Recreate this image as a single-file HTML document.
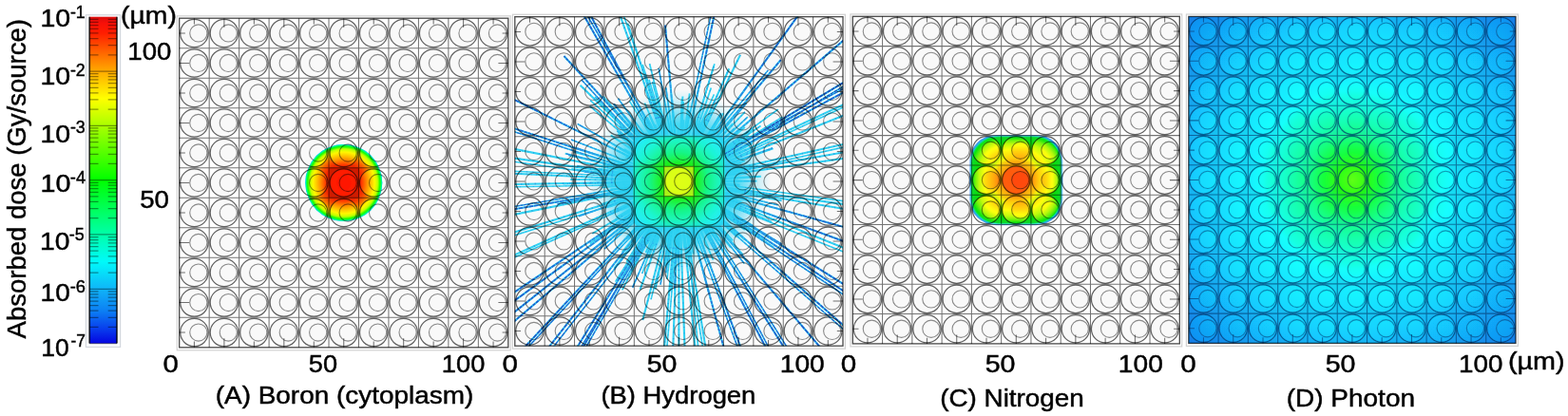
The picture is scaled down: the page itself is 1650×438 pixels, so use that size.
<!DOCTYPE html>
<html><head><meta charset="utf-8"><title>Absorbed dose maps</title>
<style>html,body{margin:0;padding:0;background:#fff}svg{display:block}text{font-family:"Liberation Sans",sans-serif;fill:#000;stroke:#000;stroke-width:0.45px}</style>
</head><body>
<svg width="1650" height="438" viewBox="0 0 1650 438">
<rect width="1650" height="438" fill="#fff"/>
<defs>
<filter id="soft" x="-2%" y="-2%" width="104%" height="104%"><feGaussianBlur stdDeviation="0.4"/></filter>
<linearGradient id="cb" x1="0" y1="0" x2="0" y2="1"><stop offset="0.0000" stop-color="#dc0c0c"/><stop offset="0.0200" stop-color="#f81008"/><stop offset="0.0500" stop-color="#ff1e00"/><stop offset="0.1667" stop-color="#ffaa00"/><stop offset="0.2500" stop-color="#ffff00"/><stop offset="0.5000" stop-color="#00ff00"/><stop offset="0.6667" stop-color="#00ffaa"/><stop offset="0.7500" stop-color="#00fafa"/><stop offset="0.8333" stop-color="#10b4f8"/><stop offset="0.9000" stop-color="#0c80f4"/><stop offset="0.9600" stop-color="#0838ec"/><stop offset="1.0000" stop-color="#0404e0"/></linearGradient>
<clipPath id="ccA">
<circle cx="204.43" cy="34.95" r="14.70"/>
<circle cx="235.90" cy="34.95" r="14.70"/>
<circle cx="267.36" cy="34.95" r="14.70"/>
<circle cx="298.82" cy="34.95" r="14.70"/>
<circle cx="330.29" cy="34.95" r="14.70"/>
<circle cx="361.75" cy="34.95" r="14.70"/>
<circle cx="393.21" cy="34.95" r="14.70"/>
<circle cx="424.68" cy="34.95" r="14.70"/>
<circle cx="456.14" cy="34.95" r="14.70"/>
<circle cx="487.60" cy="34.95" r="14.70"/>
<circle cx="519.07" cy="34.95" r="14.70"/>
<circle cx="204.43" cy="66.46" r="14.70"/>
<circle cx="235.90" cy="66.46" r="14.70"/>
<circle cx="267.36" cy="66.46" r="14.70"/>
<circle cx="298.82" cy="66.46" r="14.70"/>
<circle cx="330.29" cy="66.46" r="14.70"/>
<circle cx="361.75" cy="66.46" r="14.70"/>
<circle cx="393.21" cy="66.46" r="14.70"/>
<circle cx="424.68" cy="66.46" r="14.70"/>
<circle cx="456.14" cy="66.46" r="14.70"/>
<circle cx="487.60" cy="66.46" r="14.70"/>
<circle cx="519.07" cy="66.46" r="14.70"/>
<circle cx="204.43" cy="97.97" r="14.70"/>
<circle cx="235.90" cy="97.97" r="14.70"/>
<circle cx="267.36" cy="97.97" r="14.70"/>
<circle cx="298.82" cy="97.97" r="14.70"/>
<circle cx="330.29" cy="97.97" r="14.70"/>
<circle cx="361.75" cy="97.97" r="14.70"/>
<circle cx="393.21" cy="97.97" r="14.70"/>
<circle cx="424.68" cy="97.97" r="14.70"/>
<circle cx="456.14" cy="97.97" r="14.70"/>
<circle cx="487.60" cy="97.97" r="14.70"/>
<circle cx="519.07" cy="97.97" r="14.70"/>
<circle cx="204.43" cy="129.48" r="14.70"/>
<circle cx="235.90" cy="129.48" r="14.70"/>
<circle cx="267.36" cy="129.48" r="14.70"/>
<circle cx="298.82" cy="129.48" r="14.70"/>
<circle cx="330.29" cy="129.48" r="14.70"/>
<circle cx="361.75" cy="129.48" r="14.70"/>
<circle cx="393.21" cy="129.48" r="14.70"/>
<circle cx="424.68" cy="129.48" r="14.70"/>
<circle cx="456.14" cy="129.48" r="14.70"/>
<circle cx="487.60" cy="129.48" r="14.70"/>
<circle cx="519.07" cy="129.48" r="14.70"/>
<circle cx="204.43" cy="160.99" r="14.70"/>
<circle cx="235.90" cy="160.99" r="14.70"/>
<circle cx="267.36" cy="160.99" r="14.70"/>
<circle cx="298.82" cy="160.99" r="14.70"/>
<circle cx="330.29" cy="160.99" r="14.70"/>
<circle cx="361.75" cy="160.99" r="14.70"/>
<circle cx="393.21" cy="160.99" r="14.70"/>
<circle cx="424.68" cy="160.99" r="14.70"/>
<circle cx="456.14" cy="160.99" r="14.70"/>
<circle cx="487.60" cy="160.99" r="14.70"/>
<circle cx="519.07" cy="160.99" r="14.70"/>
<circle cx="204.43" cy="192.50" r="14.70"/>
<circle cx="235.90" cy="192.50" r="14.70"/>
<circle cx="267.36" cy="192.50" r="14.70"/>
<circle cx="298.82" cy="192.50" r="14.70"/>
<circle cx="330.29" cy="192.50" r="14.70"/>
<circle cx="361.75" cy="192.50" r="14.70"/>
<circle cx="393.21" cy="192.50" r="14.70"/>
<circle cx="424.68" cy="192.50" r="14.70"/>
<circle cx="456.14" cy="192.50" r="14.70"/>
<circle cx="487.60" cy="192.50" r="14.70"/>
<circle cx="519.07" cy="192.50" r="14.70"/>
<circle cx="204.43" cy="224.01" r="14.70"/>
<circle cx="235.90" cy="224.01" r="14.70"/>
<circle cx="267.36" cy="224.01" r="14.70"/>
<circle cx="298.82" cy="224.01" r="14.70"/>
<circle cx="330.29" cy="224.01" r="14.70"/>
<circle cx="361.75" cy="224.01" r="14.70"/>
<circle cx="393.21" cy="224.01" r="14.70"/>
<circle cx="424.68" cy="224.01" r="14.70"/>
<circle cx="456.14" cy="224.01" r="14.70"/>
<circle cx="487.60" cy="224.01" r="14.70"/>
<circle cx="519.07" cy="224.01" r="14.70"/>
<circle cx="204.43" cy="255.52" r="14.70"/>
<circle cx="235.90" cy="255.52" r="14.70"/>
<circle cx="267.36" cy="255.52" r="14.70"/>
<circle cx="298.82" cy="255.52" r="14.70"/>
<circle cx="330.29" cy="255.52" r="14.70"/>
<circle cx="361.75" cy="255.52" r="14.70"/>
<circle cx="393.21" cy="255.52" r="14.70"/>
<circle cx="424.68" cy="255.52" r="14.70"/>
<circle cx="456.14" cy="255.52" r="14.70"/>
<circle cx="487.60" cy="255.52" r="14.70"/>
<circle cx="519.07" cy="255.52" r="14.70"/>
<circle cx="204.43" cy="287.03" r="14.70"/>
<circle cx="235.90" cy="287.03" r="14.70"/>
<circle cx="267.36" cy="287.03" r="14.70"/>
<circle cx="298.82" cy="287.03" r="14.70"/>
<circle cx="330.29" cy="287.03" r="14.70"/>
<circle cx="361.75" cy="287.03" r="14.70"/>
<circle cx="393.21" cy="287.03" r="14.70"/>
<circle cx="424.68" cy="287.03" r="14.70"/>
<circle cx="456.14" cy="287.03" r="14.70"/>
<circle cx="487.60" cy="287.03" r="14.70"/>
<circle cx="519.07" cy="287.03" r="14.70"/>
<circle cx="204.43" cy="318.54" r="14.70"/>
<circle cx="235.90" cy="318.54" r="14.70"/>
<circle cx="267.36" cy="318.54" r="14.70"/>
<circle cx="298.82" cy="318.54" r="14.70"/>
<circle cx="330.29" cy="318.54" r="14.70"/>
<circle cx="361.75" cy="318.54" r="14.70"/>
<circle cx="393.21" cy="318.54" r="14.70"/>
<circle cx="424.68" cy="318.54" r="14.70"/>
<circle cx="456.14" cy="318.54" r="14.70"/>
<circle cx="487.60" cy="318.54" r="14.70"/>
<circle cx="519.07" cy="318.54" r="14.70"/>
<circle cx="204.43" cy="350.05" r="14.70"/>
<circle cx="235.90" cy="350.05" r="14.70"/>
<circle cx="267.36" cy="350.05" r="14.70"/>
<circle cx="298.82" cy="350.05" r="14.70"/>
<circle cx="330.29" cy="350.05" r="14.70"/>
<circle cx="361.75" cy="350.05" r="14.70"/>
<circle cx="393.21" cy="350.05" r="14.70"/>
<circle cx="424.68" cy="350.05" r="14.70"/>
<circle cx="456.14" cy="350.05" r="14.70"/>
<circle cx="487.60" cy="350.05" r="14.70"/>
<circle cx="519.07" cy="350.05" r="14.70"/>
</clipPath>
<clipPath id="ccC">
<circle cx="912.94" cy="32.96" r="14.70"/>
<circle cx="944.21" cy="32.96" r="14.70"/>
<circle cx="975.48" cy="32.96" r="14.70"/>
<circle cx="1006.75" cy="32.96" r="14.70"/>
<circle cx="1038.03" cy="32.96" r="14.70"/>
<circle cx="1069.30" cy="32.96" r="14.70"/>
<circle cx="1100.57" cy="32.96" r="14.70"/>
<circle cx="1131.85" cy="32.96" r="14.70"/>
<circle cx="1163.12" cy="32.96" r="14.70"/>
<circle cx="1194.39" cy="32.96" r="14.70"/>
<circle cx="1225.66" cy="32.96" r="14.70"/>
<circle cx="912.94" cy="64.29" r="14.70"/>
<circle cx="944.21" cy="64.29" r="14.70"/>
<circle cx="975.48" cy="64.29" r="14.70"/>
<circle cx="1006.75" cy="64.29" r="14.70"/>
<circle cx="1038.03" cy="64.29" r="14.70"/>
<circle cx="1069.30" cy="64.29" r="14.70"/>
<circle cx="1100.57" cy="64.29" r="14.70"/>
<circle cx="1131.85" cy="64.29" r="14.70"/>
<circle cx="1163.12" cy="64.29" r="14.70"/>
<circle cx="1194.39" cy="64.29" r="14.70"/>
<circle cx="1225.66" cy="64.29" r="14.70"/>
<circle cx="912.94" cy="95.62" r="14.70"/>
<circle cx="944.21" cy="95.62" r="14.70"/>
<circle cx="975.48" cy="95.62" r="14.70"/>
<circle cx="1006.75" cy="95.62" r="14.70"/>
<circle cx="1038.03" cy="95.62" r="14.70"/>
<circle cx="1069.30" cy="95.62" r="14.70"/>
<circle cx="1100.57" cy="95.62" r="14.70"/>
<circle cx="1131.85" cy="95.62" r="14.70"/>
<circle cx="1163.12" cy="95.62" r="14.70"/>
<circle cx="1194.39" cy="95.62" r="14.70"/>
<circle cx="1225.66" cy="95.62" r="14.70"/>
<circle cx="912.94" cy="126.95" r="14.70"/>
<circle cx="944.21" cy="126.95" r="14.70"/>
<circle cx="975.48" cy="126.95" r="14.70"/>
<circle cx="1006.75" cy="126.95" r="14.70"/>
<circle cx="1038.03" cy="126.95" r="14.70"/>
<circle cx="1069.30" cy="126.95" r="14.70"/>
<circle cx="1100.57" cy="126.95" r="14.70"/>
<circle cx="1131.85" cy="126.95" r="14.70"/>
<circle cx="1163.12" cy="126.95" r="14.70"/>
<circle cx="1194.39" cy="126.95" r="14.70"/>
<circle cx="1225.66" cy="126.95" r="14.70"/>
<circle cx="912.94" cy="158.27" r="14.70"/>
<circle cx="944.21" cy="158.27" r="14.70"/>
<circle cx="975.48" cy="158.27" r="14.70"/>
<circle cx="1006.75" cy="158.27" r="14.70"/>
<circle cx="1038.03" cy="158.27" r="14.70"/>
<circle cx="1069.30" cy="158.27" r="14.70"/>
<circle cx="1100.57" cy="158.27" r="14.70"/>
<circle cx="1131.85" cy="158.27" r="14.70"/>
<circle cx="1163.12" cy="158.27" r="14.70"/>
<circle cx="1194.39" cy="158.27" r="14.70"/>
<circle cx="1225.66" cy="158.27" r="14.70"/>
<circle cx="912.94" cy="189.60" r="14.70"/>
<circle cx="944.21" cy="189.60" r="14.70"/>
<circle cx="975.48" cy="189.60" r="14.70"/>
<circle cx="1006.75" cy="189.60" r="14.70"/>
<circle cx="1038.03" cy="189.60" r="14.70"/>
<circle cx="1069.30" cy="189.60" r="14.70"/>
<circle cx="1100.57" cy="189.60" r="14.70"/>
<circle cx="1131.85" cy="189.60" r="14.70"/>
<circle cx="1163.12" cy="189.60" r="14.70"/>
<circle cx="1194.39" cy="189.60" r="14.70"/>
<circle cx="1225.66" cy="189.60" r="14.70"/>
<circle cx="912.94" cy="220.93" r="14.70"/>
<circle cx="944.21" cy="220.93" r="14.70"/>
<circle cx="975.48" cy="220.93" r="14.70"/>
<circle cx="1006.75" cy="220.93" r="14.70"/>
<circle cx="1038.03" cy="220.93" r="14.70"/>
<circle cx="1069.30" cy="220.93" r="14.70"/>
<circle cx="1100.57" cy="220.93" r="14.70"/>
<circle cx="1131.85" cy="220.93" r="14.70"/>
<circle cx="1163.12" cy="220.93" r="14.70"/>
<circle cx="1194.39" cy="220.93" r="14.70"/>
<circle cx="1225.66" cy="220.93" r="14.70"/>
<circle cx="912.94" cy="252.25" r="14.70"/>
<circle cx="944.21" cy="252.25" r="14.70"/>
<circle cx="975.48" cy="252.25" r="14.70"/>
<circle cx="1006.75" cy="252.25" r="14.70"/>
<circle cx="1038.03" cy="252.25" r="14.70"/>
<circle cx="1069.30" cy="252.25" r="14.70"/>
<circle cx="1100.57" cy="252.25" r="14.70"/>
<circle cx="1131.85" cy="252.25" r="14.70"/>
<circle cx="1163.12" cy="252.25" r="14.70"/>
<circle cx="1194.39" cy="252.25" r="14.70"/>
<circle cx="1225.66" cy="252.25" r="14.70"/>
<circle cx="912.94" cy="283.58" r="14.70"/>
<circle cx="944.21" cy="283.58" r="14.70"/>
<circle cx="975.48" cy="283.58" r="14.70"/>
<circle cx="1006.75" cy="283.58" r="14.70"/>
<circle cx="1038.03" cy="283.58" r="14.70"/>
<circle cx="1069.30" cy="283.58" r="14.70"/>
<circle cx="1100.57" cy="283.58" r="14.70"/>
<circle cx="1131.85" cy="283.58" r="14.70"/>
<circle cx="1163.12" cy="283.58" r="14.70"/>
<circle cx="1194.39" cy="283.58" r="14.70"/>
<circle cx="1225.66" cy="283.58" r="14.70"/>
<circle cx="912.94" cy="314.91" r="14.70"/>
<circle cx="944.21" cy="314.91" r="14.70"/>
<circle cx="975.48" cy="314.91" r="14.70"/>
<circle cx="1006.75" cy="314.91" r="14.70"/>
<circle cx="1038.03" cy="314.91" r="14.70"/>
<circle cx="1069.30" cy="314.91" r="14.70"/>
<circle cx="1100.57" cy="314.91" r="14.70"/>
<circle cx="1131.85" cy="314.91" r="14.70"/>
<circle cx="1163.12" cy="314.91" r="14.70"/>
<circle cx="1194.39" cy="314.91" r="14.70"/>
<circle cx="1225.66" cy="314.91" r="14.70"/>
<circle cx="912.94" cy="346.24" r="14.70"/>
<circle cx="944.21" cy="346.24" r="14.70"/>
<circle cx="975.48" cy="346.24" r="14.70"/>
<circle cx="1006.75" cy="346.24" r="14.70"/>
<circle cx="1038.03" cy="346.24" r="14.70"/>
<circle cx="1069.30" cy="346.24" r="14.70"/>
<circle cx="1100.57" cy="346.24" r="14.70"/>
<circle cx="1131.85" cy="346.24" r="14.70"/>
<circle cx="1163.12" cy="346.24" r="14.70"/>
<circle cx="1194.39" cy="346.24" r="14.70"/>
<circle cx="1225.66" cy="346.24" r="14.70"/>
</clipPath>
<clipPath id="ccD">
<circle cx="1266.45" cy="33.04" r="14.70"/>
<circle cx="1297.74" cy="33.04" r="14.70"/>
<circle cx="1329.03" cy="33.04" r="14.70"/>
<circle cx="1360.32" cy="33.04" r="14.70"/>
<circle cx="1391.61" cy="33.04" r="14.70"/>
<circle cx="1422.90" cy="33.04" r="14.70"/>
<circle cx="1454.19" cy="33.04" r="14.70"/>
<circle cx="1485.48" cy="33.04" r="14.70"/>
<circle cx="1516.77" cy="33.04" r="14.70"/>
<circle cx="1548.06" cy="33.04" r="14.70"/>
<circle cx="1579.35" cy="33.04" r="14.70"/>
<circle cx="1266.45" cy="64.31" r="14.70"/>
<circle cx="1297.74" cy="64.31" r="14.70"/>
<circle cx="1329.03" cy="64.31" r="14.70"/>
<circle cx="1360.32" cy="64.31" r="14.70"/>
<circle cx="1391.61" cy="64.31" r="14.70"/>
<circle cx="1422.90" cy="64.31" r="14.70"/>
<circle cx="1454.19" cy="64.31" r="14.70"/>
<circle cx="1485.48" cy="64.31" r="14.70"/>
<circle cx="1516.77" cy="64.31" r="14.70"/>
<circle cx="1548.06" cy="64.31" r="14.70"/>
<circle cx="1579.35" cy="64.31" r="14.70"/>
<circle cx="1266.45" cy="95.58" r="14.70"/>
<circle cx="1297.74" cy="95.58" r="14.70"/>
<circle cx="1329.03" cy="95.58" r="14.70"/>
<circle cx="1360.32" cy="95.58" r="14.70"/>
<circle cx="1391.61" cy="95.58" r="14.70"/>
<circle cx="1422.90" cy="95.58" r="14.70"/>
<circle cx="1454.19" cy="95.58" r="14.70"/>
<circle cx="1485.48" cy="95.58" r="14.70"/>
<circle cx="1516.77" cy="95.58" r="14.70"/>
<circle cx="1548.06" cy="95.58" r="14.70"/>
<circle cx="1579.35" cy="95.58" r="14.70"/>
<circle cx="1266.45" cy="126.85" r="14.70"/>
<circle cx="1297.74" cy="126.85" r="14.70"/>
<circle cx="1329.03" cy="126.85" r="14.70"/>
<circle cx="1360.32" cy="126.85" r="14.70"/>
<circle cx="1391.61" cy="126.85" r="14.70"/>
<circle cx="1422.90" cy="126.85" r="14.70"/>
<circle cx="1454.19" cy="126.85" r="14.70"/>
<circle cx="1485.48" cy="126.85" r="14.70"/>
<circle cx="1516.77" cy="126.85" r="14.70"/>
<circle cx="1548.06" cy="126.85" r="14.70"/>
<circle cx="1579.35" cy="126.85" r="14.70"/>
<circle cx="1266.45" cy="158.13" r="14.70"/>
<circle cx="1297.74" cy="158.13" r="14.70"/>
<circle cx="1329.03" cy="158.13" r="14.70"/>
<circle cx="1360.32" cy="158.13" r="14.70"/>
<circle cx="1391.61" cy="158.13" r="14.70"/>
<circle cx="1422.90" cy="158.13" r="14.70"/>
<circle cx="1454.19" cy="158.13" r="14.70"/>
<circle cx="1485.48" cy="158.13" r="14.70"/>
<circle cx="1516.77" cy="158.13" r="14.70"/>
<circle cx="1548.06" cy="158.13" r="14.70"/>
<circle cx="1579.35" cy="158.13" r="14.70"/>
<circle cx="1266.45" cy="189.40" r="14.70"/>
<circle cx="1297.74" cy="189.40" r="14.70"/>
<circle cx="1329.03" cy="189.40" r="14.70"/>
<circle cx="1360.32" cy="189.40" r="14.70"/>
<circle cx="1391.61" cy="189.40" r="14.70"/>
<circle cx="1422.90" cy="189.40" r="14.70"/>
<circle cx="1454.19" cy="189.40" r="14.70"/>
<circle cx="1485.48" cy="189.40" r="14.70"/>
<circle cx="1516.77" cy="189.40" r="14.70"/>
<circle cx="1548.06" cy="189.40" r="14.70"/>
<circle cx="1579.35" cy="189.40" r="14.70"/>
<circle cx="1266.45" cy="220.67" r="14.70"/>
<circle cx="1297.74" cy="220.67" r="14.70"/>
<circle cx="1329.03" cy="220.67" r="14.70"/>
<circle cx="1360.32" cy="220.67" r="14.70"/>
<circle cx="1391.61" cy="220.67" r="14.70"/>
<circle cx="1422.90" cy="220.67" r="14.70"/>
<circle cx="1454.19" cy="220.67" r="14.70"/>
<circle cx="1485.48" cy="220.67" r="14.70"/>
<circle cx="1516.77" cy="220.67" r="14.70"/>
<circle cx="1548.06" cy="220.67" r="14.70"/>
<circle cx="1579.35" cy="220.67" r="14.70"/>
<circle cx="1266.45" cy="251.95" r="14.70"/>
<circle cx="1297.74" cy="251.95" r="14.70"/>
<circle cx="1329.03" cy="251.95" r="14.70"/>
<circle cx="1360.32" cy="251.95" r="14.70"/>
<circle cx="1391.61" cy="251.95" r="14.70"/>
<circle cx="1422.90" cy="251.95" r="14.70"/>
<circle cx="1454.19" cy="251.95" r="14.70"/>
<circle cx="1485.48" cy="251.95" r="14.70"/>
<circle cx="1516.77" cy="251.95" r="14.70"/>
<circle cx="1548.06" cy="251.95" r="14.70"/>
<circle cx="1579.35" cy="251.95" r="14.70"/>
<circle cx="1266.45" cy="283.22" r="14.70"/>
<circle cx="1297.74" cy="283.22" r="14.70"/>
<circle cx="1329.03" cy="283.22" r="14.70"/>
<circle cx="1360.32" cy="283.22" r="14.70"/>
<circle cx="1391.61" cy="283.22" r="14.70"/>
<circle cx="1422.90" cy="283.22" r="14.70"/>
<circle cx="1454.19" cy="283.22" r="14.70"/>
<circle cx="1485.48" cy="283.22" r="14.70"/>
<circle cx="1516.77" cy="283.22" r="14.70"/>
<circle cx="1548.06" cy="283.22" r="14.70"/>
<circle cx="1579.35" cy="283.22" r="14.70"/>
<circle cx="1266.45" cy="314.49" r="14.70"/>
<circle cx="1297.74" cy="314.49" r="14.70"/>
<circle cx="1329.03" cy="314.49" r="14.70"/>
<circle cx="1360.32" cy="314.49" r="14.70"/>
<circle cx="1391.61" cy="314.49" r="14.70"/>
<circle cx="1422.90" cy="314.49" r="14.70"/>
<circle cx="1454.19" cy="314.49" r="14.70"/>
<circle cx="1485.48" cy="314.49" r="14.70"/>
<circle cx="1516.77" cy="314.49" r="14.70"/>
<circle cx="1548.06" cy="314.49" r="14.70"/>
<circle cx="1579.35" cy="314.49" r="14.70"/>
<circle cx="1266.45" cy="345.76" r="14.70"/>
<circle cx="1297.74" cy="345.76" r="14.70"/>
<circle cx="1329.03" cy="345.76" r="14.70"/>
<circle cx="1360.32" cy="345.76" r="14.70"/>
<circle cx="1391.61" cy="345.76" r="14.70"/>
<circle cx="1422.90" cy="345.76" r="14.70"/>
<circle cx="1454.19" cy="345.76" r="14.70"/>
<circle cx="1485.48" cy="345.76" r="14.70"/>
<circle cx="1516.77" cy="345.76" r="14.70"/>
<circle cx="1548.06" cy="345.76" r="14.70"/>
<circle cx="1579.35" cy="345.76" r="14.70"/>
</clipPath>
<clipPath id="ccB">
<circle cx="557.49" cy="33.40" r="14.70"/>
<circle cx="588.87" cy="33.40" r="14.70"/>
<circle cx="620.25" cy="33.40" r="14.70"/>
<circle cx="651.64" cy="33.40" r="14.70"/>
<circle cx="683.02" cy="33.40" r="14.70"/>
<circle cx="714.40" cy="33.40" r="14.70"/>
<circle cx="745.78" cy="33.40" r="14.70"/>
<circle cx="777.16" cy="33.40" r="14.70"/>
<circle cx="808.55" cy="33.40" r="14.70"/>
<circle cx="839.93" cy="33.40" r="14.70"/>
<circle cx="871.31" cy="33.40" r="14.70"/>
<circle cx="557.49" cy="64.91" r="14.70"/>
<circle cx="588.87" cy="64.91" r="14.70"/>
<circle cx="620.25" cy="64.91" r="14.70"/>
<circle cx="651.64" cy="64.91" r="14.70"/>
<circle cx="683.02" cy="64.91" r="14.70"/>
<circle cx="714.40" cy="64.91" r="14.70"/>
<circle cx="745.78" cy="64.91" r="14.70"/>
<circle cx="777.16" cy="64.91" r="14.70"/>
<circle cx="808.55" cy="64.91" r="14.70"/>
<circle cx="839.93" cy="64.91" r="14.70"/>
<circle cx="871.31" cy="64.91" r="14.70"/>
<circle cx="557.49" cy="96.41" r="14.70"/>
<circle cx="588.87" cy="96.41" r="14.70"/>
<circle cx="620.25" cy="96.41" r="14.70"/>
<circle cx="651.64" cy="96.41" r="14.70"/>
<circle cx="683.02" cy="96.41" r="14.70"/>
<circle cx="714.40" cy="96.41" r="14.70"/>
<circle cx="745.78" cy="96.41" r="14.70"/>
<circle cx="777.16" cy="96.41" r="14.70"/>
<circle cx="808.55" cy="96.41" r="14.70"/>
<circle cx="839.93" cy="96.41" r="14.70"/>
<circle cx="871.31" cy="96.41" r="14.70"/>
<circle cx="557.49" cy="127.92" r="14.70"/>
<circle cx="588.87" cy="127.92" r="14.70"/>
<circle cx="620.25" cy="127.92" r="14.70"/>
<circle cx="651.64" cy="127.92" r="14.70"/>
<circle cx="683.02" cy="127.92" r="14.70"/>
<circle cx="714.40" cy="127.92" r="14.70"/>
<circle cx="745.78" cy="127.92" r="14.70"/>
<circle cx="777.16" cy="127.92" r="14.70"/>
<circle cx="808.55" cy="127.92" r="14.70"/>
<circle cx="839.93" cy="127.92" r="14.70"/>
<circle cx="871.31" cy="127.92" r="14.70"/>
<circle cx="557.49" cy="159.42" r="14.70"/>
<circle cx="588.87" cy="159.42" r="14.70"/>
<circle cx="620.25" cy="159.42" r="14.70"/>
<circle cx="651.64" cy="159.42" r="14.70"/>
<circle cx="683.02" cy="159.42" r="14.70"/>
<circle cx="714.40" cy="159.42" r="14.70"/>
<circle cx="745.78" cy="159.42" r="14.70"/>
<circle cx="777.16" cy="159.42" r="14.70"/>
<circle cx="808.55" cy="159.42" r="14.70"/>
<circle cx="839.93" cy="159.42" r="14.70"/>
<circle cx="871.31" cy="159.42" r="14.70"/>
<circle cx="557.49" cy="190.93" r="14.70"/>
<circle cx="588.87" cy="190.93" r="14.70"/>
<circle cx="620.25" cy="190.93" r="14.70"/>
<circle cx="651.64" cy="190.93" r="14.70"/>
<circle cx="683.02" cy="190.93" r="14.70"/>
<circle cx="714.40" cy="190.93" r="14.70"/>
<circle cx="745.78" cy="190.93" r="14.70"/>
<circle cx="777.16" cy="190.93" r="14.70"/>
<circle cx="808.55" cy="190.93" r="14.70"/>
<circle cx="839.93" cy="190.93" r="14.70"/>
<circle cx="871.31" cy="190.93" r="14.70"/>
<circle cx="557.49" cy="222.43" r="14.70"/>
<circle cx="588.87" cy="222.43" r="14.70"/>
<circle cx="620.25" cy="222.43" r="14.70"/>
<circle cx="651.64" cy="222.43" r="14.70"/>
<circle cx="683.02" cy="222.43" r="14.70"/>
<circle cx="714.40" cy="222.43" r="14.70"/>
<circle cx="745.78" cy="222.43" r="14.70"/>
<circle cx="777.16" cy="222.43" r="14.70"/>
<circle cx="808.55" cy="222.43" r="14.70"/>
<circle cx="839.93" cy="222.43" r="14.70"/>
<circle cx="871.31" cy="222.43" r="14.70"/>
<circle cx="557.49" cy="253.93" r="14.70"/>
<circle cx="588.87" cy="253.93" r="14.70"/>
<circle cx="620.25" cy="253.93" r="14.70"/>
<circle cx="651.64" cy="253.93" r="14.70"/>
<circle cx="683.02" cy="253.93" r="14.70"/>
<circle cx="714.40" cy="253.93" r="14.70"/>
<circle cx="745.78" cy="253.93" r="14.70"/>
<circle cx="777.16" cy="253.93" r="14.70"/>
<circle cx="808.55" cy="253.93" r="14.70"/>
<circle cx="839.93" cy="253.93" r="14.70"/>
<circle cx="871.31" cy="253.93" r="14.70"/>
<circle cx="557.49" cy="285.44" r="14.70"/>
<circle cx="588.87" cy="285.44" r="14.70"/>
<circle cx="620.25" cy="285.44" r="14.70"/>
<circle cx="651.64" cy="285.44" r="14.70"/>
<circle cx="683.02" cy="285.44" r="14.70"/>
<circle cx="714.40" cy="285.44" r="14.70"/>
<circle cx="745.78" cy="285.44" r="14.70"/>
<circle cx="777.16" cy="285.44" r="14.70"/>
<circle cx="808.55" cy="285.44" r="14.70"/>
<circle cx="839.93" cy="285.44" r="14.70"/>
<circle cx="871.31" cy="285.44" r="14.70"/>
<circle cx="557.49" cy="316.94" r="14.70"/>
<circle cx="588.87" cy="316.94" r="14.70"/>
<circle cx="620.25" cy="316.94" r="14.70"/>
<circle cx="651.64" cy="316.94" r="14.70"/>
<circle cx="683.02" cy="316.94" r="14.70"/>
<circle cx="714.40" cy="316.94" r="14.70"/>
<circle cx="745.78" cy="316.94" r="14.70"/>
<circle cx="777.16" cy="316.94" r="14.70"/>
<circle cx="808.55" cy="316.94" r="14.70"/>
<circle cx="839.93" cy="316.94" r="14.70"/>
<circle cx="871.31" cy="316.94" r="14.70"/>
<circle cx="557.49" cy="348.45" r="14.70"/>
<circle cx="588.87" cy="348.45" r="14.70"/>
<circle cx="620.25" cy="348.45" r="14.70"/>
<circle cx="651.64" cy="348.45" r="14.70"/>
<circle cx="683.02" cy="348.45" r="14.70"/>
<circle cx="714.40" cy="348.45" r="14.70"/>
<circle cx="745.78" cy="348.45" r="14.70"/>
<circle cx="777.16" cy="348.45" r="14.70"/>
<circle cx="808.55" cy="348.45" r="14.70"/>
<circle cx="839.93" cy="348.45" r="14.70"/>
<circle cx="871.31" cy="348.45" r="14.70"/>
</clipPath>
<clipPath id="cnC">
<circle cx="917.34" cy="32.96" r="9.10"/>
<circle cx="948.61" cy="32.96" r="9.10"/>
<circle cx="979.88" cy="32.96" r="9.10"/>
<circle cx="1011.15" cy="32.96" r="9.10"/>
<circle cx="1042.43" cy="32.96" r="9.10"/>
<circle cx="1073.70" cy="32.96" r="9.10"/>
<circle cx="1104.97" cy="32.96" r="9.10"/>
<circle cx="1136.25" cy="32.96" r="9.10"/>
<circle cx="1167.52" cy="32.96" r="9.10"/>
<circle cx="1198.79" cy="32.96" r="9.10"/>
<circle cx="1230.06" cy="32.96" r="9.10"/>
<circle cx="917.34" cy="64.29" r="9.10"/>
<circle cx="948.61" cy="64.29" r="9.10"/>
<circle cx="979.88" cy="64.29" r="9.10"/>
<circle cx="1011.15" cy="64.29" r="9.10"/>
<circle cx="1042.43" cy="64.29" r="9.10"/>
<circle cx="1073.70" cy="64.29" r="9.10"/>
<circle cx="1104.97" cy="64.29" r="9.10"/>
<circle cx="1136.25" cy="64.29" r="9.10"/>
<circle cx="1167.52" cy="64.29" r="9.10"/>
<circle cx="1198.79" cy="64.29" r="9.10"/>
<circle cx="1230.06" cy="64.29" r="9.10"/>
<circle cx="917.34" cy="95.62" r="9.10"/>
<circle cx="948.61" cy="95.62" r="9.10"/>
<circle cx="979.88" cy="95.62" r="9.10"/>
<circle cx="1011.15" cy="95.62" r="9.10"/>
<circle cx="1042.43" cy="95.62" r="9.10"/>
<circle cx="1073.70" cy="95.62" r="9.10"/>
<circle cx="1104.97" cy="95.62" r="9.10"/>
<circle cx="1136.25" cy="95.62" r="9.10"/>
<circle cx="1167.52" cy="95.62" r="9.10"/>
<circle cx="1198.79" cy="95.62" r="9.10"/>
<circle cx="1230.06" cy="95.62" r="9.10"/>
<circle cx="917.34" cy="126.95" r="9.10"/>
<circle cx="948.61" cy="126.95" r="9.10"/>
<circle cx="979.88" cy="126.95" r="9.10"/>
<circle cx="1011.15" cy="126.95" r="9.10"/>
<circle cx="1042.43" cy="126.95" r="9.10"/>
<circle cx="1073.70" cy="126.95" r="9.10"/>
<circle cx="1104.97" cy="126.95" r="9.10"/>
<circle cx="1136.25" cy="126.95" r="9.10"/>
<circle cx="1167.52" cy="126.95" r="9.10"/>
<circle cx="1198.79" cy="126.95" r="9.10"/>
<circle cx="1230.06" cy="126.95" r="9.10"/>
<circle cx="917.34" cy="158.27" r="9.10"/>
<circle cx="948.61" cy="158.27" r="9.10"/>
<circle cx="979.88" cy="158.27" r="9.10"/>
<circle cx="1011.15" cy="158.27" r="9.10"/>
<circle cx="1042.43" cy="158.27" r="9.10"/>
<circle cx="1073.70" cy="158.27" r="9.10"/>
<circle cx="1104.97" cy="158.27" r="9.10"/>
<circle cx="1136.25" cy="158.27" r="9.10"/>
<circle cx="1167.52" cy="158.27" r="9.10"/>
<circle cx="1198.79" cy="158.27" r="9.10"/>
<circle cx="1230.06" cy="158.27" r="9.10"/>
<circle cx="917.34" cy="189.60" r="9.10"/>
<circle cx="948.61" cy="189.60" r="9.10"/>
<circle cx="979.88" cy="189.60" r="9.10"/>
<circle cx="1011.15" cy="189.60" r="9.10"/>
<circle cx="1042.43" cy="189.60" r="9.10"/>
<circle cx="1073.70" cy="189.60" r="9.10"/>
<circle cx="1104.97" cy="189.60" r="9.10"/>
<circle cx="1136.25" cy="189.60" r="9.10"/>
<circle cx="1167.52" cy="189.60" r="9.10"/>
<circle cx="1198.79" cy="189.60" r="9.10"/>
<circle cx="1230.06" cy="189.60" r="9.10"/>
<circle cx="917.34" cy="220.93" r="9.10"/>
<circle cx="948.61" cy="220.93" r="9.10"/>
<circle cx="979.88" cy="220.93" r="9.10"/>
<circle cx="1011.15" cy="220.93" r="9.10"/>
<circle cx="1042.43" cy="220.93" r="9.10"/>
<circle cx="1073.70" cy="220.93" r="9.10"/>
<circle cx="1104.97" cy="220.93" r="9.10"/>
<circle cx="1136.25" cy="220.93" r="9.10"/>
<circle cx="1167.52" cy="220.93" r="9.10"/>
<circle cx="1198.79" cy="220.93" r="9.10"/>
<circle cx="1230.06" cy="220.93" r="9.10"/>
<circle cx="917.34" cy="252.25" r="9.10"/>
<circle cx="948.61" cy="252.25" r="9.10"/>
<circle cx="979.88" cy="252.25" r="9.10"/>
<circle cx="1011.15" cy="252.25" r="9.10"/>
<circle cx="1042.43" cy="252.25" r="9.10"/>
<circle cx="1073.70" cy="252.25" r="9.10"/>
<circle cx="1104.97" cy="252.25" r="9.10"/>
<circle cx="1136.25" cy="252.25" r="9.10"/>
<circle cx="1167.52" cy="252.25" r="9.10"/>
<circle cx="1198.79" cy="252.25" r="9.10"/>
<circle cx="1230.06" cy="252.25" r="9.10"/>
<circle cx="917.34" cy="283.58" r="9.10"/>
<circle cx="948.61" cy="283.58" r="9.10"/>
<circle cx="979.88" cy="283.58" r="9.10"/>
<circle cx="1011.15" cy="283.58" r="9.10"/>
<circle cx="1042.43" cy="283.58" r="9.10"/>
<circle cx="1073.70" cy="283.58" r="9.10"/>
<circle cx="1104.97" cy="283.58" r="9.10"/>
<circle cx="1136.25" cy="283.58" r="9.10"/>
<circle cx="1167.52" cy="283.58" r="9.10"/>
<circle cx="1198.79" cy="283.58" r="9.10"/>
<circle cx="1230.06" cy="283.58" r="9.10"/>
<circle cx="917.34" cy="314.91" r="9.10"/>
<circle cx="948.61" cy="314.91" r="9.10"/>
<circle cx="979.88" cy="314.91" r="9.10"/>
<circle cx="1011.15" cy="314.91" r="9.10"/>
<circle cx="1042.43" cy="314.91" r="9.10"/>
<circle cx="1073.70" cy="314.91" r="9.10"/>
<circle cx="1104.97" cy="314.91" r="9.10"/>
<circle cx="1136.25" cy="314.91" r="9.10"/>
<circle cx="1167.52" cy="314.91" r="9.10"/>
<circle cx="1198.79" cy="314.91" r="9.10"/>
<circle cx="1230.06" cy="314.91" r="9.10"/>
<circle cx="917.34" cy="346.24" r="9.10"/>
<circle cx="948.61" cy="346.24" r="9.10"/>
<circle cx="979.88" cy="346.24" r="9.10"/>
<circle cx="1011.15" cy="346.24" r="9.10"/>
<circle cx="1042.43" cy="346.24" r="9.10"/>
<circle cx="1073.70" cy="346.24" r="9.10"/>
<circle cx="1104.97" cy="346.24" r="9.10"/>
<circle cx="1136.25" cy="346.24" r="9.10"/>
<circle cx="1167.52" cy="346.24" r="9.10"/>
<circle cx="1198.79" cy="346.24" r="9.10"/>
<circle cx="1230.06" cy="346.24" r="9.10"/>
</clipPath>
<clipPath id="cnD">
<circle cx="1270.85" cy="33.04" r="9.10"/>
<circle cx="1302.14" cy="33.04" r="9.10"/>
<circle cx="1333.43" cy="33.04" r="9.10"/>
<circle cx="1364.72" cy="33.04" r="9.10"/>
<circle cx="1396.01" cy="33.04" r="9.10"/>
<circle cx="1427.30" cy="33.04" r="9.10"/>
<circle cx="1458.59" cy="33.04" r="9.10"/>
<circle cx="1489.88" cy="33.04" r="9.10"/>
<circle cx="1521.17" cy="33.04" r="9.10"/>
<circle cx="1552.46" cy="33.04" r="9.10"/>
<circle cx="1583.75" cy="33.04" r="9.10"/>
<circle cx="1270.85" cy="64.31" r="9.10"/>
<circle cx="1302.14" cy="64.31" r="9.10"/>
<circle cx="1333.43" cy="64.31" r="9.10"/>
<circle cx="1364.72" cy="64.31" r="9.10"/>
<circle cx="1396.01" cy="64.31" r="9.10"/>
<circle cx="1427.30" cy="64.31" r="9.10"/>
<circle cx="1458.59" cy="64.31" r="9.10"/>
<circle cx="1489.88" cy="64.31" r="9.10"/>
<circle cx="1521.17" cy="64.31" r="9.10"/>
<circle cx="1552.46" cy="64.31" r="9.10"/>
<circle cx="1583.75" cy="64.31" r="9.10"/>
<circle cx="1270.85" cy="95.58" r="9.10"/>
<circle cx="1302.14" cy="95.58" r="9.10"/>
<circle cx="1333.43" cy="95.58" r="9.10"/>
<circle cx="1364.72" cy="95.58" r="9.10"/>
<circle cx="1396.01" cy="95.58" r="9.10"/>
<circle cx="1427.30" cy="95.58" r="9.10"/>
<circle cx="1458.59" cy="95.58" r="9.10"/>
<circle cx="1489.88" cy="95.58" r="9.10"/>
<circle cx="1521.17" cy="95.58" r="9.10"/>
<circle cx="1552.46" cy="95.58" r="9.10"/>
<circle cx="1583.75" cy="95.58" r="9.10"/>
<circle cx="1270.85" cy="126.85" r="9.10"/>
<circle cx="1302.14" cy="126.85" r="9.10"/>
<circle cx="1333.43" cy="126.85" r="9.10"/>
<circle cx="1364.72" cy="126.85" r="9.10"/>
<circle cx="1396.01" cy="126.85" r="9.10"/>
<circle cx="1427.30" cy="126.85" r="9.10"/>
<circle cx="1458.59" cy="126.85" r="9.10"/>
<circle cx="1489.88" cy="126.85" r="9.10"/>
<circle cx="1521.17" cy="126.85" r="9.10"/>
<circle cx="1552.46" cy="126.85" r="9.10"/>
<circle cx="1583.75" cy="126.85" r="9.10"/>
<circle cx="1270.85" cy="158.13" r="9.10"/>
<circle cx="1302.14" cy="158.13" r="9.10"/>
<circle cx="1333.43" cy="158.13" r="9.10"/>
<circle cx="1364.72" cy="158.13" r="9.10"/>
<circle cx="1396.01" cy="158.13" r="9.10"/>
<circle cx="1427.30" cy="158.13" r="9.10"/>
<circle cx="1458.59" cy="158.13" r="9.10"/>
<circle cx="1489.88" cy="158.13" r="9.10"/>
<circle cx="1521.17" cy="158.13" r="9.10"/>
<circle cx="1552.46" cy="158.13" r="9.10"/>
<circle cx="1583.75" cy="158.13" r="9.10"/>
<circle cx="1270.85" cy="189.40" r="9.10"/>
<circle cx="1302.14" cy="189.40" r="9.10"/>
<circle cx="1333.43" cy="189.40" r="9.10"/>
<circle cx="1364.72" cy="189.40" r="9.10"/>
<circle cx="1396.01" cy="189.40" r="9.10"/>
<circle cx="1427.30" cy="189.40" r="9.10"/>
<circle cx="1458.59" cy="189.40" r="9.10"/>
<circle cx="1489.88" cy="189.40" r="9.10"/>
<circle cx="1521.17" cy="189.40" r="9.10"/>
<circle cx="1552.46" cy="189.40" r="9.10"/>
<circle cx="1583.75" cy="189.40" r="9.10"/>
<circle cx="1270.85" cy="220.67" r="9.10"/>
<circle cx="1302.14" cy="220.67" r="9.10"/>
<circle cx="1333.43" cy="220.67" r="9.10"/>
<circle cx="1364.72" cy="220.67" r="9.10"/>
<circle cx="1396.01" cy="220.67" r="9.10"/>
<circle cx="1427.30" cy="220.67" r="9.10"/>
<circle cx="1458.59" cy="220.67" r="9.10"/>
<circle cx="1489.88" cy="220.67" r="9.10"/>
<circle cx="1521.17" cy="220.67" r="9.10"/>
<circle cx="1552.46" cy="220.67" r="9.10"/>
<circle cx="1583.75" cy="220.67" r="9.10"/>
<circle cx="1270.85" cy="251.95" r="9.10"/>
<circle cx="1302.14" cy="251.95" r="9.10"/>
<circle cx="1333.43" cy="251.95" r="9.10"/>
<circle cx="1364.72" cy="251.95" r="9.10"/>
<circle cx="1396.01" cy="251.95" r="9.10"/>
<circle cx="1427.30" cy="251.95" r="9.10"/>
<circle cx="1458.59" cy="251.95" r="9.10"/>
<circle cx="1489.88" cy="251.95" r="9.10"/>
<circle cx="1521.17" cy="251.95" r="9.10"/>
<circle cx="1552.46" cy="251.95" r="9.10"/>
<circle cx="1583.75" cy="251.95" r="9.10"/>
<circle cx="1270.85" cy="283.22" r="9.10"/>
<circle cx="1302.14" cy="283.22" r="9.10"/>
<circle cx="1333.43" cy="283.22" r="9.10"/>
<circle cx="1364.72" cy="283.22" r="9.10"/>
<circle cx="1396.01" cy="283.22" r="9.10"/>
<circle cx="1427.30" cy="283.22" r="9.10"/>
<circle cx="1458.59" cy="283.22" r="9.10"/>
<circle cx="1489.88" cy="283.22" r="9.10"/>
<circle cx="1521.17" cy="283.22" r="9.10"/>
<circle cx="1552.46" cy="283.22" r="9.10"/>
<circle cx="1583.75" cy="283.22" r="9.10"/>
<circle cx="1270.85" cy="314.49" r="9.10"/>
<circle cx="1302.14" cy="314.49" r="9.10"/>
<circle cx="1333.43" cy="314.49" r="9.10"/>
<circle cx="1364.72" cy="314.49" r="9.10"/>
<circle cx="1396.01" cy="314.49" r="9.10"/>
<circle cx="1427.30" cy="314.49" r="9.10"/>
<circle cx="1458.59" cy="314.49" r="9.10"/>
<circle cx="1489.88" cy="314.49" r="9.10"/>
<circle cx="1521.17" cy="314.49" r="9.10"/>
<circle cx="1552.46" cy="314.49" r="9.10"/>
<circle cx="1583.75" cy="314.49" r="9.10"/>
<circle cx="1270.85" cy="345.76" r="9.10"/>
<circle cx="1302.14" cy="345.76" r="9.10"/>
<circle cx="1333.43" cy="345.76" r="9.10"/>
<circle cx="1364.72" cy="345.76" r="9.10"/>
<circle cx="1396.01" cy="345.76" r="9.10"/>
<circle cx="1427.30" cy="345.76" r="9.10"/>
<circle cx="1458.59" cy="345.76" r="9.10"/>
<circle cx="1489.88" cy="345.76" r="9.10"/>
<circle cx="1521.17" cy="345.76" r="9.10"/>
<circle cx="1552.46" cy="345.76" r="9.10"/>
<circle cx="1583.75" cy="345.76" r="9.10"/>
</clipPath>
<radialGradient id="gA1" gradientUnits="userSpaceOnUse" cx="361.75" cy="192.50" r="40.50"><stop offset="0.0000" stop-color="#e82000"/><stop offset="0.5000" stop-color="#f02800"/><stop offset="0.6000" stop-color="#f74a00"/><stop offset="0.6800" stop-color="#f77300"/><stop offset="0.7600" stop-color="#faa700"/><stop offset="0.8500" stop-color="#fff700"/><stop offset="0.9100" stop-color="#80ff00"/><stop offset="0.9600" stop-color="#00ff2a"/><stop offset="0.9900" stop-color="#00ffd4"/><stop offset="1.0000" stop-color="#00bfff"/></radialGradient>
<radialGradient id="gA2" gradientUnits="userSpaceOnUse" cx="361.75" cy="192.50" r="40.50"><stop offset="0.0000" stop-color="#ff1400"/><stop offset="0.4200" stop-color="#ff2000"/><stop offset="0.5000" stop-color="#ff4d00"/><stop offset="0.6000" stop-color="#ff8c00"/><stop offset="0.7000" stop-color="#ffc300"/><stop offset="0.8000" stop-color="#fff700"/><stop offset="0.8800" stop-color="#bfff00"/><stop offset="0.9400" stop-color="#15ff00"/><stop offset="0.9800" stop-color="#00ff80"/><stop offset="1.0000" stop-color="#00d4ff"/></radialGradient>
<radialGradient id="gD1" gradientUnits="userSpaceOnUse" cx="1422.90" cy="189.40" r="250.00"><stop offset="0.0000" stop-color="#47f213"/><stop offset="0.0600" stop-color="#22f213"/><stop offset="0.1240" stop-color="#13f253"/><stop offset="0.1880" stop-color="#13f292"/><stop offset="0.2520" stop-color="#13f2bb"/><stop offset="0.3000" stop-color="#13f2d1"/><stop offset="0.3560" stop-color="#13f2eb"/><stop offset="0.3760" stop-color="#13ebf2"/><stop offset="0.4200" stop-color="#13dcf2"/><stop offset="0.5000" stop-color="#13d1f2"/><stop offset="0.6280" stop-color="#13bef2"/><stop offset="0.6880" stop-color="#13b3f2"/><stop offset="0.8800" stop-color="#138ce9"/><stop offset="1.0000" stop-color="#1277e4"/></radialGradient>
<radialGradient id="gD2" gradientUnits="userSpaceOnUse" cx="1422.90" cy="189.40" r="250.00"><stop offset="0.0000" stop-color="#55ff12"/><stop offset="0.0600" stop-color="#2eff12"/><stop offset="0.1240" stop-color="#12ff49"/><stop offset="0.1880" stop-color="#12ff8c"/><stop offset="0.2520" stop-color="#12ffb8"/><stop offset="0.3000" stop-color="#12ffd0"/><stop offset="0.3560" stop-color="#12ffeb"/><stop offset="0.3760" stop-color="#12fffb"/><stop offset="0.4200" stop-color="#12f3ff"/><stop offset="0.5000" stop-color="#12e7ff"/><stop offset="0.6280" stop-color="#12d4ff"/><stop offset="0.6880" stop-color="#12c7ff"/><stop offset="0.8800" stop-color="#119ef5"/><stop offset="1.0000" stop-color="#1188f0"/></radialGradient>
<radialGradient id="gD3" gradientUnits="userSpaceOnUse" cx="1422.90" cy="189.40" r="250.00"><stop offset="0.0000" stop-color="#5fff12"/><stop offset="0.0600" stop-color="#37ff12"/><stop offset="0.1240" stop-color="#12ff3f"/><stop offset="0.1880" stop-color="#12ff82"/><stop offset="0.2520" stop-color="#12ffae"/><stop offset="0.3000" stop-color="#12ffc6"/><stop offset="0.3560" stop-color="#12ffe1"/><stop offset="0.3760" stop-color="#12fff1"/><stop offset="0.4200" stop-color="#12fdff"/><stop offset="0.5000" stop-color="#12f1ff"/><stop offset="0.6280" stop-color="#12ddff"/><stop offset="0.6880" stop-color="#12d1ff"/><stop offset="0.8800" stop-color="#11a7f5"/><stop offset="1.0000" stop-color="#1191f0"/></radialGradient>
<radialGradient id="gB1" gradientUnits="userSpaceOnUse" cx="714.40" cy="190.93" r="70.00"><stop offset="0.0000" stop-color="#34ed18"/><stop offset="0.3000" stop-color="#1fed18"/><stop offset="0.5000" stop-color="#18ed66"/><stop offset="0.6800" stop-color="#1cedca"/><stop offset="0.8500" stop-color="#24def2"/><stop offset="1.0000" stop-color="#30cbf2"/></radialGradient>
<radialGradient id="gB2" gradientUnits="userSpaceOnUse" cx="714.40" cy="190.93" r="70.00"><stop offset="0.0000" stop-color="#e0ff14"/><stop offset="0.2100" stop-color="#d8ff14"/><stop offset="0.2450" stop-color="#1ff218"/><stop offset="0.4400" stop-color="#18f587"/><stop offset="0.6600" stop-color="#1df5d4"/><stop offset="0.8300" stop-color="#25edf7"/><stop offset="1.0000" stop-color="#31d6f7"/></radialGradient>
<radialGradient id="gBh" gradientUnits="userSpaceOnUse" cx="714.40" cy="190.93" r="100.00"><stop offset="0.0000" stop-color="#24dcf2" stop-opacity="0.9"/><stop offset="0.6000" stop-color="#28d4f2" stop-opacity="0.85"/><stop offset="0.7200" stop-color="#2cd0f2" stop-opacity="0.55"/><stop offset="0.8500" stop-color="#30ccf2" stop-opacity="0.2"/><stop offset="0.9700" stop-color="#38c8f2" stop-opacity="0"/></radialGradient>
<radialGradient id="gBt" gradientUnits="userSpaceOnUse" cx="714.40" cy="190.93" r="250.00"><stop offset="0.0000" stop-color="#24dcf0"/><stop offset="0.2600" stop-color="#28ccf0"/><stop offset="0.4000" stop-color="#2a94e6"/><stop offset="0.5500" stop-color="#256cd8"/><stop offset="0.8000" stop-color="#2058cc"/><stop offset="1.0000" stop-color="#1e50c4"/></radialGradient>
<radialGradient id="gBd" gradientUnits="userSpaceOnUse" cx="714.40" cy="190.93" r="250.00"><stop offset="0.0000" stop-color="#20a0e0"/><stop offset="0.4000" stop-color="#1c50c0"/><stop offset="1.0000" stop-color="#1a3cae"/></radialGradient>
<radialGradient id="gBc" gradientUnits="userSpaceOnUse" cx="714.40" cy="190.93" r="250.00"><stop offset="0.0000" stop-color="#20d8e8"/><stop offset="0.4000" stop-color="#30c8ec"/><stop offset="1.0000" stop-color="#38b4e6"/></radialGradient>
<clipPath id="clA"><circle cx="361.75" cy="192.50" r="40.50"/></clipPath>
<clipPath id="pcA"><rect x="188.70" y="19.20" width="346.10" height="346.60"/></clipPath>
<clipPath id="pcB"><rect x="541.80" y="17.65" width="345.20" height="346.55"/></clipPath>
<clipPath id="pcC"><rect x="897.30" y="17.30" width="344.00" height="344.60"/></clipPath>
<clipPath id="pcD"><rect x="1250.80" y="17.40" width="344.20" height="344.00"/></clipPath>
</defs>
<rect x="90.4" y="15.7" width="36.2" height="349.7" fill="#fbfcfe" stroke="#d4d8de" stroke-width="1.2"/>
<rect x="94.2" y="17.7" width="28.80" height="343.90" fill="url(#cb)"/>
<path d="M94.2 75.02H123.0M94.2 57.76h9.3M123.0 57.76h-9.3M94.2 47.67h9.3M123.0 47.67h-9.3M94.2 40.51h9.3M123.0 40.51h-9.3M94.2 34.95h9.3M123.0 34.95h-9.3M94.2 30.42h9.3M123.0 30.42h-9.3M94.2 26.58h9.3M123.0 26.58h-9.3M94.2 23.25h9.3M123.0 23.25h-9.3M94.2 20.32h9.3M123.0 20.32h-9.3M94.2 132.33H123.0M94.2 115.08h9.3M123.0 115.08h-9.3M94.2 104.99h9.3M123.0 104.99h-9.3M94.2 97.83h9.3M123.0 97.83h-9.3M94.2 92.27h9.3M123.0 92.27h-9.3M94.2 87.73h9.3M123.0 87.73h-9.3M94.2 83.90h9.3M123.0 83.90h-9.3M94.2 80.57h9.3M123.0 80.57h-9.3M94.2 77.64h9.3M123.0 77.64h-9.3M94.2 189.65H123.0M94.2 172.40h9.3M123.0 172.40h-9.3M94.2 162.30h9.3M123.0 162.30h-9.3M94.2 155.14h9.3M123.0 155.14h-9.3M94.2 149.59h9.3M123.0 149.59h-9.3M94.2 145.05h9.3M123.0 145.05h-9.3M94.2 141.21h9.3M123.0 141.21h-9.3M94.2 137.89h9.3M123.0 137.89h-9.3M94.2 134.96h9.3M123.0 134.96h-9.3M94.2 246.97H123.0M94.2 229.71h9.3M123.0 229.71h-9.3M94.2 219.62h9.3M123.0 219.62h-9.3M94.2 212.46h9.3M123.0 212.46h-9.3M94.2 206.90h9.3M123.0 206.90h-9.3M94.2 202.37h9.3M123.0 202.37h-9.3M94.2 198.53h9.3M123.0 198.53h-9.3M94.2 195.20h9.3M123.0 195.20h-9.3M94.2 192.27h9.3M123.0 192.27h-9.3M94.2 304.28H123.0M94.2 287.03h9.3M123.0 287.03h-9.3M94.2 276.94h9.3M123.0 276.94h-9.3M94.2 269.78h9.3M123.0 269.78h-9.3M94.2 264.22h9.3M123.0 264.22h-9.3M94.2 259.68h9.3M123.0 259.68h-9.3M94.2 255.85h9.3M123.0 255.85h-9.3M94.2 252.52h9.3M123.0 252.52h-9.3M94.2 249.59h9.3M123.0 249.59h-9.3M94.2 361.60H123.0M94.2 344.35h9.3M123.0 344.35h-9.3M94.2 334.25h9.3M123.0 334.25h-9.3M94.2 327.09h9.3M123.0 327.09h-9.3M94.2 321.54h9.3M123.0 321.54h-9.3M94.2 317.00h9.3M123.0 317.00h-9.3M94.2 313.16h9.3M123.0 313.16h-9.3M94.2 309.84h9.3M123.0 309.84h-9.3M94.2 306.91h9.3M123.0 306.91h-9.3" stroke="#000" stroke-opacity="0.4" stroke-width="1.25" fill="none"/>
<path d="M94.2 17.7V361.6M123.0 17.7V361.6" stroke="#000" stroke-opacity="0.78" stroke-width="1.7" fill="none"/>
<text transform="translate(42.52,27.90) scale(1.0956,1)" font-size="26.00">10</text>
<text transform="translate(73.88,18.80) scale(0.9715,1)" font-size="18.40">-1</text>
<text transform="translate(42.52,88.60) scale(1.0956,1)" font-size="26.00">10</text>
<text transform="translate(73.88,79.50) scale(0.9715,1)" font-size="18.40">-2</text>
<text transform="translate(42.52,149.50) scale(1.0956,1)" font-size="26.00">10</text>
<text transform="translate(73.88,140.40) scale(0.9715,1)" font-size="18.40">-3</text>
<text transform="translate(42.55,202.30) scale(1.1053,1)" font-size="26.00">10</text>
<text transform="translate(73.87,193.20) scale(0.9942,1)" font-size="18.40">-4</text>
<text transform="translate(41.94,262.50) scale(1.0878,1)" font-size="26.00">10</text>
<text transform="translate(72.68,253.40) scale(0.9729,1)" font-size="18.40">-5</text>
<text transform="translate(42.62,316.70) scale(1.0742,1)" font-size="26.00">10</text>
<text transform="translate(73.77,307.60) scale(0.9918,1)" font-size="18.40">-6</text>
<text transform="translate(43.28,374.50) scale(1.0179,1)" font-size="26.00">10</text>
<text transform="translate(74.51,365.40) scale(0.9443,1)" font-size="18.40">-7</text>
<text transform="translate(26.7,356.4) rotate(-90) scale(0.9828,1)" font-size="28.0">Absorbed dose (Gy/source)</text>
<text transform="translate(127.00,25.10) scale(1.0701,1)" font-size="26.50">(µm)</text>
<text transform="translate(134.29,63.30) scale(1.0620,1)" font-size="26.00">100</text>
<text transform="translate(147.19,219.40) scale(1.0642,1)" font-size="26.00">50</text>
<text transform="translate(171.62,392.40) scale(1.1298,1)" font-size="26.00">0</text>
<text transform="translate(324.81,392.40) scale(1.0456,1)" font-size="26.00">50</text>
<text transform="translate(464.82,392.40) scale(1.0496,1)" font-size="26.00">100</text>
<text transform="translate(528.62,392.40) scale(1.1378,1)" font-size="26.00">0</text>
<text transform="translate(680.66,392.40) scale(1.0978,1)" font-size="26.00">50</text>
<text transform="translate(820.74,392.40) scale(1.0844,1)" font-size="26.00">100</text>
<text transform="translate(884.72,392.40) scale(1.1378,1)" font-size="26.00">0</text>
<text transform="translate(1036.65,392.40) scale(1.1016,1)" font-size="26.00">50</text>
<text transform="translate(1176.85,392.40) scale(1.0819,1)" font-size="26.00">100</text>
<text transform="translate(1242.22,392.40) scale(1.1378,1)" font-size="26.00">0</text>
<text transform="translate(1394.65,392.40) scale(1.1016,1)" font-size="26.00">50</text>
<text transform="translate(1535.08,392.40) scale(1.0695,1)" font-size="26.00">100</text>
<text transform="translate(1586.97,389.20) scale(1.0856,1)" font-size="26.50">(µm)</text>
<text transform="translate(226.72,424.60) scale(1.0867,1)" font-size="25.70">(A) Boron (cytoplasm)</text>
<text transform="translate(632.46,424.70) scale(1.0664,1)" font-size="25.70">(B) Hydrogen</text>
<text transform="translate(989.23,427.80) scale(1.0832,1)" font-size="25.70">(C) Nitrogen</text>
<text transform="translate(1353.72,427.80) scale(1.0888,1)" font-size="25.70">(D) Photon</text>
<g filter="url(#soft)">
<rect x="188.7" y="19.2" width="346.10" height="346.60" fill="#fff"/>
<g clip-path="url(#ccA)"><rect x="188.7" y="19.2" width="346.10" height="346.60" fill="#f9f9f9"/></g>
<circle cx="361.75" cy="192.50" r="40.5" fill="url(#gA1)"/>
<rect x="346.02" y="176.77" width="31.46" height="31.46" fill="#d01a00"/>
<g clip-path="url(#ccA)"><circle cx="361.75" cy="192.50" r="40.5" fill="url(#gA2)"/></g>
<g fill="none" stroke="#000" stroke-width="1.25" stroke-opacity="0.62">
<path d="M220.16 19.20V365.80M251.63 19.20V365.80M283.09 19.20V365.80M314.55 19.20V365.80M346.02 19.20V365.80M377.48 19.20V365.80M408.95 19.20V365.80M440.41 19.20V365.80M471.87 19.20V365.80M503.34 19.20V365.80M188.70 50.71H534.80M188.70 82.22H534.80M188.70 113.73H534.80M188.70 145.24H534.80M188.70 176.75H534.80M188.70 208.25H534.80M188.70 239.76H534.80M188.70 271.27H534.80M188.70 302.78H534.80M188.70 334.29H534.80M204.43 19.20v6.2M204.43 365.80v-6.2M235.90 19.20v9.5M235.90 365.80v-9.5M267.36 19.20v6.2M267.36 365.80v-6.2M298.82 19.20v9.5M298.82 365.80v-9.5M330.29 19.20v6.2M330.29 365.80v-6.2M361.75 19.20v9.5M361.75 365.80v-9.5M393.21 19.20v6.2M393.21 365.80v-6.2M424.68 19.20v9.5M424.68 365.80v-9.5M456.14 19.20v6.2M456.14 365.80v-6.2M487.60 19.20v9.5M487.60 365.80v-9.5M519.07 19.20v6.2M519.07 365.80v-6.2M188.70 34.95h6.2M534.80 34.95h-6.2M188.70 66.46h10.4M534.80 66.46h-10.4M188.70 97.97h6.2M534.80 97.97h-6.2M188.70 129.48h10.4M534.80 129.48h-10.4M188.70 160.99h6.2M534.80 160.99h-6.2M188.70 192.50h10.4M534.80 192.50h-10.4M188.70 224.01h6.2M534.80 224.01h-6.2M188.70 255.52h10.4M534.80 255.52h-10.4M188.70 287.03h6.2M534.80 287.03h-6.2M188.70 318.54h10.4M534.80 318.54h-10.4M188.70 350.05h6.2M534.80 350.05h-6.2" stroke-width="1.05" stroke-opacity="0.55"/>
<circle cx="204.43" cy="34.95" r="14.70"/>
<circle cx="235.90" cy="34.95" r="14.70"/>
<circle cx="267.36" cy="34.95" r="14.70"/>
<circle cx="298.82" cy="34.95" r="14.70"/>
<circle cx="330.29" cy="34.95" r="14.70"/>
<circle cx="361.75" cy="34.95" r="14.70"/>
<circle cx="393.21" cy="34.95" r="14.70"/>
<circle cx="424.68" cy="34.95" r="14.70"/>
<circle cx="456.14" cy="34.95" r="14.70"/>
<circle cx="487.60" cy="34.95" r="14.70"/>
<circle cx="519.07" cy="34.95" r="14.70"/>
<circle cx="204.43" cy="66.46" r="14.70"/>
<circle cx="235.90" cy="66.46" r="14.70"/>
<circle cx="267.36" cy="66.46" r="14.70"/>
<circle cx="298.82" cy="66.46" r="14.70"/>
<circle cx="330.29" cy="66.46" r="14.70"/>
<circle cx="361.75" cy="66.46" r="14.70"/>
<circle cx="393.21" cy="66.46" r="14.70"/>
<circle cx="424.68" cy="66.46" r="14.70"/>
<circle cx="456.14" cy="66.46" r="14.70"/>
<circle cx="487.60" cy="66.46" r="14.70"/>
<circle cx="519.07" cy="66.46" r="14.70"/>
<circle cx="204.43" cy="97.97" r="14.70"/>
<circle cx="235.90" cy="97.97" r="14.70"/>
<circle cx="267.36" cy="97.97" r="14.70"/>
<circle cx="298.82" cy="97.97" r="14.70"/>
<circle cx="330.29" cy="97.97" r="14.70"/>
<circle cx="361.75" cy="97.97" r="14.70"/>
<circle cx="393.21" cy="97.97" r="14.70"/>
<circle cx="424.68" cy="97.97" r="14.70"/>
<circle cx="456.14" cy="97.97" r="14.70"/>
<circle cx="487.60" cy="97.97" r="14.70"/>
<circle cx="519.07" cy="97.97" r="14.70"/>
<circle cx="204.43" cy="129.48" r="14.70"/>
<circle cx="235.90" cy="129.48" r="14.70"/>
<circle cx="267.36" cy="129.48" r="14.70"/>
<circle cx="298.82" cy="129.48" r="14.70"/>
<circle cx="330.29" cy="129.48" r="14.70"/>
<circle cx="361.75" cy="129.48" r="14.70"/>
<circle cx="393.21" cy="129.48" r="14.70"/>
<circle cx="424.68" cy="129.48" r="14.70"/>
<circle cx="456.14" cy="129.48" r="14.70"/>
<circle cx="487.60" cy="129.48" r="14.70"/>
<circle cx="519.07" cy="129.48" r="14.70"/>
<circle cx="204.43" cy="160.99" r="14.70"/>
<circle cx="235.90" cy="160.99" r="14.70"/>
<circle cx="267.36" cy="160.99" r="14.70"/>
<circle cx="298.82" cy="160.99" r="14.70"/>
<circle cx="330.29" cy="160.99" r="14.70"/>
<circle cx="361.75" cy="160.99" r="14.70"/>
<circle cx="393.21" cy="160.99" r="14.70"/>
<circle cx="424.68" cy="160.99" r="14.70"/>
<circle cx="456.14" cy="160.99" r="14.70"/>
<circle cx="487.60" cy="160.99" r="14.70"/>
<circle cx="519.07" cy="160.99" r="14.70"/>
<circle cx="204.43" cy="192.50" r="14.70"/>
<circle cx="235.90" cy="192.50" r="14.70"/>
<circle cx="267.36" cy="192.50" r="14.70"/>
<circle cx="298.82" cy="192.50" r="14.70"/>
<circle cx="330.29" cy="192.50" r="14.70"/>
<circle cx="361.75" cy="192.50" r="14.70"/>
<circle cx="393.21" cy="192.50" r="14.70"/>
<circle cx="424.68" cy="192.50" r="14.70"/>
<circle cx="456.14" cy="192.50" r="14.70"/>
<circle cx="487.60" cy="192.50" r="14.70"/>
<circle cx="519.07" cy="192.50" r="14.70"/>
<circle cx="204.43" cy="224.01" r="14.70"/>
<circle cx="235.90" cy="224.01" r="14.70"/>
<circle cx="267.36" cy="224.01" r="14.70"/>
<circle cx="298.82" cy="224.01" r="14.70"/>
<circle cx="330.29" cy="224.01" r="14.70"/>
<circle cx="361.75" cy="224.01" r="14.70"/>
<circle cx="393.21" cy="224.01" r="14.70"/>
<circle cx="424.68" cy="224.01" r="14.70"/>
<circle cx="456.14" cy="224.01" r="14.70"/>
<circle cx="487.60" cy="224.01" r="14.70"/>
<circle cx="519.07" cy="224.01" r="14.70"/>
<circle cx="204.43" cy="255.52" r="14.70"/>
<circle cx="235.90" cy="255.52" r="14.70"/>
<circle cx="267.36" cy="255.52" r="14.70"/>
<circle cx="298.82" cy="255.52" r="14.70"/>
<circle cx="330.29" cy="255.52" r="14.70"/>
<circle cx="361.75" cy="255.52" r="14.70"/>
<circle cx="393.21" cy="255.52" r="14.70"/>
<circle cx="424.68" cy="255.52" r="14.70"/>
<circle cx="456.14" cy="255.52" r="14.70"/>
<circle cx="487.60" cy="255.52" r="14.70"/>
<circle cx="519.07" cy="255.52" r="14.70"/>
<circle cx="204.43" cy="287.03" r="14.70"/>
<circle cx="235.90" cy="287.03" r="14.70"/>
<circle cx="267.36" cy="287.03" r="14.70"/>
<circle cx="298.82" cy="287.03" r="14.70"/>
<circle cx="330.29" cy="287.03" r="14.70"/>
<circle cx="361.75" cy="287.03" r="14.70"/>
<circle cx="393.21" cy="287.03" r="14.70"/>
<circle cx="424.68" cy="287.03" r="14.70"/>
<circle cx="456.14" cy="287.03" r="14.70"/>
<circle cx="487.60" cy="287.03" r="14.70"/>
<circle cx="519.07" cy="287.03" r="14.70"/>
<circle cx="204.43" cy="318.54" r="14.70"/>
<circle cx="235.90" cy="318.54" r="14.70"/>
<circle cx="267.36" cy="318.54" r="14.70"/>
<circle cx="298.82" cy="318.54" r="14.70"/>
<circle cx="330.29" cy="318.54" r="14.70"/>
<circle cx="361.75" cy="318.54" r="14.70"/>
<circle cx="393.21" cy="318.54" r="14.70"/>
<circle cx="424.68" cy="318.54" r="14.70"/>
<circle cx="456.14" cy="318.54" r="14.70"/>
<circle cx="487.60" cy="318.54" r="14.70"/>
<circle cx="519.07" cy="318.54" r="14.70"/>
<circle cx="204.43" cy="350.05" r="14.70"/>
<circle cx="235.90" cy="350.05" r="14.70"/>
<circle cx="267.36" cy="350.05" r="14.70"/>
<circle cx="298.82" cy="350.05" r="14.70"/>
<circle cx="330.29" cy="350.05" r="14.70"/>
<circle cx="361.75" cy="350.05" r="14.70"/>
<circle cx="393.21" cy="350.05" r="14.70"/>
<circle cx="424.68" cy="350.05" r="14.70"/>
<circle cx="456.14" cy="350.05" r="14.70"/>
<circle cx="487.60" cy="350.05" r="14.70"/>
<circle cx="519.07" cy="350.05" r="14.70"/>
</g>
<g fill="none" stroke="#000" stroke-width="1.1" stroke-opacity="0.45">
<circle cx="208.83" cy="34.95" r="9.10"/>
<circle cx="240.30" cy="34.95" r="9.10"/>
<circle cx="271.76" cy="34.95" r="9.10"/>
<circle cx="303.22" cy="34.95" r="9.10"/>
<circle cx="334.69" cy="34.95" r="9.10"/>
<circle cx="366.15" cy="34.95" r="9.10"/>
<circle cx="397.61" cy="34.95" r="9.10"/>
<circle cx="429.08" cy="34.95" r="9.10"/>
<circle cx="460.54" cy="34.95" r="9.10"/>
<circle cx="492.00" cy="34.95" r="9.10"/>
<circle cx="523.47" cy="34.95" r="9.10"/>
<circle cx="208.83" cy="66.46" r="9.10"/>
<circle cx="240.30" cy="66.46" r="9.10"/>
<circle cx="271.76" cy="66.46" r="9.10"/>
<circle cx="303.22" cy="66.46" r="9.10"/>
<circle cx="334.69" cy="66.46" r="9.10"/>
<circle cx="366.15" cy="66.46" r="9.10"/>
<circle cx="397.61" cy="66.46" r="9.10"/>
<circle cx="429.08" cy="66.46" r="9.10"/>
<circle cx="460.54" cy="66.46" r="9.10"/>
<circle cx="492.00" cy="66.46" r="9.10"/>
<circle cx="523.47" cy="66.46" r="9.10"/>
<circle cx="208.83" cy="97.97" r="9.10"/>
<circle cx="240.30" cy="97.97" r="9.10"/>
<circle cx="271.76" cy="97.97" r="9.10"/>
<circle cx="303.22" cy="97.97" r="9.10"/>
<circle cx="334.69" cy="97.97" r="9.10"/>
<circle cx="366.15" cy="97.97" r="9.10"/>
<circle cx="397.61" cy="97.97" r="9.10"/>
<circle cx="429.08" cy="97.97" r="9.10"/>
<circle cx="460.54" cy="97.97" r="9.10"/>
<circle cx="492.00" cy="97.97" r="9.10"/>
<circle cx="523.47" cy="97.97" r="9.10"/>
<circle cx="208.83" cy="129.48" r="9.10"/>
<circle cx="240.30" cy="129.48" r="9.10"/>
<circle cx="271.76" cy="129.48" r="9.10"/>
<circle cx="303.22" cy="129.48" r="9.10"/>
<circle cx="334.69" cy="129.48" r="9.10"/>
<circle cx="366.15" cy="129.48" r="9.10"/>
<circle cx="397.61" cy="129.48" r="9.10"/>
<circle cx="429.08" cy="129.48" r="9.10"/>
<circle cx="460.54" cy="129.48" r="9.10"/>
<circle cx="492.00" cy="129.48" r="9.10"/>
<circle cx="523.47" cy="129.48" r="9.10"/>
<circle cx="208.83" cy="160.99" r="9.10"/>
<circle cx="240.30" cy="160.99" r="9.10"/>
<circle cx="271.76" cy="160.99" r="9.10"/>
<circle cx="303.22" cy="160.99" r="9.10"/>
<circle cx="334.69" cy="160.99" r="9.10"/>
<circle cx="366.15" cy="160.99" r="9.10"/>
<circle cx="397.61" cy="160.99" r="9.10"/>
<circle cx="429.08" cy="160.99" r="9.10"/>
<circle cx="460.54" cy="160.99" r="9.10"/>
<circle cx="492.00" cy="160.99" r="9.10"/>
<circle cx="523.47" cy="160.99" r="9.10"/>
<circle cx="208.83" cy="192.50" r="9.10"/>
<circle cx="240.30" cy="192.50" r="9.10"/>
<circle cx="271.76" cy="192.50" r="9.10"/>
<circle cx="303.22" cy="192.50" r="9.10"/>
<circle cx="334.69" cy="192.50" r="9.10"/>
<circle cx="366.15" cy="192.50" r="9.10"/>
<circle cx="397.61" cy="192.50" r="9.10"/>
<circle cx="429.08" cy="192.50" r="9.10"/>
<circle cx="460.54" cy="192.50" r="9.10"/>
<circle cx="492.00" cy="192.50" r="9.10"/>
<circle cx="523.47" cy="192.50" r="9.10"/>
<circle cx="208.83" cy="224.01" r="9.10"/>
<circle cx="240.30" cy="224.01" r="9.10"/>
<circle cx="271.76" cy="224.01" r="9.10"/>
<circle cx="303.22" cy="224.01" r="9.10"/>
<circle cx="334.69" cy="224.01" r="9.10"/>
<circle cx="366.15" cy="224.01" r="9.10"/>
<circle cx="397.61" cy="224.01" r="9.10"/>
<circle cx="429.08" cy="224.01" r="9.10"/>
<circle cx="460.54" cy="224.01" r="9.10"/>
<circle cx="492.00" cy="224.01" r="9.10"/>
<circle cx="523.47" cy="224.01" r="9.10"/>
<circle cx="208.83" cy="255.52" r="9.10"/>
<circle cx="240.30" cy="255.52" r="9.10"/>
<circle cx="271.76" cy="255.52" r="9.10"/>
<circle cx="303.22" cy="255.52" r="9.10"/>
<circle cx="334.69" cy="255.52" r="9.10"/>
<circle cx="366.15" cy="255.52" r="9.10"/>
<circle cx="397.61" cy="255.52" r="9.10"/>
<circle cx="429.08" cy="255.52" r="9.10"/>
<circle cx="460.54" cy="255.52" r="9.10"/>
<circle cx="492.00" cy="255.52" r="9.10"/>
<circle cx="523.47" cy="255.52" r="9.10"/>
<circle cx="208.83" cy="287.03" r="9.10"/>
<circle cx="240.30" cy="287.03" r="9.10"/>
<circle cx="271.76" cy="287.03" r="9.10"/>
<circle cx="303.22" cy="287.03" r="9.10"/>
<circle cx="334.69" cy="287.03" r="9.10"/>
<circle cx="366.15" cy="287.03" r="9.10"/>
<circle cx="397.61" cy="287.03" r="9.10"/>
<circle cx="429.08" cy="287.03" r="9.10"/>
<circle cx="460.54" cy="287.03" r="9.10"/>
<circle cx="492.00" cy="287.03" r="9.10"/>
<circle cx="523.47" cy="287.03" r="9.10"/>
<circle cx="208.83" cy="318.54" r="9.10"/>
<circle cx="240.30" cy="318.54" r="9.10"/>
<circle cx="271.76" cy="318.54" r="9.10"/>
<circle cx="303.22" cy="318.54" r="9.10"/>
<circle cx="334.69" cy="318.54" r="9.10"/>
<circle cx="366.15" cy="318.54" r="9.10"/>
<circle cx="397.61" cy="318.54" r="9.10"/>
<circle cx="429.08" cy="318.54" r="9.10"/>
<circle cx="460.54" cy="318.54" r="9.10"/>
<circle cx="492.00" cy="318.54" r="9.10"/>
<circle cx="523.47" cy="318.54" r="9.10"/>
<circle cx="208.83" cy="350.05" r="9.10"/>
<circle cx="240.30" cy="350.05" r="9.10"/>
<circle cx="271.76" cy="350.05" r="9.10"/>
<circle cx="303.22" cy="350.05" r="9.10"/>
<circle cx="334.69" cy="350.05" r="9.10"/>
<circle cx="366.15" cy="350.05" r="9.10"/>
<circle cx="397.61" cy="350.05" r="9.10"/>
<circle cx="429.08" cy="350.05" r="9.10"/>
<circle cx="460.54" cy="350.05" r="9.10"/>
<circle cx="492.00" cy="350.05" r="9.10"/>
<circle cx="523.47" cy="350.05" r="9.10"/>
</g>
<rect x="188.70" y="19.20" width="346.10" height="346.60" fill="none" stroke="#000" stroke-opacity="0.72" stroke-width="1.3"/>
<rect x="186.30" y="16.80" width="350.90" height="352.00" fill="none" stroke="#d2d2d2" stroke-width="1.2"/>
<rect x="541.8" y="17.65" width="345.20" height="346.55" fill="#fff"/>
<g clip-path="url(#ccB)"><rect x="541.8" y="17.65" width="345.20" height="346.55" fill="#f9f9f9"/></g>
<circle cx="714.40" cy="190.93" r="100" fill="url(#gBh)" clip-path="url(#pcB)"/>
<g clip-path="url(#pcB)" fill="none" stroke="#30d2f2"><line x1="694.5" y1="156.2" x2="515.6" y2="-156.2" stroke-width="2.1"/><line x1="697.3" y1="154.6" x2="540.2" y2="-119.6" stroke-width="1.6"/><line x1="695.6" y1="155.6" x2="526.6" y2="-162.3" stroke-width="2.1"/><line x1="701.0" y1="153.2" x2="580.9" y2="-186.1" stroke-width="2.1"/><line x1="704.3" y1="152.1" x2="590.7" y2="-168.8" stroke-width="1.6"/><line x1="702.0" y1="152.9" x2="660.3" y2="24.5" stroke-width="2.1"/><line x1="687.4" y1="161.4" x2="593.5" y2="59.0" stroke-width="2.1"/><line x1="684.9" y1="163.7" x2="612.1" y2="84.2" stroke-width="1.6"/><line x1="685.8" y1="163.0" x2="610.6" y2="89.7" stroke-width="2.1"/><line x1="678.6" y1="173.1" x2="356.1" y2="13.1" stroke-width="2.1"/><line x1="710.9" y1="151.1" x2="700.0" y2="26.6" stroke-width="2.1"/><line x1="722.7" y1="151.8" x2="797.6" y2="-200.3" stroke-width="2.1"/><line x1="719.4" y1="151.1" x2="782.8" y2="-147.5" stroke-width="1.6"/><line x1="731.9" y1="154.9" x2="779.0" y2="57.8" stroke-width="2.1"/><line x1="730.7" y1="154.4" x2="767.3" y2="72.2" stroke-width="2.1"/><line x1="727.6" y1="153.0" x2="751.4" y2="99.4" stroke-width="1.6"/><line x1="737.7" y1="158.4" x2="947.8" y2="-133.9" stroke-width="2.1"/><line x1="740.1" y1="160.3" x2="821.7" y2="63.0" stroke-width="2.1"/><line x1="737.6" y1="158.2" x2="808.3" y2="74.0" stroke-width="1.6"/><line x1="744.8" y1="164.9" x2="1018.1" y2="-69.4" stroke-width="2.1"/><line x1="748.7" y1="170.3" x2="1057.3" y2="-15.1" stroke-width="2.1"/><line x1="750.5" y1="173.3" x2="1030.1" y2="5.3" stroke-width="1.6"/><line x1="749.6" y1="171.9" x2="1066.3" y2="0.7" stroke-width="2.1"/><line x1="747.9" y1="168.8" x2="1025.1" y2="18.9" stroke-width="1.6"/><line x1="750.7" y1="174.0" x2="1076.9" y2="21.9" stroke-width="2.1"/><line x1="751.7" y1="176.3" x2="1008.2" y2="56.7" stroke-width="1.6"/><line x1="751.5" y1="176.1" x2="1085.8" y2="42.4" stroke-width="2.1"/><line x1="753.4" y1="182.1" x2="1104.6" y2="103.0" stroke-width="2.1"/><line x1="754.1" y1="185.1" x2="1018.3" y2="125.6" stroke-width="1.6"/><line x1="753.8" y1="184.0" x2="1108.3" y2="121.5" stroke-width="2.1"/><line x1="754.0" y1="185.4" x2="1110.6" y2="135.9" stroke-width="2.1"/><line x1="676.3" y1="178.7" x2="333.5" y2="68.6" stroke-width="2.1"/><line x1="675.3" y1="181.7" x2="407.8" y2="95.9" stroke-width="1.6"/><line x1="675.1" y1="183.2" x2="321.9" y2="113.9" stroke-width="2.1"/><line x1="674.8" y1="185.4" x2="318.3" y2="135.3" stroke-width="2.1"/><line x1="674.3" y1="189.0" x2="409.6" y2="151.8" stroke-width="1.6"/><line x1="674.4" y1="189.0" x2="314.8" y2="172.1" stroke-width="2.1"/><line x1="674.6" y1="186.5" x2="406.1" y2="173.9" stroke-width="1.6"/><line x1="674.4" y1="191.6" x2="314.5" y2="197.9" stroke-width="2.1"/><line x1="674.5" y1="194.5" x2="322.2" y2="200.6" stroke-width="1.6"/><line x1="675.0" y1="197.6" x2="320.0" y2="257.6" stroke-width="2.1"/><line x1="674.5" y1="194.9" x2="412.2" y2="239.2" stroke-width="1.6"/><line x1="675.2" y1="198.8" x2="322.3" y2="270.0" stroke-width="2.1"/><line x1="676.2" y1="202.8" x2="332.3" y2="309.2" stroke-width="2.1"/><line x1="677.1" y1="205.7" x2="410.5" y2="288.3" stroke-width="1.6"/><line x1="677.9" y1="207.3" x2="349.3" y2="354.3" stroke-width="2.1"/><line x1="678.9" y1="209.5" x2="405.5" y2="331.8" stroke-width="1.6"/><line x1="681.2" y1="213.3" x2="382.8" y2="414.6" stroke-width="2.1"/><line x1="682.0" y1="214.4" x2="390.8" y2="426.0" stroke-width="2.1"/><line x1="683.1" y1="215.8" x2="401.4" y2="439.9" stroke-width="2.1"/><line x1="683.9" y1="216.8" x2="409.8" y2="450.2" stroke-width="2.1"/><line x1="687.2" y1="220.2" x2="442.1" y2="483.9" stroke-width="2.1"/><line x1="689.0" y1="222.0" x2="499.3" y2="426.2" stroke-width="1.6"/><line x1="689.7" y1="222.4" x2="467.6" y2="505.7" stroke-width="2.1"/><line x1="692.6" y1="224.7" x2="504.9" y2="464.0" stroke-width="1.6"/><line x1="694.4" y1="225.6" x2="514.4" y2="537.3" stroke-width="2.1"/><line x1="696.7" y1="226.9" x2="551.8" y2="477.7" stroke-width="1.6"/><line x1="693.5" y1="225.0" x2="505.4" y2="532.0" stroke-width="2.1"/><line x1="696.4" y1="226.8" x2="527.3" y2="502.8" stroke-width="1.6"/><line x1="700.9" y1="228.6" x2="673.6" y2="304.8" stroke-width="2.1"/><line x1="697.4" y1="227.3" x2="675.7" y2="288.0" stroke-width="1.6"/><line x1="704.3" y1="229.6" x2="676.3" y2="337.0" stroke-width="2.1"/><line x1="707.2" y1="230.4" x2="685.0" y2="315.4" stroke-width="1.6"/><line x1="710.9" y1="230.8" x2="679.5" y2="589.4" stroke-width="2.1"/><line x1="713.6" y1="231.0" x2="685.7" y2="550.8" stroke-width="1.6"/><line x1="713.0" y1="230.9" x2="700.4" y2="590.7" stroke-width="2.1"/><line x1="714.4" y1="230.9" x2="714.4" y2="590.9" stroke-width="2.1"/><line x1="715.8" y1="230.9" x2="728.4" y2="590.7" stroke-width="2.1"/><line x1="718.3" y1="230.7" x2="753.4" y2="589.0" stroke-width="2.1"/><line x1="721.4" y1="230.4" x2="751.5" y2="537.2" stroke-width="1.6"/><line x1="720.7" y1="230.4" x2="777.7" y2="585.9" stroke-width="2.1"/><line x1="717.9" y1="230.9" x2="759.6" y2="491.4" stroke-width="1.6"/><line x1="724.8" y1="229.5" x2="818.6" y2="577.1" stroke-width="2.1"/><line x1="728.3" y1="228.4" x2="853.8" y2="565.8" stroke-width="2.1"/><line x1="725.6" y1="229.4" x2="844.9" y2="550.3" stroke-width="1.6"/><line x1="732.9" y1="226.4" x2="899.7" y2="545.4" stroke-width="2.1"/><line x1="735.3" y1="225.1" x2="889.1" y2="519.4" stroke-width="1.6"/><line x1="735.8" y1="224.7" x2="928.1" y2="529.0" stroke-width="2.1"/><line x1="738.2" y1="223.2" x2="912.1" y2="498.2" stroke-width="1.6"/><line x1="740.3" y1="221.4" x2="973.6" y2="495.5" stroke-width="2.1"/><line x1="744.5" y1="217.3" x2="1015.4" y2="454.4" stroke-width="2.1"/><line x1="742.4" y1="219.6" x2="939.3" y2="392.0" stroke-width="1.6"/><line x1="747.7" y1="213.1" x2="1047.2" y2="412.9" stroke-width="2.1"/><line x1="746.0" y1="215.7" x2="966.2" y2="362.5" stroke-width="1.6"/><line x1="748.3" y1="212.1" x2="1053.6" y2="402.9" stroke-width="2.1"/><line x1="751.5" y1="205.9" x2="1085.3" y2="340.8" stroke-width="2.1"/><line x1="750.0" y1="209.6" x2="1024.6" y2="320.6" stroke-width="1.6"/><line x1="752.0" y1="204.6" x2="1090.3" y2="327.7" stroke-width="2.1"/><line x1="752.9" y1="201.6" x2="1099.9" y2="297.8" stroke-width="2.1"/><line x1="753.9" y1="197.5" x2="1108.9" y2="256.9" stroke-width="2.1"/><line x1="754.0" y1="196.4" x2="1110.6" y2="245.9" stroke-width="2.1"/><line x1="754.5" y1="193.2" x2="1015.5" y2="229.5" stroke-width="1.6"/><line x1="689.4" y1="222.1" x2="654.6" y2="265.5" stroke-width="1.7"/><line x1="754.0" y1="196.3" x2="795.7" y2="201.8" stroke-width="1.7"/><line x1="750.9" y1="207.3" x2="801.5" y2="230.1" stroke-width="1.7"/><line x1="754.4" y1="190.8" x2="796.4" y2="190.6" stroke-width="1.7"/><line x1="687.4" y1="220.5" x2="659.0" y2="251.6" stroke-width="1.7"/><line x1="711.2" y1="151.1" x2="707.4" y2="104.7" stroke-width="1.7"/><line x1="690.5" y1="223.0" x2="646.2" y2="282.6" stroke-width="1.7"/><line x1="742.0" y1="162.0" x2="783.9" y2="117.9" stroke-width="1.7"/><line x1="740.6" y1="160.7" x2="785.5" y2="108.7" stroke-width="1.7"/><line x1="693.4" y1="156.9" x2="662.6" y2="106.6" stroke-width="1.7"/><line x1="683.4" y1="165.6" x2="649.3" y2="137.8" stroke-width="1.7"/><line x1="744.3" y1="217.5" x2="783.8" y2="252.6" stroke-width="1.7"/><line x1="708.9" y1="151.3" x2="700.8" y2="92.4" stroke-width="1.7"/><line x1="700.7" y1="153.4" x2="679.0" y2="94.3" stroke-width="1.7"/><line x1="735.5" y1="156.9" x2="758.8" y2="119.4" stroke-width="1.7"/><line x1="753.7" y1="198.4" x2="822.5" y2="211.4" stroke-width="1.7"/><line x1="754.0" y1="196.5" x2="841.0" y2="208.8" stroke-width="1.7"/><line x1="674.4" y1="191.6" x2="603.7" y2="192.8" stroke-width="1.7"/><line x1="712.9" y1="230.9" x2="711.4" y2="271.4" stroke-width="1.7"/><line x1="739.3" y1="222.3" x2="783.2" y2="277.5" stroke-width="1.7"/><line x1="733.8" y1="225.9" x2="775.0" y2="300.6" stroke-width="1.7"/><line x1="750.6" y1="174.0" x2="809.4" y2="146.4" stroke-width="1.7"/><line x1="695.8" y1="226.3" x2="661.7" y2="291.2" stroke-width="1.7"/><line x1="687.8" y1="161.1" x2="634.5" y2="101.2" stroke-width="1.7"/><line x1="743.6" y1="163.6" x2="786.8" y2="123.1" stroke-width="1.7"/><line x1="749.5" y1="171.8" x2="793.9" y2="147.7" stroke-width="1.7"/><line x1="674.4" y1="191.8" x2="592.6" y2="193.6" stroke-width="1.7"/><line x1="704.7" y1="152.1" x2="683.6" y2="67.2" stroke-width="1.7"/><line x1="731.9" y1="154.9" x2="751.8" y2="113.9" stroke-width="1.7"/><line x1="708.1" y1="230.4" x2="700.1" y2="280.5" stroke-width="1.7"/><line x1="684.8" y1="217.8" x2="636.0" y2="262.2" stroke-width="1.7"/><line x1="698.4" y1="227.6" x2="665.7" y2="302.7" stroke-width="1.7"/><line x1="676.2" y1="202.7" x2="634.4" y2="215.6" stroke-width="1.7"/><line x1="707.4" y1="230.3" x2="695.0" y2="299.6" stroke-width="1.7"/><line x1="704.1" y1="152.3" x2="686.5" y2="86.0" stroke-width="1.7"/><line x1="690.7" y1="158.7" x2="650.4" y2="103.7" stroke-width="1.7"/><line x1="740.7" y1="221.1" x2="781.9" y2="268.4" stroke-width="1.7"/><line x1="719.2" y1="151.2" x2="725.6" y2="98.3" stroke-width="1.7"/><line x1="726.0" y1="152.6" x2="751.9" y2="67.3" stroke-width="1.7"/><line x1="676.6" y1="204.1" x2="609.1" y2="227.7" stroke-width="1.7"/><line x1="688.9" y1="160.1" x2="651.6" y2="115.1" stroke-width="1.7"/><line x1="698.4" y1="154.3" x2="678.4" y2="108.5" stroke-width="1.7"/><line x1="712.9" y1="230.9" x2="710.0" y2="306.6" stroke-width="1.7"/><line x1="675.4" y1="182.2" x2="634.5" y2="173.2" stroke-width="1.7"/><line x1="708.8" y1="230.5" x2="700.8" y2="287.3" stroke-width="1.7"/><line x1="752.2" y1="177.8" x2="813.6" y2="156.5" stroke-width="1.7"/><line x1="683.0" y1="215.7" x2="620.6" y2="265.1" stroke-width="1.7"/><line x1="748.5" y1="211.8" x2="822.5" y2="256.9" stroke-width="1.7"/><line x1="683.9" y1="216.8" x2="636.2" y2="257.3" stroke-width="1.7"/><line x1="686.2" y1="162.5" x2="626.0" y2="101.9" stroke-width="1.7"/><line x1="676.4" y1="178.6" x2="607.3" y2="156.1" stroke-width="1.7"/><line x1="726.0" y1="152.6" x2="751.2" y2="69.2" stroke-width="1.7"/><line x1="695.9" y1="226.4" x2="654.7" y2="305.4" stroke-width="1.7"/><line x1="707.4" y1="151.5" x2="693.2" y2="71.9" stroke-width="1.7"/><line x1="750.0" y1="172.6" x2="791.0" y2="151.4" stroke-width="1.7"/><line x1="746.8" y1="167.4" x2="818.8" y2="115.1" stroke-width="1.7"/><line x1="675.5" y1="181.7" x2="598.1" y2="163.4" stroke-width="1.7"/><line x1="711.4" y1="230.8" x2="705.8" y2="306.5" stroke-width="1.7"/><line x1="691.2" y1="223.5" x2="665.6" y2="259.5" stroke-width="1.7"/><line x1="692.5" y1="224.4" x2="659.1" y2="275.6" stroke-width="1.7"/><line x1="674.5" y1="194.1" x2="633.2" y2="197.3" stroke-width="1.7"/><line x1="678.3" y1="208.2" x2="640.7" y2="226.2" stroke-width="1.7"/><line x1="694.0" y1="225.4" x2="653.6" y2="293.7" stroke-width="1.7"/><line x1="675.1" y1="198.3" x2="586.6" y2="214.8" stroke-width="1.7"/><line x1="674.7" y1="186.4" x2="601.3" y2="177.9" stroke-width="1.7"/><line x1="752.1" y1="177.6" x2="813.0" y2="155.9" stroke-width="1.7"/><line x1="748.7" y1="211.5" x2="792.5" y2="237.8" stroke-width="1.7"/><line x1="677.1" y1="176.5" x2="601.0" y2="147.0" stroke-width="1.7"/><line x1="688.7" y1="160.3" x2="646.2" y2="109.6" stroke-width="1.7"/><line x1="712.8" y1="230.9" x2="709.8" y2="304.4" stroke-width="1.7"/><line x1="724.8" y1="229.6" x2="746.2" y2="309.3" stroke-width="1.7"/><line x1="674.9" y1="184.9" x2="607.0" y2="174.5" stroke-width="1.7"/><line x1="680.5" y1="212.1" x2="641.7" y2="236.4" stroke-width="1.7"/><line x1="682.8" y1="166.4" x2="650.2" y2="140.9" stroke-width="1.7"/><line x1="674.6" y1="186.9" x2="614.9" y2="180.9" stroke-width="1.7"/><line x1="743.2" y1="218.7" x2="775.4" y2="249.6" stroke-width="1.7"/><line x1="751.0" y1="207.0" x2="812.3" y2="233.9" stroke-width="1.7"/><line x1="749.5" y1="171.8" x2="819.9" y2="133.6" stroke-width="1.7"/><line x1="709.6" y1="230.6" x2="701.9" y2="293.8" stroke-width="1.7"/><line x1="693.0" y1="224.7" x2="647.6" y2="296.6" stroke-width="1.7"/><line x1="674.9" y1="184.7" x2="630.0" y2="177.6" stroke-width="1.7"/><line x1="684.9" y1="163.9" x2="621.2" y2="105.7" stroke-width="1.7"/><line x1="702.5" y1="152.7" x2="676.2" y2="67.9" stroke-width="1.7"/><line x1="728.2" y1="228.5" x2="745.8" y2="276.7" stroke-width="1.7"/><line x1="705.9" y1="230.0" x2="689.7" y2="304.5" stroke-width="1.7"/><line x1="685.2" y1="163.6" x2="652.2" y2="132.7" stroke-width="1.7"/><line x1="679.6" y1="171.2" x2="607.8" y2="130.4" stroke-width="1.7"/><line x1="714.3" y1="230.9" x2="714.1" y2="280.8" stroke-width="1.7"/><line x1="743.3" y1="163.3" x2="773.1" y2="134.9" stroke-width="1.7"/><line x1="680.2" y1="211.6" x2="623.3" y2="246.0" stroke-width="1.7"/><line x1="675.5" y1="181.4" x2="594.7" y2="161.7" stroke-width="1.7"/><line x1="688.6" y1="160.4" x2="645.7" y2="109.5" stroke-width="1.7"/><line x1="683.9" y1="165.1" x2="620.6" y2="111.6" stroke-width="1.7"/><line x1="748.8" y1="170.5" x2="810.2" y2="134.1" stroke-width="1.7"/><line x1="747.2" y1="168.0" x2="792.8" y2="135.9" stroke-width="1.7"/><line x1="745.3" y1="165.6" x2="783.8" y2="134.0" stroke-width="1.7"/><line x1="744.8" y1="165.0" x2="780.3" y2="134.6" stroke-width="1.7"/><line x1="741.3" y1="220.5" x2="771.2" y2="253.4" stroke-width="1.7"/><line x1="747.2" y1="213.8" x2="814.1" y2="260.5" stroke-width="1.7"/><line x1="675.9" y1="180.2" x2="603.4" y2="160.0" stroke-width="1.7"/><line x1="681.6" y1="213.9" x2="620.8" y2="256.5" stroke-width="1.7"/><line x1="747.3" y1="213.6" x2="803.7" y2="252.5" stroke-width="1.7"/><line x1="748.4" y1="169.8" x2="823.4" y2="123.1" stroke-width="1.7"/><line x1="703.2" y1="152.5" x2="683.0" y2="83.7" stroke-width="1.7"/><line x1="674.4" y1="190.2" x2="600.1" y2="188.9" stroke-width="1.7"/><line x1="727.4" y1="153.1" x2="748.3" y2="92.5" stroke-width="1.7"/><line x1="753.3" y1="200.2" x2="819.0" y2="216.0" stroke-width="1.7"/><line x1="747.5" y1="168.5" x2="800.5" y2="132.5" stroke-width="1.7"/><line x1="730.4" y1="227.6" x2="750.5" y2="273.6" stroke-width="1.7"/><line x1="754.3" y1="188.5" x2="796.2" y2="185.9" stroke-width="1.7"/><line x1="679.3" y1="171.7" x2="662.0" y2="162.2" stroke-width="1.9"/><line x1="697.6" y1="154.6" x2="690.1" y2="138.6" stroke-width="1.9"/><line x1="747.2" y1="213.8" x2="770.8" y2="230.1" stroke-width="1.9"/><line x1="678.6" y1="208.8" x2="654.1" y2="221.0" stroke-width="1.9"/><line x1="724.3" y1="229.7" x2="731.3" y2="256.9" stroke-width="1.9"/><line x1="687.8" y1="161.1" x2="676.8" y2="148.8" stroke-width="1.9"/><line x1="726.7" y1="229.0" x2="735.7" y2="256.8" stroke-width="1.9"/><line x1="689.0" y1="221.8" x2="671.2" y2="243.4" stroke-width="1.9"/><line x1="749.7" y1="172.1" x2="781.6" y2="155.0" stroke-width="1.9"/><line x1="747.5" y1="213.4" x2="782.9" y2="237.3" stroke-width="1.9"/><line x1="696.5" y1="226.7" x2="688.5" y2="242.8" stroke-width="1.9"/><line x1="736.2" y1="157.4" x2="761.2" y2="119.2" stroke-width="1.9"/><line x1="748.0" y1="169.2" x2="788.2" y2="143.2" stroke-width="1.9"/><line x1="678.2" y1="174.0" x2="658.5" y2="164.8" stroke-width="1.9"/><line x1="679.9" y1="170.6" x2="656.7" y2="157.0" stroke-width="1.9"/><line x1="717.5" y1="151.0" x2="719.4" y2="126.3" stroke-width="1.9"/><line x1="744.2" y1="217.6" x2="774.7" y2="245.0" stroke-width="1.9"/><line x1="735.8" y1="224.7" x2="761.4" y2="265.0" stroke-width="1.9"/><line x1="741.2" y1="220.6" x2="759.0" y2="240.3" stroke-width="1.9"/><line x1="675.6" y1="181.3" x2="648.5" y2="174.5" stroke-width="1.9"/><line x1="678.0" y1="207.6" x2="658.6" y2="216.5" stroke-width="1.9"/><line x1="725.1" y1="229.5" x2="730.9" y2="250.1" stroke-width="1.9"/><line x1="726.1" y1="152.7" x2="733.6" y2="128.2" stroke-width="1.9"/><line x1="746.6" y1="214.6" x2="783.8" y2="241.9" stroke-width="1.9"/><line x1="754.3" y1="188.6" x2="800.8" y2="185.8" stroke-width="1.9"/><line x1="752.5" y1="203.2" x2="775.8" y2="210.7" stroke-width="1.9"/><line x1="753.2" y1="181.3" x2="777.9" y2="175.2" stroke-width="1.9"/><line x1="722.9" y1="230.0" x2="729.1" y2="258.6" stroke-width="1.9"/><line x1="731.0" y1="227.3" x2="738.3" y2="243.4" stroke-width="1.9"/><line x1="674.6" y1="187.2" x2="642.3" y2="184.2" stroke-width="1.9"/><line x1="723.6" y1="229.9" x2="728.0" y2="248.5" stroke-width="1.9"/><line x1="682.7" y1="215.4" x2="654.9" y2="236.8" stroke-width="1.9"/><line x1="744.4" y1="217.3" x2="758.5" y2="229.7" stroke-width="1.9"/><line x1="717.7" y1="230.8" x2="720.1" y2="261.2" stroke-width="1.9"/><line x1="674.4" y1="189.7" x2="632.8" y2="188.5" stroke-width="1.9"/><line x1="690.5" y1="158.9" x2="681.3" y2="146.5" stroke-width="1.9"/><line x1="712.3" y1="230.9" x2="710.9" y2="255.5" stroke-width="1.9"/><line x1="692.8" y1="224.6" x2="674.5" y2="253.1" stroke-width="1.9"/><line x1="679.9" y1="211.1" x2="651.2" y2="227.9" stroke-width="1.9"/><line x1="737.2" y1="158.0" x2="747.7" y2="142.8" stroke-width="1.9"/><line x1="676.8" y1="204.6" x2="641.5" y2="217.5" stroke-width="1.9"/><line x1="676.3" y1="178.7" x2="639.8" y2="167.0" stroke-width="1.9"/><line x1="752.8" y1="179.8" x2="780.2" y2="171.9" stroke-width="1.9"/><line x1="751.5" y1="175.9" x2="777.9" y2="165.1" stroke-width="1.9"/><line x1="753.7" y1="183.4" x2="797.9" y2="175.0" stroke-width="1.9"/><line x1="675.8" y1="180.5" x2="641.1" y2="171.2" stroke-width="1.9"/><line x1="678.3" y1="208.1" x2="649.1" y2="221.9" stroke-width="1.9"/><line x1="705.8" y1="230.0" x2="699.6" y2="258.3" stroke-width="1.9"/><line x1="699.1" y1="227.9" x2="686.3" y2="258.9" stroke-width="1.9"/><line x1="674.6" y1="195.1" x2="650.3" y2="197.7" stroke-width="1.9"/><line x1="750.5" y1="173.8" x2="785.1" y2="157.4" stroke-width="1.9"/><line x1="713.8" y1="150.9" x2="713.6" y2="135.0" stroke-width="1.9"/><line x1="720.0" y1="151.3" x2="725.0" y2="116.2" stroke-width="1.9"/><line x1="687.6" y1="161.3" x2="667.9" y2="139.5" stroke-width="1.9"/><line x1="698.4" y1="154.3" x2="691.6" y2="138.8" stroke-width="1.9"/><line x1="698.5" y1="227.6" x2="687.0" y2="254.2" stroke-width="1.9"/><line x1="679.6" y1="171.3" x2="644.5" y2="151.5" stroke-width="1.9"/><line x1="697.5" y1="227.2" x2="679.5" y2="266.1" stroke-width="1.9"/><line x1="721.0" y1="230.4" x2="727.6" y2="270.0" stroke-width="1.9"/><line x1="714.2" y1="230.9" x2="713.9" y2="272.4" stroke-width="1.9"/><line x1="752.8" y1="202.2" x2="770.5" y2="207.4" stroke-width="1.9"/><line x1="729.2" y1="153.7" x2="746.5" y2="110.2" stroke-width="1.9"/><line x1="739.0" y1="222.4" x2="769.0" y2="260.7" stroke-width="1.9"/><line x1="715.6" y1="230.9" x2="716.8" y2="270.6" stroke-width="1.9"/><line x1="752.4" y1="203.4" x2="780.5" y2="212.6" stroke-width="1.9"/><line x1="743.9" y1="217.9" x2="777.2" y2="248.4" stroke-width="1.9"/><line x1="689.5" y1="222.3" x2="676.9" y2="238.3" stroke-width="1.9"/><line x1="688.3" y1="221.2" x2="675.3" y2="236.3" stroke-width="1.9"/><line x1="679.7" y1="210.9" x2="648.5" y2="228.8" stroke-width="1.9"/><line x1="688.8" y1="160.2" x2="664.0" y2="130.3" stroke-width="1.9"/><line x1="688.1" y1="221.1" x2="661.2" y2="252.0" stroke-width="1.9"/><line x1="730.3" y1="154.2" x2="738.2" y2="136.1" stroke-width="1.9"/><line x1="704.4" y1="229.7" x2="699.6" y2="248.6" stroke-width="1.9"/><line x1="674.7" y1="195.7" x2="642.3" y2="199.5" stroke-width="1.9"/><line x1="700.0" y1="228.2" x2="688.2" y2="258.8" stroke-width="1.9"/><line x1="737.2" y1="158.1" x2="751.2" y2="137.8" stroke-width="1.9"/><line x1="683.5" y1="165.5" x2="652.4" y2="139.8" stroke-width="1.9"/><line x1="701.8" y1="153.0" x2="695.0" y2="132.4" stroke-width="1.9"/><line x1="707.2" y1="230.3" x2="703.1" y2="253.3" stroke-width="1.9"/><line x1="752.6" y1="179.0" x2="783.7" y2="169.3" stroke-width="1.9"/><line x1="691.5" y1="158.1" x2="679.0" y2="140.2" stroke-width="1.9"/><line x1="698.1" y1="154.4" x2="683.0" y2="120.6" stroke-width="1.9"/><line x1="754.3" y1="193.3" x2="778.4" y2="194.7" stroke-width="1.9"/><line x1="753.8" y1="197.7" x2="769.9" y2="200.4" stroke-width="1.9"/><line x1="721.3" y1="230.3" x2="725.5" y2="254.7" stroke-width="1.9"/><line x1="715.9" y1="151.0" x2="717.6" y2="104.0" stroke-width="1.9"/><line x1="735.7" y1="224.8" x2="748.0" y2="244.5" stroke-width="1.9"/><line x1="754.1" y1="186.3" x2="785.9" y2="182.6" stroke-width="1.9"/><line x1="690.1" y1="222.7" x2="673.7" y2="244.0" stroke-width="1.9"/><line x1="674.4" y1="192.3" x2="654.8" y2="193.0" stroke-width="1.9"/><line x1="741.7" y1="161.7" x2="771.1" y2="130.2" stroke-width="1.9"/><line x1="676.6" y1="203.9" x2="635.2" y2="218.2" stroke-width="1.9"/><line x1="735.4" y1="156.9" x2="757.4" y2="121.2" stroke-width="1.9"/><line x1="676.8" y1="204.6" x2="638.2" y2="218.7" stroke-width="1.9"/><line x1="683.6" y1="216.4" x2="667.9" y2="229.3" stroke-width="1.9"/><line x1="737.2" y1="223.8" x2="762.4" y2="260.2" stroke-width="1.9"/><line x1="681.6" y1="168.1" x2="660.9" y2="153.7" stroke-width="1.9"/><line x1="716.7" y1="151.0" x2="719.1" y2="107.1" stroke-width="1.9"/><line x1="730.5" y1="227.5" x2="745.8" y2="262.2" stroke-width="1.9"/><line x1="679.4" y1="171.5" x2="652.2" y2="156.4" stroke-width="1.9"/><line x1="696.4" y1="226.7" x2="681.1" y2="257.1" stroke-width="1.9"/><line x1="678.0" y1="207.5" x2="646.3" y2="222.0" stroke-width="1.9"/><line x1="730.4" y1="154.2" x2="742.8" y2="125.6" stroke-width="1.9"/><line x1="732.2" y1="155.1" x2="739.1" y2="141.4" stroke-width="1.9"/><line x1="699.6" y1="228.1" x2="682.3" y2="271.7" stroke-width="1.9"/><line x1="682.6" y1="166.7" x2="651.3" y2="142.8" stroke-width="1.9"/><line x1="674.4" y1="192.2" x2="632.7" y2="193.6" stroke-width="1.9"/><line x1="695.6" y1="226.2" x2="674.0" y2="266.7" stroke-width="1.9"/><line x1="722.2" y1="230.2" x2="729.6" y2="267.4" stroke-width="1.9"/><line x1="695.8" y1="226.3" x2="674.0" y2="267.7" stroke-width="1.9"/><line x1="696.8" y1="226.9" x2="683.4" y2="254.2" stroke-width="1.9"/><line x1="681.3" y1="168.5" x2="642.7" y2="142.4" stroke-width="1.9"/><line x1="699.0" y1="154.0" x2="689.4" y2="131.2" stroke-width="1.9"/><line x1="675.1" y1="183.4" x2="626.3" y2="174.0" stroke-width="1.9"/><line x1="675.8" y1="201.3" x2="653.8" y2="207.2" stroke-width="1.9"/><line x1="753.6" y1="182.9" x2="793.3" y2="174.7" stroke-width="1.9"/><line x1="674.6" y1="186.9" x2="656.7" y2="185.0" stroke-width="1.9"/><line x1="733.3" y1="155.7" x2="740.8" y2="141.7" stroke-width="1.9"/><line x1="696.7" y1="155.1" x2="681.0" y2="123.3" stroke-width="1.9"/><line x1="725.8" y1="152.6" x2="737.5" y2="113.4" stroke-width="1.9"/><line x1="687.3" y1="220.4" x2="668.0" y2="241.5" stroke-width="1.9"/><line x1="736.9" y1="224.0" x2="757.0" y2="253.5" stroke-width="1.9"/><line x1="732.0" y1="226.8" x2="740.0" y2="243.1" stroke-width="1.9"/><line x1="676.0" y1="202.2" x2="633.0" y2="214.9" stroke-width="1.9"/><line x1="729.6" y1="153.9" x2="738.2" y2="132.9" stroke-width="1.9"/><line x1="751.8" y1="205.1" x2="771.0" y2="212.4" stroke-width="1.9"/><line x1="703.0" y1="229.3" x2="698.5" y2="244.4" stroke-width="1.9"/><line x1="736.2" y1="157.4" x2="752.4" y2="132.4" stroke-width="1.9"/><line x1="679.6" y1="171.2" x2="657.2" y2="158.6" stroke-width="1.9"/><line x1="676.0" y1="179.7" x2="650.4" y2="172.1" stroke-width="1.9"/><line x1="708.5" y1="230.5" x2="705.7" y2="249.0" stroke-width="1.9"/><line x1="698.8" y1="227.8" x2="692.6" y2="242.4" stroke-width="1.9"/><line x1="691.6" y1="158.0" x2="681.1" y2="142.9" stroke-width="1.9"/><line x1="730.6" y1="154.3" x2="742.6" y2="127.1" stroke-width="1.9"/><line x1="705.0" y1="152.0" x2="697.4" y2="120.8" stroke-width="1.9"/><line x1="747.9" y1="169.0" x2="770.3" y2="154.3" stroke-width="1.9"/><line x1="675.7" y1="201.1" x2="649.3" y2="208.0" stroke-width="1.9"/><line x1="728.5" y1="153.5" x2="737.9" y2="128.5" stroke-width="1.9"/><line x1="740.5" y1="221.2" x2="761.5" y2="245.5" stroke-width="1.9"/><line x1="727.9" y1="153.3" x2="733.8" y2="136.8" stroke-width="1.9"/><line x1="684.9" y1="163.9" x2="672.7" y2="152.6" stroke-width="1.9"/><line x1="716.2" y1="151.0" x2="718.4" y2="101.5" stroke-width="1.9"/><line x1="691.1" y1="223.4" x2="682.2" y2="235.7" stroke-width="1.9"/><line x1="685.6" y1="218.7" x2="672.5" y2="231.2" stroke-width="1.9"/><line x1="675.4" y1="199.7" x2="642.3" y2="207.2" stroke-width="1.9"/><line x1="753.9" y1="197.0" x2="781.3" y2="201.2" stroke-width="1.9"/><line x1="754.3" y1="193.5" x2="773.1" y2="194.7" stroke-width="1.9"/><line x1="749.9" y1="172.4" x2="791.6" y2="150.7" stroke-width="1.9"/><line x1="715.5" y1="230.9" x2="716.0" y2="251.6" stroke-width="1.9"/><line x1="688.0" y1="160.9" x2="662.3" y2="131.6" stroke-width="1.9"/></g>
<g clip-path="url(#pcB)" fill="none"><line x1="694.5" y1="156.2" x2="515.6" y2="-156.2" stroke="url(#gBt)" stroke-width="1.6" stroke-dasharray="4.0 0.8"/><line x1="697.3" y1="154.6" x2="540.2" y2="-119.6" stroke="url(#gBt)" stroke-width="1.1" stroke-dasharray="4.6 0.7"/><line x1="695.6" y1="155.6" x2="526.6" y2="-162.3" stroke="url(#gBt)" stroke-width="1.6" stroke-dasharray="5.7 0.8"/><line x1="691.0" y1="124.9" x2="580.9" y2="-186.1" stroke="#2a8ee0" stroke-opacity="0.7" stroke-width="1.5" stroke-dasharray="1.4 4.2"/><line x1="694.3" y1="123.8" x2="590.7" y2="-168.8" stroke="#2a8ee0" stroke-opacity="0.7" stroke-width="1.0" stroke-dasharray="0.9 6.7"/><line x1="692.8" y1="124.4" x2="660.3" y2="24.5" stroke="#2a8ee0" stroke-opacity="0.7" stroke-width="1.5" stroke-dasharray="1.5 6.0"/><line x1="687.4" y1="161.4" x2="593.5" y2="59.0" stroke="url(#gBt)" stroke-width="1.6" stroke-dasharray="3.1 0.8"/><line x1="684.9" y1="163.7" x2="612.1" y2="84.2" stroke="url(#gBt)" stroke-width="1.1" stroke-dasharray="5.4 0.7"/><line x1="664.3" y1="142.0" x2="610.6" y2="89.7" stroke="#2a8ee0" stroke-opacity="0.7" stroke-width="1.5" stroke-dasharray="1.0 4.4"/><line x1="678.6" y1="173.1" x2="356.1" y2="13.1" stroke="url(#gBt)" stroke-width="1.6" stroke-dasharray="4.8 0.9"/><line x1="710.9" y1="151.1" x2="700.0" y2="26.6" stroke="url(#gBt)" stroke-width="1.6" stroke-dasharray="4.4 0.9"/><line x1="722.7" y1="151.8" x2="797.6" y2="-200.3" stroke="url(#gBt)" stroke-width="1.6" stroke-dasharray="4.3 1.1"/><line x1="719.4" y1="151.1" x2="782.8" y2="-147.5" stroke="url(#gBt)" stroke-width="1.1" stroke-dasharray="4.2 1.1"/><line x1="745.0" y1="128.0" x2="779.0" y2="57.8" stroke="#2a8ee0" stroke-opacity="0.7" stroke-width="1.5" stroke-dasharray="1.5 5.5"/><line x1="742.9" y1="127.0" x2="767.3" y2="72.2" stroke="#2a8ee0" stroke-opacity="0.7" stroke-width="1.5" stroke-dasharray="1.6 5.2"/><line x1="737.7" y1="158.4" x2="947.8" y2="-133.9" stroke="url(#gBt)" stroke-width="1.6" stroke-dasharray="5.6 0.8"/><line x1="740.1" y1="160.3" x2="821.7" y2="63.0" stroke="url(#gBt)" stroke-width="1.6" stroke-dasharray="4.2 1.2"/><line x1="737.6" y1="158.2" x2="808.3" y2="74.0" stroke="url(#gBt)" stroke-width="1.1" stroke-dasharray="5.0 1.0"/><line x1="744.8" y1="164.9" x2="1018.1" y2="-69.4" stroke="url(#gBt)" stroke-width="1.6" stroke-dasharray="3.3 1.1"/><line x1="748.7" y1="170.3" x2="1057.3" y2="-15.1" stroke="url(#gBd)" stroke-width="1.6" stroke-dasharray="4.2 0.7"/><line x1="750.5" y1="173.3" x2="1030.1" y2="5.3" stroke="url(#gBd)" stroke-width="1.1" stroke-dasharray="3.4 1.1"/><line x1="749.6" y1="171.9" x2="1066.3" y2="0.7" stroke="url(#gBt)" stroke-width="1.6" stroke-dasharray="5.9 1.1"/><line x1="747.9" y1="168.8" x2="1025.1" y2="18.9" stroke="url(#gBt)" stroke-width="1.1" stroke-dasharray="5.3 1.1"/><line x1="777.8" y1="161.3" x2="1076.9" y2="21.9" stroke="#2a8ee0" stroke-opacity="0.7" stroke-width="1.5" stroke-dasharray="0.8 6.7"/><line x1="778.9" y1="163.6" x2="1008.2" y2="56.7" stroke="#2a8ee0" stroke-opacity="0.7" stroke-width="1.0" stroke-dasharray="1.5 6.5"/><line x1="779.4" y1="164.9" x2="1085.8" y2="42.4" stroke="#2a8ee0" stroke-opacity="0.7" stroke-width="1.5" stroke-dasharray="1.5 4.8"/><line x1="782.7" y1="175.5" x2="1104.6" y2="103.0" stroke="#2a8ee0" stroke-opacity="0.7" stroke-width="1.5" stroke-dasharray="1.0 4.7"/><line x1="783.4" y1="178.5" x2="1018.3" y2="125.6" stroke="#2a8ee0" stroke-opacity="0.7" stroke-width="1.0" stroke-dasharray="1.5 4.7"/><line x1="783.3" y1="178.8" x2="1108.3" y2="121.5" stroke="#2a8ee0" stroke-opacity="0.7" stroke-width="1.5" stroke-dasharray="1.4 3.6"/><line x1="783.7" y1="181.3" x2="1110.6" y2="135.9" stroke="#2a8ee0" stroke-opacity="0.7" stroke-width="1.5" stroke-dasharray="1.5 6.2"/><line x1="676.3" y1="178.7" x2="333.5" y2="68.6" stroke="url(#gBt)" stroke-width="1.6" stroke-dasharray="3.4 1.0"/><line x1="675.3" y1="181.7" x2="407.8" y2="95.9" stroke="url(#gBt)" stroke-width="1.1" stroke-dasharray="4.9 0.9"/><line x1="645.7" y1="177.4" x2="321.9" y2="113.9" stroke="#2a8ee0" stroke-opacity="0.7" stroke-width="1.5" stroke-dasharray="0.8 5.3"/><line x1="645.1" y1="181.2" x2="318.3" y2="135.3" stroke="#2a8ee0" stroke-opacity="0.7" stroke-width="1.5" stroke-dasharray="0.9 3.8"/><line x1="644.6" y1="184.8" x2="409.6" y2="151.8" stroke="#2a8ee0" stroke-opacity="0.7" stroke-width="1.0" stroke-dasharray="1.5 3.6"/><line x1="644.5" y1="187.6" x2="314.8" y2="172.1" stroke="#2a8ee0" stroke-opacity="0.7" stroke-width="1.5" stroke-dasharray="0.9 4.4"/><line x1="644.6" y1="185.1" x2="406.1" y2="173.9" stroke="#2a8ee0" stroke-opacity="0.7" stroke-width="1.0" stroke-dasharray="1.3 5.1"/><line x1="644.4" y1="192.1" x2="314.5" y2="197.9" stroke="#2a8ee0" stroke-opacity="0.7" stroke-width="1.5" stroke-dasharray="1.5 5.8"/><line x1="644.5" y1="195.0" x2="322.2" y2="200.6" stroke="#2a8ee0" stroke-opacity="0.7" stroke-width="1.0" stroke-dasharray="0.9 6.0"/><line x1="675.0" y1="197.6" x2="320.0" y2="257.6" stroke="url(#gBt)" stroke-width="1.6" stroke-dasharray="4.6 0.9"/><line x1="674.5" y1="194.9" x2="412.2" y2="239.2" stroke="url(#gBt)" stroke-width="1.1" stroke-dasharray="3.1 0.6"/><line x1="645.8" y1="204.8" x2="322.3" y2="270.0" stroke="#2a8ee0" stroke-opacity="0.7" stroke-width="1.5" stroke-dasharray="1.0 5.7"/><line x1="647.5" y1="211.6" x2="332.3" y2="309.2" stroke="#2a8ee0" stroke-opacity="0.7" stroke-width="1.5" stroke-dasharray="1.4 4.8"/><line x1="648.5" y1="214.6" x2="410.5" y2="288.3" stroke="#2a8ee0" stroke-opacity="0.7" stroke-width="1.0" stroke-dasharray="0.8 4.7"/><line x1="650.5" y1="219.5" x2="349.3" y2="354.3" stroke="#2a8ee0" stroke-opacity="0.7" stroke-width="1.5" stroke-dasharray="1.2 6.8"/><line x1="651.5" y1="221.8" x2="405.5" y2="331.8" stroke="#2a8ee0" stroke-opacity="0.7" stroke-width="1.0" stroke-dasharray="1.6 4.3"/><line x1="681.2" y1="213.3" x2="382.8" y2="414.6" stroke="url(#gBt)" stroke-width="1.6" stroke-dasharray="4.2 0.9"/><line x1="682.0" y1="214.4" x2="390.8" y2="426.0" stroke="url(#gBt)" stroke-width="1.6" stroke-dasharray="6.0 1.0"/><line x1="683.1" y1="215.8" x2="401.4" y2="439.9" stroke="url(#gBt)" stroke-width="1.6" stroke-dasharray="3.2 0.6"/><line x1="683.9" y1="216.8" x2="409.8" y2="450.2" stroke="url(#gBt)" stroke-width="1.6" stroke-dasharray="3.4 1.0"/><line x1="687.2" y1="220.2" x2="442.1" y2="483.9" stroke="url(#gBt)" stroke-width="1.6" stroke-dasharray="5.0 1.0"/><line x1="689.0" y1="222.0" x2="499.3" y2="426.2" stroke="url(#gBt)" stroke-width="1.1" stroke-dasharray="5.4 0.6"/><line x1="689.7" y1="222.4" x2="467.6" y2="505.7" stroke="url(#gBt)" stroke-width="1.6" stroke-dasharray="4.3 1.1"/><line x1="692.6" y1="224.7" x2="504.9" y2="464.0" stroke="url(#gBt)" stroke-width="1.1" stroke-dasharray="5.1 0.8"/><line x1="694.4" y1="225.6" x2="514.4" y2="537.3" stroke="url(#gBt)" stroke-width="1.6" stroke-dasharray="3.9 0.6"/><line x1="696.7" y1="226.9" x2="551.8" y2="477.7" stroke="url(#gBt)" stroke-width="1.1" stroke-dasharray="5.3 1.1"/><line x1="693.5" y1="225.0" x2="505.4" y2="532.0" stroke="url(#gBt)" stroke-width="1.6" stroke-dasharray="5.5 1.0"/><line x1="696.4" y1="226.8" x2="527.3" y2="502.8" stroke="url(#gBt)" stroke-width="1.1" stroke-dasharray="5.7 0.6"/><line x1="690.8" y1="256.8" x2="673.6" y2="304.8" stroke="#2a8ee0" stroke-opacity="0.7" stroke-width="1.5" stroke-dasharray="1.3 6.7"/><line x1="687.3" y1="255.6" x2="675.7" y2="288.0" stroke="#2a8ee0" stroke-opacity="0.7" stroke-width="1.0" stroke-dasharray="1.4 6.8"/><line x1="696.8" y1="258.7" x2="676.3" y2="337.0" stroke="#2a8ee0" stroke-opacity="0.7" stroke-width="1.5" stroke-dasharray="1.4 5.2"/><line x1="699.6" y1="259.4" x2="685.0" y2="315.4" stroke="#2a8ee0" stroke-opacity="0.7" stroke-width="1.0" stroke-dasharray="0.9 3.8"/><line x1="708.3" y1="260.7" x2="679.5" y2="589.4" stroke="#2a8ee0" stroke-opacity="0.7" stroke-width="1.5" stroke-dasharray="1.1 3.4"/><line x1="711.0" y1="260.9" x2="685.7" y2="550.8" stroke="#2a8ee0" stroke-opacity="0.7" stroke-width="1.0" stroke-dasharray="1.0 4.1"/><line x1="712.0" y1="260.9" x2="700.4" y2="590.7" stroke="#2a8ee0" stroke-opacity="0.7" stroke-width="1.5" stroke-dasharray="1.2 5.6"/><line x1="714.4" y1="260.9" x2="714.4" y2="590.9" stroke="#2a8ee0" stroke-opacity="0.7" stroke-width="1.5" stroke-dasharray="1.2 4.5"/><line x1="716.8" y1="260.9" x2="728.4" y2="590.7" stroke="#2a8ee0" stroke-opacity="0.7" stroke-width="1.5" stroke-dasharray="0.9 5.5"/><line x1="721.2" y1="260.6" x2="753.4" y2="589.0" stroke="#2a8ee0" stroke-opacity="0.7" stroke-width="1.5" stroke-dasharray="0.9 5.5"/><line x1="724.3" y1="260.3" x2="751.5" y2="537.2" stroke="#2a8ee0" stroke-opacity="0.7" stroke-width="1.0" stroke-dasharray="0.9 3.8"/><line x1="725.5" y1="260.0" x2="777.7" y2="585.9" stroke="#2a8ee0" stroke-opacity="0.7" stroke-width="1.5" stroke-dasharray="0.8 4.9"/><line x1="722.6" y1="260.5" x2="759.6" y2="491.4" stroke="#2a8ee0" stroke-opacity="0.7" stroke-width="1.0" stroke-dasharray="1.4 3.4"/><line x1="724.8" y1="229.5" x2="818.6" y2="577.1" stroke="url(#gBt)" stroke-width="1.6" stroke-dasharray="3.1 1.2"/><line x1="728.3" y1="228.4" x2="853.8" y2="565.8" stroke="url(#gBt)" stroke-width="1.6" stroke-dasharray="4.3 1.0"/><line x1="725.6" y1="229.4" x2="844.9" y2="550.3" stroke="url(#gBt)" stroke-width="1.1" stroke-dasharray="4.0 1.1"/><line x1="732.9" y1="226.4" x2="899.7" y2="545.4" stroke="url(#gBt)" stroke-width="1.6" stroke-dasharray="5.8 0.6"/><line x1="735.3" y1="225.1" x2="889.1" y2="519.4" stroke="url(#gBt)" stroke-width="1.1" stroke-dasharray="3.6 0.6"/><line x1="735.8" y1="224.7" x2="928.1" y2="529.0" stroke="url(#gBt)" stroke-width="1.6" stroke-dasharray="5.1 0.8"/><line x1="738.2" y1="223.2" x2="912.1" y2="498.2" stroke="url(#gBt)" stroke-width="1.1" stroke-dasharray="5.8 0.9"/><line x1="740.3" y1="221.4" x2="973.6" y2="495.5" stroke="url(#gBt)" stroke-width="1.6" stroke-dasharray="5.2 0.9"/><line x1="744.5" y1="217.3" x2="1015.4" y2="454.4" stroke="url(#gBt)" stroke-width="1.6" stroke-dasharray="4.0 1.1"/><line x1="742.4" y1="219.6" x2="939.3" y2="392.0" stroke="url(#gBt)" stroke-width="1.1" stroke-dasharray="3.7 1.2"/><line x1="747.7" y1="213.1" x2="1047.2" y2="412.9" stroke="url(#gBt)" stroke-width="1.6" stroke-dasharray="4.6 0.7"/><line x1="746.0" y1="215.7" x2="966.2" y2="362.5" stroke="url(#gBt)" stroke-width="1.1" stroke-dasharray="3.6 0.7"/><line x1="748.3" y1="212.1" x2="1053.6" y2="402.9" stroke="url(#gBt)" stroke-width="1.6" stroke-dasharray="4.3 0.9"/><line x1="779.3" y1="217.1" x2="1085.3" y2="340.8" stroke="#2a8ee0" stroke-opacity="0.7" stroke-width="1.5" stroke-dasharray="1.0 4.3"/><line x1="777.8" y1="220.8" x2="1024.6" y2="320.6" stroke="#2a8ee0" stroke-opacity="0.7" stroke-width="1.0" stroke-dasharray="1.0 3.4"/><line x1="752.0" y1="204.6" x2="1090.3" y2="327.7" stroke="url(#gBt)" stroke-width="1.6" stroke-dasharray="5.1 0.7"/><line x1="752.9" y1="201.6" x2="1099.9" y2="297.8" stroke="url(#gBt)" stroke-width="1.6" stroke-dasharray="4.6 0.7"/><line x1="783.4" y1="202.5" x2="1108.9" y2="256.9" stroke="#2a8ee0" stroke-opacity="0.7" stroke-width="1.5" stroke-dasharray="1.0 5.4"/><line x1="783.7" y1="200.5" x2="1110.6" y2="245.9" stroke="#2a8ee0" stroke-opacity="0.7" stroke-width="1.5" stroke-dasharray="1.2 5.3"/><line x1="784.2" y1="197.4" x2="1015.5" y2="229.5" stroke="#2a8ee0" stroke-opacity="0.7" stroke-width="1.0" stroke-dasharray="1.0 6.7"/><line x1="754.4" y1="190.8" x2="796.4" y2="190.6" stroke="url(#gBt)" stroke-width="1.2" stroke-dasharray="6.0 1.0"/><line x1="687.4" y1="220.5" x2="659.0" y2="251.6" stroke="url(#gBt)" stroke-width="1.2" stroke-dasharray="5.8 0.9"/><line x1="672.6" y1="247.1" x2="646.2" y2="282.6" stroke="#2a8ee0" stroke-opacity="0.7" stroke-width="1.1" stroke-dasharray="0.8 5.6"/><line x1="762.7" y1="140.2" x2="783.9" y2="117.9" stroke="#2a8ee0" stroke-opacity="0.7" stroke-width="1.1" stroke-dasharray="1.4 3.5"/><line x1="740.6" y1="160.7" x2="785.5" y2="108.7" stroke="url(#gBt)" stroke-width="1.2" stroke-dasharray="4.4 0.8"/><line x1="683.4" y1="165.6" x2="649.3" y2="137.8" stroke="url(#gBt)" stroke-width="1.2" stroke-dasharray="4.0 0.6"/><line x1="708.9" y1="151.3" x2="700.8" y2="92.4" stroke="url(#gBt)" stroke-width="1.2" stroke-dasharray="5.6 0.7"/><line x1="690.3" y1="125.2" x2="679.0" y2="94.3" stroke="#2a8ee0" stroke-opacity="0.7" stroke-width="1.1" stroke-dasharray="1.5 4.8"/><line x1="735.5" y1="156.9" x2="758.8" y2="119.4" stroke="url(#gBt)" stroke-width="1.2" stroke-dasharray="5.2 0.7"/><line x1="783.2" y1="204.0" x2="822.5" y2="211.4" stroke="#2a8ee0" stroke-opacity="0.7" stroke-width="1.1" stroke-dasharray="1.3 5.2"/><line x1="783.7" y1="200.7" x2="841.0" y2="208.8" stroke="#2a8ee0" stroke-opacity="0.7" stroke-width="1.1" stroke-dasharray="0.9 6.7"/><line x1="644.4" y1="192.1" x2="603.7" y2="192.8" stroke="#2a8ee0" stroke-opacity="0.7" stroke-width="1.1" stroke-dasharray="0.9 6.0"/><line x1="739.3" y1="222.3" x2="783.2" y2="277.5" stroke="url(#gBt)" stroke-width="1.2" stroke-dasharray="5.7 0.7"/><line x1="733.8" y1="225.9" x2="775.0" y2="300.6" stroke="url(#gBt)" stroke-width="1.2" stroke-dasharray="3.4 1.2"/><line x1="777.8" y1="161.2" x2="809.4" y2="146.4" stroke="#2a8ee0" stroke-opacity="0.7" stroke-width="1.1" stroke-dasharray="0.8 5.7"/><line x1="681.9" y1="252.9" x2="661.7" y2="291.2" stroke="#2a8ee0" stroke-opacity="0.7" stroke-width="1.1" stroke-dasharray="1.1 6.0"/><line x1="667.8" y1="138.7" x2="634.5" y2="101.2" stroke="#2a8ee0" stroke-opacity="0.7" stroke-width="1.1" stroke-dasharray="1.1 3.7"/><line x1="743.6" y1="163.6" x2="786.8" y2="123.1" stroke="url(#gBt)" stroke-width="1.2" stroke-dasharray="4.8 1.1"/><line x1="644.4" y1="192.5" x2="592.6" y2="193.6" stroke="#2a8ee0" stroke-opacity="0.7" stroke-width="1.1" stroke-dasharray="1.2 4.6"/><line x1="697.5" y1="123.0" x2="683.6" y2="67.2" stroke="#2a8ee0" stroke-opacity="0.7" stroke-width="1.1" stroke-dasharray="1.4 6.7"/><line x1="684.8" y1="217.8" x2="636.0" y2="262.2" stroke="url(#gBt)" stroke-width="1.2" stroke-dasharray="6.0 0.6"/><line x1="698.4" y1="227.6" x2="665.7" y2="302.7" stroke="url(#gBt)" stroke-width="1.2" stroke-dasharray="5.3 1.1"/><line x1="707.4" y1="230.3" x2="695.0" y2="299.6" stroke="url(#gBt)" stroke-width="1.2" stroke-dasharray="5.7 0.9"/><line x1="696.4" y1="123.3" x2="686.5" y2="86.0" stroke="#2a8ee0" stroke-opacity="0.7" stroke-width="1.1" stroke-dasharray="1.3 6.1"/><line x1="690.7" y1="158.7" x2="650.4" y2="103.7" stroke="url(#gBt)" stroke-width="1.2" stroke-dasharray="3.5 0.8"/><line x1="760.4" y1="243.7" x2="781.9" y2="268.4" stroke="#2a8ee0" stroke-opacity="0.7" stroke-width="1.1" stroke-dasharray="0.8 5.1"/><line x1="734.7" y1="123.9" x2="751.9" y2="67.3" stroke="#2a8ee0" stroke-opacity="0.7" stroke-width="1.1" stroke-dasharray="0.9 4.6"/><line x1="676.6" y1="204.1" x2="609.1" y2="227.7" stroke="url(#gBt)" stroke-width="1.2" stroke-dasharray="4.0 0.6"/><line x1="711.7" y1="260.9" x2="710.0" y2="306.6" stroke="#2a8ee0" stroke-opacity="0.7" stroke-width="1.1" stroke-dasharray="1.0 6.7"/><line x1="708.8" y1="230.5" x2="700.8" y2="287.3" stroke="url(#gBt)" stroke-width="1.2" stroke-dasharray="3.2 1.0"/><line x1="780.5" y1="168.0" x2="813.6" y2="156.5" stroke="#2a8ee0" stroke-opacity="0.7" stroke-width="1.1" stroke-dasharray="1.4 6.2"/><line x1="659.5" y1="234.3" x2="620.6" y2="265.1" stroke="#2a8ee0" stroke-opacity="0.7" stroke-width="1.1" stroke-dasharray="1.1 5.0"/><line x1="748.5" y1="211.8" x2="822.5" y2="256.9" stroke="url(#gBt)" stroke-width="1.2" stroke-dasharray="3.3 0.7"/><line x1="661.0" y1="236.2" x2="636.2" y2="257.3" stroke="#2a8ee0" stroke-opacity="0.7" stroke-width="1.1" stroke-dasharray="1.5 6.7"/><line x1="665.1" y1="141.3" x2="626.0" y2="101.9" stroke="#2a8ee0" stroke-opacity="0.7" stroke-width="1.1" stroke-dasharray="1.3 4.6"/><line x1="676.4" y1="178.6" x2="607.3" y2="156.1" stroke="url(#gBt)" stroke-width="1.2" stroke-dasharray="3.8 1.1"/><line x1="734.7" y1="123.9" x2="751.2" y2="69.2" stroke="#2a8ee0" stroke-opacity="0.7" stroke-width="1.1" stroke-dasharray="1.2 6.6"/><line x1="682.0" y1="253.0" x2="654.7" y2="305.4" stroke="#2a8ee0" stroke-opacity="0.7" stroke-width="1.1" stroke-dasharray="1.4 6.3"/><line x1="707.4" y1="151.5" x2="693.2" y2="71.9" stroke="url(#gBt)" stroke-width="1.2" stroke-dasharray="3.4 0.6"/><line x1="771.0" y1="149.8" x2="818.8" y2="115.1" stroke="#2a8ee0" stroke-opacity="0.7" stroke-width="1.1" stroke-dasharray="1.6 4.3"/><line x1="646.3" y1="174.8" x2="598.1" y2="163.4" stroke="#2a8ee0" stroke-opacity="0.7" stroke-width="1.1" stroke-dasharray="1.2 4.7"/><line x1="709.2" y1="260.7" x2="705.8" y2="306.5" stroke="#2a8ee0" stroke-opacity="0.7" stroke-width="1.1" stroke-dasharray="0.8 6.6"/><line x1="676.1" y1="249.5" x2="659.1" y2="275.6" stroke="#2a8ee0" stroke-opacity="0.7" stroke-width="1.1" stroke-dasharray="1.0 5.5"/><line x1="678.3" y1="208.2" x2="640.7" y2="226.2" stroke="url(#gBt)" stroke-width="1.2" stroke-dasharray="4.3 0.8"/><line x1="678.8" y1="251.2" x2="653.6" y2="293.7" stroke="#2a8ee0" stroke-opacity="0.7" stroke-width="1.1" stroke-dasharray="1.1 6.2"/><line x1="675.1" y1="198.3" x2="586.6" y2="214.8" stroke="url(#gBt)" stroke-width="1.2" stroke-dasharray="5.6 1.1"/><line x1="644.9" y1="182.9" x2="601.3" y2="177.9" stroke="#2a8ee0" stroke-opacity="0.7" stroke-width="1.1" stroke-dasharray="1.0 6.4"/><line x1="752.1" y1="177.6" x2="813.0" y2="155.9" stroke="url(#gBt)" stroke-width="1.2" stroke-dasharray="3.7 1.1"/><line x1="748.7" y1="211.5" x2="792.5" y2="237.8" stroke="url(#gBt)" stroke-width="1.2" stroke-dasharray="5.9 0.8"/><line x1="677.1" y1="176.5" x2="601.0" y2="147.0" stroke="url(#gBt)" stroke-width="1.2" stroke-dasharray="3.3 1.1"/><line x1="688.7" y1="160.3" x2="646.2" y2="109.6" stroke="url(#gBt)" stroke-width="1.2" stroke-dasharray="4.6 1.0"/><line x1="712.8" y1="230.9" x2="709.8" y2="304.4" stroke="url(#gBt)" stroke-width="1.2" stroke-dasharray="5.8 1.1"/><line x1="724.8" y1="229.6" x2="746.2" y2="309.3" stroke="url(#gBt)" stroke-width="1.2" stroke-dasharray="6.0 1.0"/><line x1="645.2" y1="180.3" x2="607.0" y2="174.5" stroke="#2a8ee0" stroke-opacity="0.7" stroke-width="1.1" stroke-dasharray="1.5 4.5"/><line x1="674.6" y1="186.9" x2="614.9" y2="180.9" stroke="url(#gBt)" stroke-width="1.2" stroke-dasharray="4.6 0.9"/><line x1="778.5" y1="219.1" x2="812.3" y2="233.9" stroke="#2a8ee0" stroke-opacity="0.7" stroke-width="1.1" stroke-dasharray="0.9 5.6"/><line x1="775.9" y1="157.5" x2="819.9" y2="133.6" stroke="#2a8ee0" stroke-opacity="0.7" stroke-width="1.1" stroke-dasharray="1.1 3.5"/><line x1="706.0" y1="260.4" x2="701.9" y2="293.8" stroke="#2a8ee0" stroke-opacity="0.7" stroke-width="1.1" stroke-dasharray="0.9 5.1"/><line x1="677.0" y1="250.1" x2="647.6" y2="296.6" stroke="#2a8ee0" stroke-opacity="0.7" stroke-width="1.1" stroke-dasharray="0.9 6.5"/><line x1="662.7" y1="143.7" x2="621.2" y2="105.7" stroke="#2a8ee0" stroke-opacity="0.7" stroke-width="1.1" stroke-dasharray="1.3 4.8"/><line x1="693.7" y1="124.1" x2="676.2" y2="67.9" stroke="#2a8ee0" stroke-opacity="0.7" stroke-width="1.1" stroke-dasharray="1.0 5.9"/><line x1="728.2" y1="228.5" x2="745.8" y2="276.7" stroke="url(#gBt)" stroke-width="1.2" stroke-dasharray="3.1 0.6"/><line x1="699.5" y1="259.3" x2="689.7" y2="304.5" stroke="#2a8ee0" stroke-opacity="0.7" stroke-width="1.1" stroke-dasharray="1.2 4.8"/><line x1="685.2" y1="163.6" x2="652.2" y2="132.7" stroke="url(#gBt)" stroke-width="1.2" stroke-dasharray="4.6 0.6"/><line x1="679.6" y1="171.2" x2="607.8" y2="130.4" stroke="url(#gBt)" stroke-width="1.2" stroke-dasharray="5.1 0.7"/><line x1="714.3" y1="230.9" x2="714.1" y2="280.8" stroke="url(#gBt)" stroke-width="1.2" stroke-dasharray="3.9 0.8"/><line x1="743.3" y1="163.3" x2="773.1" y2="134.9" stroke="url(#gBt)" stroke-width="1.2" stroke-dasharray="3.9 0.7"/><line x1="654.5" y1="227.2" x2="623.3" y2="246.0" stroke="#2a8ee0" stroke-opacity="0.7" stroke-width="1.1" stroke-dasharray="0.9 6.1"/><line x1="675.5" y1="181.4" x2="594.7" y2="161.7" stroke="url(#gBt)" stroke-width="1.2" stroke-dasharray="5.3 1.1"/><line x1="688.6" y1="160.4" x2="645.7" y2="109.5" stroke="url(#gBt)" stroke-width="1.2" stroke-dasharray="3.6 1.1"/><line x1="660.9" y1="145.7" x2="620.6" y2="111.6" stroke="#2a8ee0" stroke-opacity="0.7" stroke-width="1.1" stroke-dasharray="1.4 3.2"/><line x1="774.6" y1="155.2" x2="810.2" y2="134.1" stroke="#2a8ee0" stroke-opacity="0.7" stroke-width="1.1" stroke-dasharray="1.1 6.4"/><line x1="771.8" y1="231.0" x2="814.1" y2="260.5" stroke="#2a8ee0" stroke-opacity="0.7" stroke-width="1.1" stroke-dasharray="1.5 3.1"/><line x1="647.0" y1="172.1" x2="603.4" y2="160.0" stroke="#2a8ee0" stroke-opacity="0.7" stroke-width="1.1" stroke-dasharray="1.3 5.8"/><line x1="657.1" y1="231.1" x2="620.8" y2="256.5" stroke="#2a8ee0" stroke-opacity="0.7" stroke-width="1.1" stroke-dasharray="1.2 5.1"/><line x1="772.0" y1="230.7" x2="803.7" y2="252.5" stroke="#2a8ee0" stroke-opacity="0.7" stroke-width="1.1" stroke-dasharray="1.0 6.8"/><line x1="773.8" y1="153.9" x2="823.4" y2="123.1" stroke="#2a8ee0" stroke-opacity="0.7" stroke-width="1.1" stroke-dasharray="1.6 5.6"/><line x1="694.7" y1="123.7" x2="683.0" y2="83.7" stroke="#2a8ee0" stroke-opacity="0.7" stroke-width="1.1" stroke-dasharray="1.0 6.3"/><line x1="644.4" y1="189.7" x2="600.1" y2="188.9" stroke="#2a8ee0" stroke-opacity="0.7" stroke-width="1.1" stroke-dasharray="1.6 4.1"/><line x1="737.2" y1="124.7" x2="748.3" y2="92.5" stroke="#2a8ee0" stroke-opacity="0.7" stroke-width="1.1" stroke-dasharray="1.1 6.5"/><line x1="753.3" y1="200.2" x2="819.0" y2="216.0" stroke="url(#gBt)" stroke-width="1.2" stroke-dasharray="4.0 1.2"/><line x1="772.3" y1="151.6" x2="800.5" y2="132.5" stroke="#2a8ee0" stroke-opacity="0.7" stroke-width="1.1" stroke-dasharray="1.4 4.7"/></g>
<rect x="666.20" y="142.73" width="96.40" height="96.40" rx="9" fill="url(#gB1)"/>
<rect x="698.71" y="175.23" width="31.38" height="31.38" fill="#aaf218"/>
<g clip-path="url(#ccB)"><rect x="666.20" y="142.73" width="96.40" height="96.40" rx="9" fill="url(#gB2)"/></g>
<g fill="none" stroke="#000" stroke-width="1.25" stroke-opacity="0.62">
<path d="M573.18 17.65V364.20M604.56 17.65V364.20M635.95 17.65V364.20M667.33 17.65V364.20M698.71 17.65V364.20M730.09 17.65V364.20M761.47 17.65V364.20M792.85 17.65V364.20M824.24 17.65V364.20M855.62 17.65V364.20M541.80 49.15H887.00M541.80 80.66H887.00M541.80 112.16H887.00M541.80 143.67H887.00M541.80 175.17H887.00M541.80 206.68H887.00M541.80 238.18H887.00M541.80 269.69H887.00M541.80 301.19H887.00M541.80 332.70H887.00M557.49 17.65v6.2M557.49 364.20v-6.2M588.87 17.65v9.5M588.87 364.20v-9.5M620.25 17.65v6.2M620.25 364.20v-6.2M651.64 17.65v9.5M651.64 364.20v-9.5M683.02 17.65v6.2M683.02 364.20v-6.2M714.40 17.65v9.5M714.40 364.20v-9.5M745.78 17.65v6.2M745.78 364.20v-6.2M777.16 17.65v9.5M777.16 364.20v-9.5M808.55 17.65v6.2M808.55 364.20v-6.2M839.93 17.65v9.5M839.93 364.20v-9.5M871.31 17.65v6.2M871.31 364.20v-6.2M541.80 33.40h6.2M887.00 33.40h-6.2M541.80 64.91h10.4M887.00 64.91h-10.4M541.80 96.41h6.2M887.00 96.41h-6.2M541.80 127.92h10.4M887.00 127.92h-10.4M541.80 159.42h6.2M887.00 159.42h-6.2M541.80 190.93h10.4M887.00 190.93h-10.4M541.80 222.43h6.2M887.00 222.43h-6.2M541.80 253.93h10.4M887.00 253.93h-10.4M541.80 285.44h6.2M887.00 285.44h-6.2M541.80 316.94h10.4M887.00 316.94h-10.4M541.80 348.45h6.2M887.00 348.45h-6.2" stroke-width="1.05" stroke-opacity="0.55"/>
<circle cx="557.49" cy="33.40" r="14.70"/>
<circle cx="588.87" cy="33.40" r="14.70"/>
<circle cx="620.25" cy="33.40" r="14.70"/>
<circle cx="651.64" cy="33.40" r="14.70"/>
<circle cx="683.02" cy="33.40" r="14.70"/>
<circle cx="714.40" cy="33.40" r="14.70"/>
<circle cx="745.78" cy="33.40" r="14.70"/>
<circle cx="777.16" cy="33.40" r="14.70"/>
<circle cx="808.55" cy="33.40" r="14.70"/>
<circle cx="839.93" cy="33.40" r="14.70"/>
<circle cx="871.31" cy="33.40" r="14.70"/>
<circle cx="557.49" cy="64.91" r="14.70"/>
<circle cx="588.87" cy="64.91" r="14.70"/>
<circle cx="620.25" cy="64.91" r="14.70"/>
<circle cx="651.64" cy="64.91" r="14.70"/>
<circle cx="683.02" cy="64.91" r="14.70"/>
<circle cx="714.40" cy="64.91" r="14.70"/>
<circle cx="745.78" cy="64.91" r="14.70"/>
<circle cx="777.16" cy="64.91" r="14.70"/>
<circle cx="808.55" cy="64.91" r="14.70"/>
<circle cx="839.93" cy="64.91" r="14.70"/>
<circle cx="871.31" cy="64.91" r="14.70"/>
<circle cx="557.49" cy="96.41" r="14.70"/>
<circle cx="588.87" cy="96.41" r="14.70"/>
<circle cx="620.25" cy="96.41" r="14.70"/>
<circle cx="651.64" cy="96.41" r="14.70"/>
<circle cx="683.02" cy="96.41" r="14.70"/>
<circle cx="714.40" cy="96.41" r="14.70"/>
<circle cx="745.78" cy="96.41" r="14.70"/>
<circle cx="777.16" cy="96.41" r="14.70"/>
<circle cx="808.55" cy="96.41" r="14.70"/>
<circle cx="839.93" cy="96.41" r="14.70"/>
<circle cx="871.31" cy="96.41" r="14.70"/>
<circle cx="557.49" cy="127.92" r="14.70"/>
<circle cx="588.87" cy="127.92" r="14.70"/>
<circle cx="620.25" cy="127.92" r="14.70"/>
<circle cx="651.64" cy="127.92" r="14.70"/>
<circle cx="683.02" cy="127.92" r="14.70"/>
<circle cx="714.40" cy="127.92" r="14.70"/>
<circle cx="745.78" cy="127.92" r="14.70"/>
<circle cx="777.16" cy="127.92" r="14.70"/>
<circle cx="808.55" cy="127.92" r="14.70"/>
<circle cx="839.93" cy="127.92" r="14.70"/>
<circle cx="871.31" cy="127.92" r="14.70"/>
<circle cx="557.49" cy="159.42" r="14.70"/>
<circle cx="588.87" cy="159.42" r="14.70"/>
<circle cx="620.25" cy="159.42" r="14.70"/>
<circle cx="651.64" cy="159.42" r="14.70"/>
<circle cx="683.02" cy="159.42" r="14.70"/>
<circle cx="714.40" cy="159.42" r="14.70"/>
<circle cx="745.78" cy="159.42" r="14.70"/>
<circle cx="777.16" cy="159.42" r="14.70"/>
<circle cx="808.55" cy="159.42" r="14.70"/>
<circle cx="839.93" cy="159.42" r="14.70"/>
<circle cx="871.31" cy="159.42" r="14.70"/>
<circle cx="557.49" cy="190.93" r="14.70"/>
<circle cx="588.87" cy="190.93" r="14.70"/>
<circle cx="620.25" cy="190.93" r="14.70"/>
<circle cx="651.64" cy="190.93" r="14.70"/>
<circle cx="683.02" cy="190.93" r="14.70"/>
<circle cx="714.40" cy="190.93" r="14.70"/>
<circle cx="745.78" cy="190.93" r="14.70"/>
<circle cx="777.16" cy="190.93" r="14.70"/>
<circle cx="808.55" cy="190.93" r="14.70"/>
<circle cx="839.93" cy="190.93" r="14.70"/>
<circle cx="871.31" cy="190.93" r="14.70"/>
<circle cx="557.49" cy="222.43" r="14.70"/>
<circle cx="588.87" cy="222.43" r="14.70"/>
<circle cx="620.25" cy="222.43" r="14.70"/>
<circle cx="651.64" cy="222.43" r="14.70"/>
<circle cx="683.02" cy="222.43" r="14.70"/>
<circle cx="714.40" cy="222.43" r="14.70"/>
<circle cx="745.78" cy="222.43" r="14.70"/>
<circle cx="777.16" cy="222.43" r="14.70"/>
<circle cx="808.55" cy="222.43" r="14.70"/>
<circle cx="839.93" cy="222.43" r="14.70"/>
<circle cx="871.31" cy="222.43" r="14.70"/>
<circle cx="557.49" cy="253.93" r="14.70"/>
<circle cx="588.87" cy="253.93" r="14.70"/>
<circle cx="620.25" cy="253.93" r="14.70"/>
<circle cx="651.64" cy="253.93" r="14.70"/>
<circle cx="683.02" cy="253.93" r="14.70"/>
<circle cx="714.40" cy="253.93" r="14.70"/>
<circle cx="745.78" cy="253.93" r="14.70"/>
<circle cx="777.16" cy="253.93" r="14.70"/>
<circle cx="808.55" cy="253.93" r="14.70"/>
<circle cx="839.93" cy="253.93" r="14.70"/>
<circle cx="871.31" cy="253.93" r="14.70"/>
<circle cx="557.49" cy="285.44" r="14.70"/>
<circle cx="588.87" cy="285.44" r="14.70"/>
<circle cx="620.25" cy="285.44" r="14.70"/>
<circle cx="651.64" cy="285.44" r="14.70"/>
<circle cx="683.02" cy="285.44" r="14.70"/>
<circle cx="714.40" cy="285.44" r="14.70"/>
<circle cx="745.78" cy="285.44" r="14.70"/>
<circle cx="777.16" cy="285.44" r="14.70"/>
<circle cx="808.55" cy="285.44" r="14.70"/>
<circle cx="839.93" cy="285.44" r="14.70"/>
<circle cx="871.31" cy="285.44" r="14.70"/>
<circle cx="557.49" cy="316.94" r="14.70"/>
<circle cx="588.87" cy="316.94" r="14.70"/>
<circle cx="620.25" cy="316.94" r="14.70"/>
<circle cx="651.64" cy="316.94" r="14.70"/>
<circle cx="683.02" cy="316.94" r="14.70"/>
<circle cx="714.40" cy="316.94" r="14.70"/>
<circle cx="745.78" cy="316.94" r="14.70"/>
<circle cx="777.16" cy="316.94" r="14.70"/>
<circle cx="808.55" cy="316.94" r="14.70"/>
<circle cx="839.93" cy="316.94" r="14.70"/>
<circle cx="871.31" cy="316.94" r="14.70"/>
<circle cx="557.49" cy="348.45" r="14.70"/>
<circle cx="588.87" cy="348.45" r="14.70"/>
<circle cx="620.25" cy="348.45" r="14.70"/>
<circle cx="651.64" cy="348.45" r="14.70"/>
<circle cx="683.02" cy="348.45" r="14.70"/>
<circle cx="714.40" cy="348.45" r="14.70"/>
<circle cx="745.78" cy="348.45" r="14.70"/>
<circle cx="777.16" cy="348.45" r="14.70"/>
<circle cx="808.55" cy="348.45" r="14.70"/>
<circle cx="839.93" cy="348.45" r="14.70"/>
<circle cx="871.31" cy="348.45" r="14.70"/>
</g>
<g fill="none" stroke="#000" stroke-width="1.1" stroke-opacity="0.45">
<circle cx="561.89" cy="33.40" r="9.10"/>
<circle cx="593.27" cy="33.40" r="9.10"/>
<circle cx="624.65" cy="33.40" r="9.10"/>
<circle cx="656.04" cy="33.40" r="9.10"/>
<circle cx="687.42" cy="33.40" r="9.10"/>
<circle cx="718.80" cy="33.40" r="9.10"/>
<circle cx="750.18" cy="33.40" r="9.10"/>
<circle cx="781.56" cy="33.40" r="9.10"/>
<circle cx="812.95" cy="33.40" r="9.10"/>
<circle cx="844.33" cy="33.40" r="9.10"/>
<circle cx="875.71" cy="33.40" r="9.10"/>
<circle cx="561.89" cy="64.91" r="9.10"/>
<circle cx="593.27" cy="64.91" r="9.10"/>
<circle cx="624.65" cy="64.91" r="9.10"/>
<circle cx="656.04" cy="64.91" r="9.10"/>
<circle cx="687.42" cy="64.91" r="9.10"/>
<circle cx="718.80" cy="64.91" r="9.10"/>
<circle cx="750.18" cy="64.91" r="9.10"/>
<circle cx="781.56" cy="64.91" r="9.10"/>
<circle cx="812.95" cy="64.91" r="9.10"/>
<circle cx="844.33" cy="64.91" r="9.10"/>
<circle cx="875.71" cy="64.91" r="9.10"/>
<circle cx="561.89" cy="96.41" r="9.10"/>
<circle cx="593.27" cy="96.41" r="9.10"/>
<circle cx="624.65" cy="96.41" r="9.10"/>
<circle cx="656.04" cy="96.41" r="9.10"/>
<circle cx="687.42" cy="96.41" r="9.10"/>
<circle cx="718.80" cy="96.41" r="9.10"/>
<circle cx="750.18" cy="96.41" r="9.10"/>
<circle cx="781.56" cy="96.41" r="9.10"/>
<circle cx="812.95" cy="96.41" r="9.10"/>
<circle cx="844.33" cy="96.41" r="9.10"/>
<circle cx="875.71" cy="96.41" r="9.10"/>
<circle cx="561.89" cy="127.92" r="9.10"/>
<circle cx="593.27" cy="127.92" r="9.10"/>
<circle cx="624.65" cy="127.92" r="9.10"/>
<circle cx="656.04" cy="127.92" r="9.10"/>
<circle cx="687.42" cy="127.92" r="9.10"/>
<circle cx="718.80" cy="127.92" r="9.10"/>
<circle cx="750.18" cy="127.92" r="9.10"/>
<circle cx="781.56" cy="127.92" r="9.10"/>
<circle cx="812.95" cy="127.92" r="9.10"/>
<circle cx="844.33" cy="127.92" r="9.10"/>
<circle cx="875.71" cy="127.92" r="9.10"/>
<circle cx="561.89" cy="159.42" r="9.10"/>
<circle cx="593.27" cy="159.42" r="9.10"/>
<circle cx="624.65" cy="159.42" r="9.10"/>
<circle cx="656.04" cy="159.42" r="9.10"/>
<circle cx="687.42" cy="159.42" r="9.10"/>
<circle cx="718.80" cy="159.42" r="9.10"/>
<circle cx="750.18" cy="159.42" r="9.10"/>
<circle cx="781.56" cy="159.42" r="9.10"/>
<circle cx="812.95" cy="159.42" r="9.10"/>
<circle cx="844.33" cy="159.42" r="9.10"/>
<circle cx="875.71" cy="159.42" r="9.10"/>
<circle cx="561.89" cy="190.93" r="9.10"/>
<circle cx="593.27" cy="190.93" r="9.10"/>
<circle cx="624.65" cy="190.93" r="9.10"/>
<circle cx="656.04" cy="190.93" r="9.10"/>
<circle cx="687.42" cy="190.93" r="9.10"/>
<circle cx="718.80" cy="190.93" r="9.10"/>
<circle cx="750.18" cy="190.93" r="9.10"/>
<circle cx="781.56" cy="190.93" r="9.10"/>
<circle cx="812.95" cy="190.93" r="9.10"/>
<circle cx="844.33" cy="190.93" r="9.10"/>
<circle cx="875.71" cy="190.93" r="9.10"/>
<circle cx="561.89" cy="222.43" r="9.10"/>
<circle cx="593.27" cy="222.43" r="9.10"/>
<circle cx="624.65" cy="222.43" r="9.10"/>
<circle cx="656.04" cy="222.43" r="9.10"/>
<circle cx="687.42" cy="222.43" r="9.10"/>
<circle cx="718.80" cy="222.43" r="9.10"/>
<circle cx="750.18" cy="222.43" r="9.10"/>
<circle cx="781.56" cy="222.43" r="9.10"/>
<circle cx="812.95" cy="222.43" r="9.10"/>
<circle cx="844.33" cy="222.43" r="9.10"/>
<circle cx="875.71" cy="222.43" r="9.10"/>
<circle cx="561.89" cy="253.93" r="9.10"/>
<circle cx="593.27" cy="253.93" r="9.10"/>
<circle cx="624.65" cy="253.93" r="9.10"/>
<circle cx="656.04" cy="253.93" r="9.10"/>
<circle cx="687.42" cy="253.93" r="9.10"/>
<circle cx="718.80" cy="253.93" r="9.10"/>
<circle cx="750.18" cy="253.93" r="9.10"/>
<circle cx="781.56" cy="253.93" r="9.10"/>
<circle cx="812.95" cy="253.93" r="9.10"/>
<circle cx="844.33" cy="253.93" r="9.10"/>
<circle cx="875.71" cy="253.93" r="9.10"/>
<circle cx="561.89" cy="285.44" r="9.10"/>
<circle cx="593.27" cy="285.44" r="9.10"/>
<circle cx="624.65" cy="285.44" r="9.10"/>
<circle cx="656.04" cy="285.44" r="9.10"/>
<circle cx="687.42" cy="285.44" r="9.10"/>
<circle cx="718.80" cy="285.44" r="9.10"/>
<circle cx="750.18" cy="285.44" r="9.10"/>
<circle cx="781.56" cy="285.44" r="9.10"/>
<circle cx="812.95" cy="285.44" r="9.10"/>
<circle cx="844.33" cy="285.44" r="9.10"/>
<circle cx="875.71" cy="285.44" r="9.10"/>
<circle cx="561.89" cy="316.94" r="9.10"/>
<circle cx="593.27" cy="316.94" r="9.10"/>
<circle cx="624.65" cy="316.94" r="9.10"/>
<circle cx="656.04" cy="316.94" r="9.10"/>
<circle cx="687.42" cy="316.94" r="9.10"/>
<circle cx="718.80" cy="316.94" r="9.10"/>
<circle cx="750.18" cy="316.94" r="9.10"/>
<circle cx="781.56" cy="316.94" r="9.10"/>
<circle cx="812.95" cy="316.94" r="9.10"/>
<circle cx="844.33" cy="316.94" r="9.10"/>
<circle cx="875.71" cy="316.94" r="9.10"/>
<circle cx="561.89" cy="348.45" r="9.10"/>
<circle cx="593.27" cy="348.45" r="9.10"/>
<circle cx="624.65" cy="348.45" r="9.10"/>
<circle cx="656.04" cy="348.45" r="9.10"/>
<circle cx="687.42" cy="348.45" r="9.10"/>
<circle cx="718.80" cy="348.45" r="9.10"/>
<circle cx="750.18" cy="348.45" r="9.10"/>
<circle cx="781.56" cy="348.45" r="9.10"/>
<circle cx="812.95" cy="348.45" r="9.10"/>
<circle cx="844.33" cy="348.45" r="9.10"/>
<circle cx="875.71" cy="348.45" r="9.10"/>
</g>
<rect x="541.80" y="17.65" width="345.20" height="346.55" fill="none" stroke="#000" stroke-opacity="0.72" stroke-width="1.3"/>
<rect x="539.40" y="15.25" width="350.00" height="351.95" fill="none" stroke="#d2d2d2" stroke-width="1.2"/>
<rect x="897.3" y="17.3" width="344.00" height="344.60" fill="#fff"/>
<g clip-path="url(#ccC)"><rect x="897.3" y="17.3" width="344.00" height="344.60" fill="#f9f9f9"/></g>
<g>
<rect x="1020.30" y="142.00" width="98.00" height="95.20" rx="28.42" ry="27.61" fill="#0c7ff2" fill-opacity="0.55"/>
<rect x="1021.17" y="142.85" width="96.25" height="93.50" rx="28.63" ry="27.81" fill="#0cecba" fill-opacity="0.55"/>
<rect x="1022.05" y="143.70" width="94.50" height="91.80" rx="28.80" ry="27.97" fill="#0be054"/>
<rect x="1022.92" y="144.55" width="92.75" height="90.10" rx="28.93" ry="28.10" fill="#0bd926"/>
<rect x="1023.80" y="145.40" width="91.00" height="88.40" rx="29.02" ry="28.19" fill="#0bd922"/>
<rect x="1024.67" y="146.25" width="89.25" height="86.70" rx="29.08" ry="28.25" fill="#0bda1e"/>
<rect x="1025.55" y="147.10" width="87.50" height="85.00" rx="29.10" ry="28.27" fill="#0bda1b"/>
<rect x="1026.42" y="147.95" width="85.75" height="83.30" rx="29.09" ry="28.26" fill="#0bdb17"/>
<rect x="1027.30" y="148.80" width="84.00" height="81.60" rx="29.04" ry="28.21" fill="#0bdb13"/>
<rect x="1028.17" y="149.65" width="82.25" height="79.90" rx="28.96" ry="28.13" fill="#0bdc0d"/>
<rect x="1029.05" y="150.50" width="80.50" height="78.20" rx="28.84" ry="28.02" fill="#11de0b"/>
<rect x="1029.92" y="151.35" width="78.75" height="76.50" rx="28.70" ry="27.88" fill="#1adf0b"/>
<rect x="1030.80" y="152.20" width="77.00" height="74.80" rx="28.52" ry="27.70" fill="#22e00b"/>
<rect x="1031.67" y="153.05" width="75.25" height="73.10" rx="28.31" ry="27.50" fill="#2be20b"/>
<rect x="1032.55" y="153.90" width="73.50" height="71.40" rx="28.07" ry="27.27" fill="#33e30b"/>
<rect x="1033.42" y="154.75" width="71.75" height="69.70" rx="27.80" ry="27.00" fill="#3ce50b"/>
<rect x="1034.30" y="155.60" width="70.00" height="68.00" rx="27.50" ry="26.71" fill="#47e60c"/>
<rect x="1035.17" y="156.45" width="68.25" height="66.30" rx="27.17" ry="26.40" fill="#58e80c"/>
<rect x="1036.05" y="157.30" width="66.50" height="64.60" rx="26.82" ry="26.05" fill="#6aea0c"/>
<rect x="1036.92" y="158.15" width="64.75" height="62.90" rx="26.44" ry="25.68" fill="#7bec0c"/>
<rect x="1037.80" y="159.00" width="63.00" height="61.20" rx="26.03" ry="25.29" fill="#8dee0c"/>
<rect x="1038.67" y="159.85" width="61.25" height="59.50" rx="25.60" ry="24.87" fill="#9ff00c"/>
<rect x="1039.55" y="160.70" width="59.50" height="57.80" rx="25.14" ry="24.43" fill="#b1f10c"/>
<rect x="1040.42" y="161.55" width="57.75" height="56.10" rx="24.66" ry="23.96" fill="#c1f30c"/>
<rect x="1041.30" y="162.40" width="56.00" height="54.40" rx="24.16" ry="23.47" fill="#cef40c"/>
<rect x="1042.17" y="163.25" width="54.25" height="52.70" rx="23.63" ry="22.96" fill="#dbf50c"/>
<rect x="1043.05" y="164.10" width="52.50" height="51.00" rx="23.09" ry="22.43" fill="#e8f60c"/>
<rect x="1043.92" y="164.95" width="50.75" height="49.30" rx="22.52" ry="21.87" fill="#f6f60c"/>
<rect x="1044.80" y="165.80" width="49.00" height="47.60" rx="21.93" ry="21.30" fill="#f7ec0c"/>
<rect x="1045.67" y="166.65" width="47.25" height="45.90" rx="21.32" ry="20.71" fill="#f8e00c"/>
<rect x="1046.55" y="167.50" width="45.50" height="44.20" rx="20.69" ry="20.10" fill="#f9d40c"/>
<rect x="1047.42" y="168.35" width="43.75" height="42.50" rx="20.04" ry="19.47" fill="#fac90d"/>
<rect x="1048.30" y="169.20" width="42.00" height="40.80" rx="19.38" ry="18.83" fill="#fbc40d"/>
<rect x="1049.17" y="170.05" width="40.25" height="39.10" rx="18.70" ry="18.16" fill="#fbbf0d"/>
<rect x="1050.05" y="170.90" width="38.50" height="37.40" rx="18.00" ry="17.49" fill="#fcba0d"/>
<rect x="1050.92" y="171.75" width="36.75" height="35.70" rx="17.29" ry="16.80" fill="#fcb50d"/>
<rect x="1051.80" y="172.60" width="35.00" height="34.00" rx="16.56" ry="16.09" fill="#fdaf0d"/>
<rect x="1052.67" y="173.45" width="33.25" height="32.30" rx="15.82" ry="15.37" fill="#feaa0d"/>
<rect x="1053.55" y="174.30" width="31.50" height="30.60" rx="15.07" ry="14.64" fill="#fea50d"/>
<rect x="1054.42" y="175.15" width="29.75" height="28.90" rx="14.30" ry="13.89" fill="#ff9f0d"/>
<rect x="1055.30" y="176.00" width="28.00" height="27.20" rx="13.52" ry="13.13" fill="#ff9e0d"/>
<rect x="1056.17" y="176.85" width="26.25" height="25.50" rx="12.73" ry="12.37" fill="#ff9d0d"/>
<rect x="1057.05" y="177.70" width="24.50" height="23.80" rx="11.93" ry="11.59" fill="#ff9d0d"/>
<rect x="1057.92" y="178.55" width="22.75" height="22.10" rx="11.12" ry="10.80" fill="#ff9c0d"/>
<rect x="1058.80" y="179.40" width="21.00" height="20.40" rx="10.30" ry="10.00" fill="#ff9c0d"/>
<rect x="1059.67" y="180.25" width="19.25" height="18.70" rx="9.47" ry="9.20" fill="#ff9b0d"/>
<rect x="1060.55" y="181.10" width="17.50" height="17.00" rx="8.63" ry="8.39" fill="#ff9b0d"/>
<rect x="1061.42" y="181.95" width="15.75" height="15.30" rx="7.79" ry="7.57" fill="#ff9a0d"/>
<rect x="1062.30" y="182.80" width="14.00" height="13.60" rx="6.94" ry="6.74" fill="#ff9a0d"/>
<rect x="1063.17" y="183.65" width="12.25" height="11.90" rx="6.08" ry="5.91" fill="#ff990d"/>
<rect x="1064.05" y="184.50" width="10.50" height="10.20" rx="5.22" ry="5.08" fill="#ff990d"/>
<rect x="1064.92" y="185.35" width="8.75" height="8.50" rx="4.36" ry="4.24" fill="#ff980d"/>
<rect x="1065.80" y="186.20" width="7.00" height="6.80" rx="3.49" ry="3.39" fill="#ff980d"/>
<rect x="1066.67" y="187.05" width="5.25" height="5.10" rx="2.62" ry="2.55" fill="#ff970d"/>
<rect x="1067.55" y="187.90" width="3.50" height="3.40" rx="1.75" ry="1.70" fill="#ff970d"/>
<rect x="1068.42" y="188.75" width="1.75" height="1.70" rx="0.87" ry="0.85" fill="#ff970d"/>
</g>
<g clip-path="url(#ccC)">
<rect x="1020.30" y="142.00" width="98.00" height="95.20" rx="28.42" ry="27.61" fill="#0c7ff2" fill-opacity="0.55"/>
<rect x="1021.17" y="142.85" width="96.25" height="93.50" rx="28.63" ry="27.81" fill="#0cec94" fill-opacity="0.55"/>
<rect x="1022.05" y="143.70" width="94.50" height="91.80" rx="28.80" ry="27.97" fill="#0be62c"/>
<rect x="1022.92" y="144.55" width="92.75" height="90.10" rx="28.93" ry="28.10" fill="#10e60b"/>
<rect x="1023.80" y="145.40" width="91.00" height="88.40" rx="29.02" ry="28.19" fill="#2ee80c"/>
<rect x="1024.67" y="146.25" width="89.25" height="86.70" rx="29.08" ry="28.25" fill="#48ec0c"/>
<rect x="1025.55" y="147.10" width="87.50" height="85.00" rx="29.10" ry="28.27" fill="#63f00c"/>
<rect x="1026.42" y="147.95" width="85.75" height="83.30" rx="29.09" ry="28.26" fill="#7cf30c"/>
<rect x="1027.30" y="148.80" width="84.00" height="81.60" rx="29.04" ry="28.21" fill="#8cf40c"/>
<rect x="1028.17" y="149.65" width="82.25" height="79.90" rx="28.96" ry="28.13" fill="#9df60c"/>
<rect x="1029.05" y="150.50" width="80.50" height="78.20" rx="28.84" ry="28.02" fill="#aef80c"/>
<rect x="1029.92" y="151.35" width="78.75" height="76.50" rx="28.70" ry="27.88" fill="#bffa0c"/>
<rect x="1030.80" y="152.20" width="77.00" height="74.80" rx="28.52" ry="27.70" fill="#c9fa0d"/>
<rect x="1031.67" y="153.05" width="75.25" height="73.10" rx="28.31" ry="27.50" fill="#d2fb0d"/>
<rect x="1032.55" y="153.90" width="73.50" height="71.40" rx="28.07" ry="27.27" fill="#dbfc0d"/>
<rect x="1033.42" y="154.75" width="71.75" height="69.70" rx="27.80" ry="27.00" fill="#e3fc0d"/>
<rect x="1034.30" y="155.60" width="70.00" height="68.00" rx="27.50" ry="26.71" fill="#ecfd0d"/>
<rect x="1035.17" y="156.45" width="68.25" height="66.30" rx="27.17" ry="26.40" fill="#f5fe0d"/>
<rect x="1036.05" y="157.30" width="66.50" height="64.60" rx="26.82" ry="26.05" fill="#fefe0d"/>
<rect x="1036.92" y="158.15" width="64.75" height="62.90" rx="26.44" ry="25.68" fill="#fff70d"/>
<rect x="1037.80" y="159.00" width="63.00" height="61.20" rx="26.03" ry="25.29" fill="#fff30d"/>
<rect x="1038.67" y="159.85" width="61.25" height="59.50" rx="25.60" ry="24.87" fill="#ffee0d"/>
<rect x="1039.55" y="160.70" width="59.50" height="57.80" rx="25.14" ry="24.43" fill="#ffea0d"/>
<rect x="1040.42" y="161.55" width="57.75" height="56.10" rx="24.66" ry="23.96" fill="#ffe50d"/>
<rect x="1041.30" y="162.40" width="56.00" height="54.40" rx="24.16" ry="23.47" fill="#ffe10d"/>
<rect x="1042.17" y="163.25" width="54.25" height="52.70" rx="23.63" ry="22.96" fill="#ffdc0d"/>
<rect x="1043.05" y="164.10" width="52.50" height="51.00" rx="23.09" ry="22.43" fill="#ffd80d"/>
<rect x="1043.92" y="164.95" width="50.75" height="49.30" rx="22.52" ry="21.87" fill="#ffd30d"/>
<rect x="1044.80" y="165.80" width="49.00" height="47.60" rx="21.93" ry="21.30" fill="#ffcf0d"/>
<rect x="1045.67" y="166.65" width="47.25" height="45.90" rx="21.32" ry="20.71" fill="#ffc70d"/>
<rect x="1046.55" y="167.50" width="45.50" height="44.20" rx="20.69" ry="20.10" fill="#ffc00d"/>
<rect x="1047.42" y="168.35" width="43.75" height="42.50" rx="20.04" ry="19.47" fill="#ffb90d"/>
<rect x="1048.30" y="169.20" width="42.00" height="40.80" rx="19.38" ry="18.83" fill="#ffb20d"/>
<rect x="1049.17" y="170.05" width="40.25" height="39.10" rx="18.70" ry="18.16" fill="#ffab0d"/>
<rect x="1050.05" y="170.90" width="38.50" height="37.40" rx="18.00" ry="17.49" fill="#ffa30d"/>
<rect x="1050.92" y="171.75" width="36.75" height="35.70" rx="17.29" ry="16.80" fill="#ff9c0d"/>
<rect x="1051.80" y="172.60" width="35.00" height="34.00" rx="16.56" ry="16.09" fill="#ff930d"/>
<rect x="1052.67" y="173.45" width="33.25" height="32.30" rx="15.82" ry="15.37" fill="#ff7f0d"/>
<rect x="1053.55" y="174.30" width="31.50" height="30.60" rx="15.07" ry="14.64" fill="#ff6a0d"/>
<rect x="1054.42" y="175.15" width="29.75" height="28.90" rx="14.30" ry="13.89" fill="#ff5d0d"/>
<rect x="1055.30" y="176.00" width="28.00" height="27.20" rx="13.52" ry="13.13" fill="#ff5d0d"/>
<rect x="1056.17" y="176.85" width="26.25" height="25.50" rx="12.73" ry="12.37" fill="#ff5d0d"/>
<rect x="1057.05" y="177.70" width="24.50" height="23.80" rx="11.93" ry="11.59" fill="#ff5d0d"/>
<rect x="1057.92" y="178.55" width="22.75" height="22.10" rx="11.12" ry="10.80" fill="#ff5c0d"/>
<rect x="1058.80" y="179.40" width="21.00" height="20.40" rx="10.30" ry="10.00" fill="#ff5c0d"/>
<rect x="1059.67" y="180.25" width="19.25" height="18.70" rx="9.47" ry="9.20" fill="#ff5c0d"/>
<rect x="1060.55" y="181.10" width="17.50" height="17.00" rx="8.63" ry="8.39" fill="#ff5c0d"/>
<rect x="1061.42" y="181.95" width="15.75" height="15.30" rx="7.79" ry="7.57" fill="#ff5c0d"/>
<rect x="1062.30" y="182.80" width="14.00" height="13.60" rx="6.94" ry="6.74" fill="#ff5b0d"/>
<rect x="1063.17" y="183.65" width="12.25" height="11.90" rx="6.08" ry="5.91" fill="#ff5b0d"/>
<rect x="1064.05" y="184.50" width="10.50" height="10.20" rx="5.22" ry="5.08" fill="#ff5b0d"/>
<rect x="1064.92" y="185.35" width="8.75" height="8.50" rx="4.36" ry="4.24" fill="#ff5b0d"/>
<rect x="1065.80" y="186.20" width="7.00" height="6.80" rx="3.49" ry="3.39" fill="#ff5a0d"/>
<rect x="1066.67" y="187.05" width="5.25" height="5.10" rx="2.62" ry="2.55" fill="#ff5a0d"/>
<rect x="1067.55" y="187.90" width="3.50" height="3.40" rx="1.75" ry="1.70" fill="#ff5a0d"/>
<rect x="1068.42" y="188.75" width="1.75" height="1.70" rx="0.87" ry="0.85" fill="#ff5a0d"/>
</g>
<g clip-path="url(#cnC)">
<rect x="1020.30" y="142.00" width="98.00" height="95.20" rx="28.42" ry="27.61" fill="#0c7ff2" fill-opacity="0.55"/>
<rect x="1021.17" y="142.85" width="96.25" height="93.50" rx="28.63" ry="27.81" fill="#0cec8a" fill-opacity="0.55"/>
<rect x="1022.05" y="143.70" width="94.50" height="91.80" rx="28.80" ry="27.97" fill="#0ce80f"/>
<rect x="1022.92" y="144.55" width="92.75" height="90.10" rx="28.93" ry="28.10" fill="#42ec0c"/>
<rect x="1023.80" y="145.40" width="91.00" height="88.40" rx="29.02" ry="28.19" fill="#68ef0c"/>
<rect x="1024.67" y="146.25" width="89.25" height="86.70" rx="29.08" ry="28.25" fill="#82f20c"/>
<rect x="1025.55" y="147.10" width="87.50" height="85.00" rx="29.10" ry="28.27" fill="#9df50c"/>
<rect x="1026.42" y="147.95" width="85.75" height="83.30" rx="29.09" ry="28.26" fill="#b5f80c"/>
<rect x="1027.30" y="148.80" width="84.00" height="81.60" rx="29.04" ry="28.21" fill="#c4fa0c"/>
<rect x="1028.17" y="149.65" width="82.25" height="79.90" rx="28.96" ry="28.13" fill="#d4fb0d"/>
<rect x="1029.05" y="150.50" width="80.50" height="78.20" rx="28.84" ry="28.02" fill="#e4fd0d"/>
<rect x="1029.92" y="151.35" width="78.75" height="76.50" rx="28.70" ry="27.88" fill="#f4ff0d"/>
<rect x="1030.80" y="152.20" width="77.00" height="74.80" rx="28.52" ry="27.70" fill="#fcff0d"/>
<rect x="1031.67" y="153.05" width="75.25" height="73.10" rx="28.31" ry="27.50" fill="#fffc0d"/>
<rect x="1032.55" y="153.90" width="73.50" height="71.40" rx="28.07" ry="27.27" fill="#fff60d"/>
<rect x="1033.42" y="154.75" width="71.75" height="69.70" rx="27.80" ry="27.00" fill="#fff00d"/>
<rect x="1034.30" y="155.60" width="70.00" height="68.00" rx="27.50" ry="26.71" fill="#ffe90d"/>
<rect x="1035.17" y="156.45" width="68.25" height="66.30" rx="27.17" ry="26.40" fill="#ffe30d"/>
<rect x="1036.05" y="157.30" width="66.50" height="64.60" rx="26.82" ry="26.05" fill="#ffdd0d"/>
<rect x="1036.92" y="158.15" width="64.75" height="62.90" rx="26.44" ry="25.68" fill="#ffd70d"/>
<rect x="1037.80" y="159.00" width="63.00" height="61.20" rx="26.03" ry="25.29" fill="#ffd20d"/>
<rect x="1038.67" y="159.85" width="61.25" height="59.50" rx="25.60" ry="24.87" fill="#ffce0d"/>
<rect x="1039.55" y="160.70" width="59.50" height="57.80" rx="25.14" ry="24.43" fill="#ffc90d"/>
<rect x="1040.42" y="161.55" width="57.75" height="56.10" rx="24.66" ry="23.96" fill="#ffc50d"/>
<rect x="1041.30" y="162.40" width="56.00" height="54.40" rx="24.16" ry="23.47" fill="#ffc00d"/>
<rect x="1042.17" y="163.25" width="54.25" height="52.70" rx="23.63" ry="22.96" fill="#ffbc0d"/>
<rect x="1043.05" y="164.10" width="52.50" height="51.00" rx="23.09" ry="22.43" fill="#ffb70d"/>
<rect x="1043.92" y="164.95" width="50.75" height="49.30" rx="22.52" ry="21.87" fill="#ffb30d"/>
<rect x="1044.80" y="165.80" width="49.00" height="47.60" rx="21.93" ry="21.30" fill="#ffae0d"/>
<rect x="1045.67" y="166.65" width="47.25" height="45.90" rx="21.32" ry="20.71" fill="#ffa80d"/>
<rect x="1046.55" y="167.50" width="45.50" height="44.20" rx="20.69" ry="20.10" fill="#ffa20d"/>
<rect x="1047.42" y="168.35" width="43.75" height="42.50" rx="20.04" ry="19.47" fill="#ff9c0d"/>
<rect x="1048.30" y="169.20" width="42.00" height="40.80" rx="19.38" ry="18.83" fill="#ff960d"/>
<rect x="1049.17" y="170.05" width="40.25" height="39.10" rx="18.70" ry="18.16" fill="#ff8f0d"/>
<rect x="1050.05" y="170.90" width="38.50" height="37.40" rx="18.00" ry="17.49" fill="#ff890d"/>
<rect x="1050.92" y="171.75" width="36.75" height="35.70" rx="17.29" ry="16.80" fill="#ff830d"/>
<rect x="1051.80" y="172.60" width="35.00" height="34.00" rx="16.56" ry="16.09" fill="#ff7b0d"/>
<rect x="1052.67" y="173.45" width="33.25" height="32.30" rx="15.82" ry="15.37" fill="#ff6a0d"/>
<rect x="1053.55" y="174.30" width="31.50" height="30.60" rx="15.07" ry="14.64" fill="#ff580d"/>
<rect x="1054.42" y="175.15" width="29.75" height="28.90" rx="14.30" ry="13.89" fill="#ff4d0d"/>
<rect x="1055.30" y="176.00" width="28.00" height="27.20" rx="13.52" ry="13.13" fill="#ff4d0d"/>
<rect x="1056.17" y="176.85" width="26.25" height="25.50" rx="12.73" ry="12.37" fill="#ff4d0d"/>
<rect x="1057.05" y="177.70" width="24.50" height="23.80" rx="11.93" ry="11.59" fill="#ff4d0d"/>
<rect x="1057.92" y="178.55" width="22.75" height="22.10" rx="11.12" ry="10.80" fill="#ff4c0d"/>
<rect x="1058.80" y="179.40" width="21.00" height="20.40" rx="10.30" ry="10.00" fill="#ff4c0d"/>
<rect x="1059.67" y="180.25" width="19.25" height="18.70" rx="9.47" ry="9.20" fill="#ff4c0d"/>
<rect x="1060.55" y="181.10" width="17.50" height="17.00" rx="8.63" ry="8.39" fill="#ff4c0d"/>
<rect x="1061.42" y="181.95" width="15.75" height="15.30" rx="7.79" ry="7.57" fill="#ff4b0d"/>
<rect x="1062.30" y="182.80" width="14.00" height="13.60" rx="6.94" ry="6.74" fill="#ff4b0d"/>
<rect x="1063.17" y="183.65" width="12.25" height="11.90" rx="6.08" ry="5.91" fill="#ff4b0d"/>
<rect x="1064.05" y="184.50" width="10.50" height="10.20" rx="5.22" ry="5.08" fill="#ff4b0d"/>
<rect x="1064.92" y="185.35" width="8.75" height="8.50" rx="4.36" ry="4.24" fill="#ff4a0d"/>
<rect x="1065.80" y="186.20" width="7.00" height="6.80" rx="3.49" ry="3.39" fill="#ff4a0d"/>
<rect x="1066.67" y="187.05" width="5.25" height="5.10" rx="2.62" ry="2.55" fill="#ff4a0d"/>
<rect x="1067.55" y="187.90" width="3.50" height="3.40" rx="1.75" ry="1.70" fill="#ff4a0d"/>
<rect x="1068.42" y="188.75" width="1.75" height="1.70" rx="0.87" ry="0.85" fill="#ff4a0d"/>
</g>
<g fill="none" stroke="#000" stroke-width="1.25" stroke-opacity="0.62">
<path d="M928.57 17.30V361.90M959.85 17.30V361.90M991.12 17.30V361.90M1022.39 17.30V361.90M1053.66 17.30V361.90M1084.94 17.30V361.90M1116.21 17.30V361.90M1147.48 17.30V361.90M1178.75 17.30V361.90M1210.03 17.30V361.90M897.30 48.63H1241.30M897.30 79.95H1241.30M897.30 111.28H1241.30M897.30 142.61H1241.30M897.30 173.94H1241.30M897.30 205.26H1241.30M897.30 236.59H1241.30M897.30 267.92H1241.30M897.30 299.25H1241.30M897.30 330.57H1241.30M912.94 17.30v6.2M912.94 361.90v-6.2M944.21 17.30v9.5M944.21 361.90v-9.5M975.48 17.30v6.2M975.48 361.90v-6.2M1006.75 17.30v9.5M1006.75 361.90v-9.5M1038.03 17.30v6.2M1038.03 361.90v-6.2M1069.30 17.30v9.5M1069.30 361.90v-9.5M1100.57 17.30v6.2M1100.57 361.90v-6.2M1131.85 17.30v9.5M1131.85 361.90v-9.5M1163.12 17.30v6.2M1163.12 361.90v-6.2M1194.39 17.30v9.5M1194.39 361.90v-9.5M1225.66 17.30v6.2M1225.66 361.90v-6.2M897.30 32.96h6.2M1241.30 32.96h-6.2M897.30 64.29h10.4M1241.30 64.29h-10.4M897.30 95.62h6.2M1241.30 95.62h-6.2M897.30 126.95h10.4M1241.30 126.95h-10.4M897.30 158.27h6.2M1241.30 158.27h-6.2M897.30 189.60h10.4M1241.30 189.60h-10.4M897.30 220.93h6.2M1241.30 220.93h-6.2M897.30 252.25h10.4M1241.30 252.25h-10.4M897.30 283.58h6.2M1241.30 283.58h-6.2M897.30 314.91h10.4M1241.30 314.91h-10.4M897.30 346.24h6.2M1241.30 346.24h-6.2" stroke-width="1.05" stroke-opacity="0.55"/>
<circle cx="912.94" cy="32.96" r="14.70"/>
<circle cx="944.21" cy="32.96" r="14.70"/>
<circle cx="975.48" cy="32.96" r="14.70"/>
<circle cx="1006.75" cy="32.96" r="14.70"/>
<circle cx="1038.03" cy="32.96" r="14.70"/>
<circle cx="1069.30" cy="32.96" r="14.70"/>
<circle cx="1100.57" cy="32.96" r="14.70"/>
<circle cx="1131.85" cy="32.96" r="14.70"/>
<circle cx="1163.12" cy="32.96" r="14.70"/>
<circle cx="1194.39" cy="32.96" r="14.70"/>
<circle cx="1225.66" cy="32.96" r="14.70"/>
<circle cx="912.94" cy="64.29" r="14.70"/>
<circle cx="944.21" cy="64.29" r="14.70"/>
<circle cx="975.48" cy="64.29" r="14.70"/>
<circle cx="1006.75" cy="64.29" r="14.70"/>
<circle cx="1038.03" cy="64.29" r="14.70"/>
<circle cx="1069.30" cy="64.29" r="14.70"/>
<circle cx="1100.57" cy="64.29" r="14.70"/>
<circle cx="1131.85" cy="64.29" r="14.70"/>
<circle cx="1163.12" cy="64.29" r="14.70"/>
<circle cx="1194.39" cy="64.29" r="14.70"/>
<circle cx="1225.66" cy="64.29" r="14.70"/>
<circle cx="912.94" cy="95.62" r="14.70"/>
<circle cx="944.21" cy="95.62" r="14.70"/>
<circle cx="975.48" cy="95.62" r="14.70"/>
<circle cx="1006.75" cy="95.62" r="14.70"/>
<circle cx="1038.03" cy="95.62" r="14.70"/>
<circle cx="1069.30" cy="95.62" r="14.70"/>
<circle cx="1100.57" cy="95.62" r="14.70"/>
<circle cx="1131.85" cy="95.62" r="14.70"/>
<circle cx="1163.12" cy="95.62" r="14.70"/>
<circle cx="1194.39" cy="95.62" r="14.70"/>
<circle cx="1225.66" cy="95.62" r="14.70"/>
<circle cx="912.94" cy="126.95" r="14.70"/>
<circle cx="944.21" cy="126.95" r="14.70"/>
<circle cx="975.48" cy="126.95" r="14.70"/>
<circle cx="1006.75" cy="126.95" r="14.70"/>
<circle cx="1038.03" cy="126.95" r="14.70"/>
<circle cx="1069.30" cy="126.95" r="14.70"/>
<circle cx="1100.57" cy="126.95" r="14.70"/>
<circle cx="1131.85" cy="126.95" r="14.70"/>
<circle cx="1163.12" cy="126.95" r="14.70"/>
<circle cx="1194.39" cy="126.95" r="14.70"/>
<circle cx="1225.66" cy="126.95" r="14.70"/>
<circle cx="912.94" cy="158.27" r="14.70"/>
<circle cx="944.21" cy="158.27" r="14.70"/>
<circle cx="975.48" cy="158.27" r="14.70"/>
<circle cx="1006.75" cy="158.27" r="14.70"/>
<circle cx="1038.03" cy="158.27" r="14.70"/>
<circle cx="1069.30" cy="158.27" r="14.70"/>
<circle cx="1100.57" cy="158.27" r="14.70"/>
<circle cx="1131.85" cy="158.27" r="14.70"/>
<circle cx="1163.12" cy="158.27" r="14.70"/>
<circle cx="1194.39" cy="158.27" r="14.70"/>
<circle cx="1225.66" cy="158.27" r="14.70"/>
<circle cx="912.94" cy="189.60" r="14.70"/>
<circle cx="944.21" cy="189.60" r="14.70"/>
<circle cx="975.48" cy="189.60" r="14.70"/>
<circle cx="1006.75" cy="189.60" r="14.70"/>
<circle cx="1038.03" cy="189.60" r="14.70"/>
<circle cx="1069.30" cy="189.60" r="14.70"/>
<circle cx="1100.57" cy="189.60" r="14.70"/>
<circle cx="1131.85" cy="189.60" r="14.70"/>
<circle cx="1163.12" cy="189.60" r="14.70"/>
<circle cx="1194.39" cy="189.60" r="14.70"/>
<circle cx="1225.66" cy="189.60" r="14.70"/>
<circle cx="912.94" cy="220.93" r="14.70"/>
<circle cx="944.21" cy="220.93" r="14.70"/>
<circle cx="975.48" cy="220.93" r="14.70"/>
<circle cx="1006.75" cy="220.93" r="14.70"/>
<circle cx="1038.03" cy="220.93" r="14.70"/>
<circle cx="1069.30" cy="220.93" r="14.70"/>
<circle cx="1100.57" cy="220.93" r="14.70"/>
<circle cx="1131.85" cy="220.93" r="14.70"/>
<circle cx="1163.12" cy="220.93" r="14.70"/>
<circle cx="1194.39" cy="220.93" r="14.70"/>
<circle cx="1225.66" cy="220.93" r="14.70"/>
<circle cx="912.94" cy="252.25" r="14.70"/>
<circle cx="944.21" cy="252.25" r="14.70"/>
<circle cx="975.48" cy="252.25" r="14.70"/>
<circle cx="1006.75" cy="252.25" r="14.70"/>
<circle cx="1038.03" cy="252.25" r="14.70"/>
<circle cx="1069.30" cy="252.25" r="14.70"/>
<circle cx="1100.57" cy="252.25" r="14.70"/>
<circle cx="1131.85" cy="252.25" r="14.70"/>
<circle cx="1163.12" cy="252.25" r="14.70"/>
<circle cx="1194.39" cy="252.25" r="14.70"/>
<circle cx="1225.66" cy="252.25" r="14.70"/>
<circle cx="912.94" cy="283.58" r="14.70"/>
<circle cx="944.21" cy="283.58" r="14.70"/>
<circle cx="975.48" cy="283.58" r="14.70"/>
<circle cx="1006.75" cy="283.58" r="14.70"/>
<circle cx="1038.03" cy="283.58" r="14.70"/>
<circle cx="1069.30" cy="283.58" r="14.70"/>
<circle cx="1100.57" cy="283.58" r="14.70"/>
<circle cx="1131.85" cy="283.58" r="14.70"/>
<circle cx="1163.12" cy="283.58" r="14.70"/>
<circle cx="1194.39" cy="283.58" r="14.70"/>
<circle cx="1225.66" cy="283.58" r="14.70"/>
<circle cx="912.94" cy="314.91" r="14.70"/>
<circle cx="944.21" cy="314.91" r="14.70"/>
<circle cx="975.48" cy="314.91" r="14.70"/>
<circle cx="1006.75" cy="314.91" r="14.70"/>
<circle cx="1038.03" cy="314.91" r="14.70"/>
<circle cx="1069.30" cy="314.91" r="14.70"/>
<circle cx="1100.57" cy="314.91" r="14.70"/>
<circle cx="1131.85" cy="314.91" r="14.70"/>
<circle cx="1163.12" cy="314.91" r="14.70"/>
<circle cx="1194.39" cy="314.91" r="14.70"/>
<circle cx="1225.66" cy="314.91" r="14.70"/>
<circle cx="912.94" cy="346.24" r="14.70"/>
<circle cx="944.21" cy="346.24" r="14.70"/>
<circle cx="975.48" cy="346.24" r="14.70"/>
<circle cx="1006.75" cy="346.24" r="14.70"/>
<circle cx="1038.03" cy="346.24" r="14.70"/>
<circle cx="1069.30" cy="346.24" r="14.70"/>
<circle cx="1100.57" cy="346.24" r="14.70"/>
<circle cx="1131.85" cy="346.24" r="14.70"/>
<circle cx="1163.12" cy="346.24" r="14.70"/>
<circle cx="1194.39" cy="346.24" r="14.70"/>
<circle cx="1225.66" cy="346.24" r="14.70"/>
</g>
<g fill="none" stroke="#000" stroke-width="1.1" stroke-opacity="0.45">
<circle cx="917.34" cy="32.96" r="9.10"/>
<circle cx="948.61" cy="32.96" r="9.10"/>
<circle cx="979.88" cy="32.96" r="9.10"/>
<circle cx="1011.15" cy="32.96" r="9.10"/>
<circle cx="1042.43" cy="32.96" r="9.10"/>
<circle cx="1073.70" cy="32.96" r="9.10"/>
<circle cx="1104.97" cy="32.96" r="9.10"/>
<circle cx="1136.25" cy="32.96" r="9.10"/>
<circle cx="1167.52" cy="32.96" r="9.10"/>
<circle cx="1198.79" cy="32.96" r="9.10"/>
<circle cx="1230.06" cy="32.96" r="9.10"/>
<circle cx="917.34" cy="64.29" r="9.10"/>
<circle cx="948.61" cy="64.29" r="9.10"/>
<circle cx="979.88" cy="64.29" r="9.10"/>
<circle cx="1011.15" cy="64.29" r="9.10"/>
<circle cx="1042.43" cy="64.29" r="9.10"/>
<circle cx="1073.70" cy="64.29" r="9.10"/>
<circle cx="1104.97" cy="64.29" r="9.10"/>
<circle cx="1136.25" cy="64.29" r="9.10"/>
<circle cx="1167.52" cy="64.29" r="9.10"/>
<circle cx="1198.79" cy="64.29" r="9.10"/>
<circle cx="1230.06" cy="64.29" r="9.10"/>
<circle cx="917.34" cy="95.62" r="9.10"/>
<circle cx="948.61" cy="95.62" r="9.10"/>
<circle cx="979.88" cy="95.62" r="9.10"/>
<circle cx="1011.15" cy="95.62" r="9.10"/>
<circle cx="1042.43" cy="95.62" r="9.10"/>
<circle cx="1073.70" cy="95.62" r="9.10"/>
<circle cx="1104.97" cy="95.62" r="9.10"/>
<circle cx="1136.25" cy="95.62" r="9.10"/>
<circle cx="1167.52" cy="95.62" r="9.10"/>
<circle cx="1198.79" cy="95.62" r="9.10"/>
<circle cx="1230.06" cy="95.62" r="9.10"/>
<circle cx="917.34" cy="126.95" r="9.10"/>
<circle cx="948.61" cy="126.95" r="9.10"/>
<circle cx="979.88" cy="126.95" r="9.10"/>
<circle cx="1011.15" cy="126.95" r="9.10"/>
<circle cx="1042.43" cy="126.95" r="9.10"/>
<circle cx="1073.70" cy="126.95" r="9.10"/>
<circle cx="1104.97" cy="126.95" r="9.10"/>
<circle cx="1136.25" cy="126.95" r="9.10"/>
<circle cx="1167.52" cy="126.95" r="9.10"/>
<circle cx="1198.79" cy="126.95" r="9.10"/>
<circle cx="1230.06" cy="126.95" r="9.10"/>
<circle cx="917.34" cy="158.27" r="9.10"/>
<circle cx="948.61" cy="158.27" r="9.10"/>
<circle cx="979.88" cy="158.27" r="9.10"/>
<circle cx="1011.15" cy="158.27" r="9.10"/>
<circle cx="1042.43" cy="158.27" r="9.10"/>
<circle cx="1073.70" cy="158.27" r="9.10"/>
<circle cx="1104.97" cy="158.27" r="9.10"/>
<circle cx="1136.25" cy="158.27" r="9.10"/>
<circle cx="1167.52" cy="158.27" r="9.10"/>
<circle cx="1198.79" cy="158.27" r="9.10"/>
<circle cx="1230.06" cy="158.27" r="9.10"/>
<circle cx="917.34" cy="189.60" r="9.10"/>
<circle cx="948.61" cy="189.60" r="9.10"/>
<circle cx="979.88" cy="189.60" r="9.10"/>
<circle cx="1011.15" cy="189.60" r="9.10"/>
<circle cx="1042.43" cy="189.60" r="9.10"/>
<circle cx="1073.70" cy="189.60" r="9.10"/>
<circle cx="1104.97" cy="189.60" r="9.10"/>
<circle cx="1136.25" cy="189.60" r="9.10"/>
<circle cx="1167.52" cy="189.60" r="9.10"/>
<circle cx="1198.79" cy="189.60" r="9.10"/>
<circle cx="1230.06" cy="189.60" r="9.10"/>
<circle cx="917.34" cy="220.93" r="9.10"/>
<circle cx="948.61" cy="220.93" r="9.10"/>
<circle cx="979.88" cy="220.93" r="9.10"/>
<circle cx="1011.15" cy="220.93" r="9.10"/>
<circle cx="1042.43" cy="220.93" r="9.10"/>
<circle cx="1073.70" cy="220.93" r="9.10"/>
<circle cx="1104.97" cy="220.93" r="9.10"/>
<circle cx="1136.25" cy="220.93" r="9.10"/>
<circle cx="1167.52" cy="220.93" r="9.10"/>
<circle cx="1198.79" cy="220.93" r="9.10"/>
<circle cx="1230.06" cy="220.93" r="9.10"/>
<circle cx="917.34" cy="252.25" r="9.10"/>
<circle cx="948.61" cy="252.25" r="9.10"/>
<circle cx="979.88" cy="252.25" r="9.10"/>
<circle cx="1011.15" cy="252.25" r="9.10"/>
<circle cx="1042.43" cy="252.25" r="9.10"/>
<circle cx="1073.70" cy="252.25" r="9.10"/>
<circle cx="1104.97" cy="252.25" r="9.10"/>
<circle cx="1136.25" cy="252.25" r="9.10"/>
<circle cx="1167.52" cy="252.25" r="9.10"/>
<circle cx="1198.79" cy="252.25" r="9.10"/>
<circle cx="1230.06" cy="252.25" r="9.10"/>
<circle cx="917.34" cy="283.58" r="9.10"/>
<circle cx="948.61" cy="283.58" r="9.10"/>
<circle cx="979.88" cy="283.58" r="9.10"/>
<circle cx="1011.15" cy="283.58" r="9.10"/>
<circle cx="1042.43" cy="283.58" r="9.10"/>
<circle cx="1073.70" cy="283.58" r="9.10"/>
<circle cx="1104.97" cy="283.58" r="9.10"/>
<circle cx="1136.25" cy="283.58" r="9.10"/>
<circle cx="1167.52" cy="283.58" r="9.10"/>
<circle cx="1198.79" cy="283.58" r="9.10"/>
<circle cx="1230.06" cy="283.58" r="9.10"/>
<circle cx="917.34" cy="314.91" r="9.10"/>
<circle cx="948.61" cy="314.91" r="9.10"/>
<circle cx="979.88" cy="314.91" r="9.10"/>
<circle cx="1011.15" cy="314.91" r="9.10"/>
<circle cx="1042.43" cy="314.91" r="9.10"/>
<circle cx="1073.70" cy="314.91" r="9.10"/>
<circle cx="1104.97" cy="314.91" r="9.10"/>
<circle cx="1136.25" cy="314.91" r="9.10"/>
<circle cx="1167.52" cy="314.91" r="9.10"/>
<circle cx="1198.79" cy="314.91" r="9.10"/>
<circle cx="1230.06" cy="314.91" r="9.10"/>
<circle cx="917.34" cy="346.24" r="9.10"/>
<circle cx="948.61" cy="346.24" r="9.10"/>
<circle cx="979.88" cy="346.24" r="9.10"/>
<circle cx="1011.15" cy="346.24" r="9.10"/>
<circle cx="1042.43" cy="346.24" r="9.10"/>
<circle cx="1073.70" cy="346.24" r="9.10"/>
<circle cx="1104.97" cy="346.24" r="9.10"/>
<circle cx="1136.25" cy="346.24" r="9.10"/>
<circle cx="1167.52" cy="346.24" r="9.10"/>
<circle cx="1198.79" cy="346.24" r="9.10"/>
<circle cx="1230.06" cy="346.24" r="9.10"/>
</g>
<rect x="897.30" y="17.30" width="344.00" height="344.60" fill="none" stroke="#000" stroke-opacity="0.72" stroke-width="1.3"/>
<rect x="894.90" y="14.90" width="348.80" height="350.00" fill="none" stroke="#d2d2d2" stroke-width="1.2"/>
<rect x="1250.8" y="17.4" width="344.20" height="344.00" fill="url(#gD1)"/>
<g clip-path="url(#ccD)"><rect x="1250.8" y="17.4" width="344.20" height="344.00" fill="url(#gD2)"/></g>
<g clip-path="url(#cnD)"><rect x="1250.8" y="17.4" width="344.20" height="344.00" fill="url(#gD3)"/></g>
<g fill="none" stroke="#002c60" stroke-width="1.25" stroke-opacity="0.66">
<path d="M1282.09 17.40V361.40M1313.38 17.40V361.40M1344.67 17.40V361.40M1375.96 17.40V361.40M1407.25 17.40V361.40M1438.55 17.40V361.40M1469.84 17.40V361.40M1501.13 17.40V361.40M1532.42 17.40V361.40M1563.71 17.40V361.40M1250.80 48.67H1595.00M1250.80 79.95H1595.00M1250.80 111.22H1595.00M1250.80 142.49H1595.00M1250.80 173.76H1595.00M1250.80 205.04H1595.00M1250.80 236.31H1595.00M1250.80 267.58H1595.00M1250.80 298.85H1595.00M1250.80 330.13H1595.00M1266.45 17.40v6.2M1266.45 361.40v-6.2M1297.74 17.40v9.5M1297.74 361.40v-9.5M1329.03 17.40v6.2M1329.03 361.40v-6.2M1360.32 17.40v9.5M1360.32 361.40v-9.5M1391.61 17.40v6.2M1391.61 361.40v-6.2M1422.90 17.40v9.5M1422.90 361.40v-9.5M1454.19 17.40v6.2M1454.19 361.40v-6.2M1485.48 17.40v9.5M1485.48 361.40v-9.5M1516.77 17.40v6.2M1516.77 361.40v-6.2M1548.06 17.40v9.5M1548.06 361.40v-9.5M1579.35 17.40v6.2M1579.35 361.40v-6.2M1250.80 33.04h6.2M1595.00 33.04h-6.2M1250.80 64.31h10.4M1595.00 64.31h-10.4M1250.80 95.58h6.2M1595.00 95.58h-6.2M1250.80 126.85h10.4M1595.00 126.85h-10.4M1250.80 158.13h6.2M1595.00 158.13h-6.2M1250.80 189.40h10.4M1595.00 189.40h-10.4M1250.80 220.67h6.2M1595.00 220.67h-6.2M1250.80 251.95h10.4M1595.00 251.95h-10.4M1250.80 283.22h6.2M1595.00 283.22h-6.2M1250.80 314.49h10.4M1595.00 314.49h-10.4M1250.80 345.76h6.2M1595.00 345.76h-6.2" stroke-width="1.05" stroke-opacity="0.58"/>
<circle cx="1266.45" cy="33.04" r="14.70"/>
<circle cx="1297.74" cy="33.04" r="14.70"/>
<circle cx="1329.03" cy="33.04" r="14.70"/>
<circle cx="1360.32" cy="33.04" r="14.70"/>
<circle cx="1391.61" cy="33.04" r="14.70"/>
<circle cx="1422.90" cy="33.04" r="14.70"/>
<circle cx="1454.19" cy="33.04" r="14.70"/>
<circle cx="1485.48" cy="33.04" r="14.70"/>
<circle cx="1516.77" cy="33.04" r="14.70"/>
<circle cx="1548.06" cy="33.04" r="14.70"/>
<circle cx="1579.35" cy="33.04" r="14.70"/>
<circle cx="1266.45" cy="64.31" r="14.70"/>
<circle cx="1297.74" cy="64.31" r="14.70"/>
<circle cx="1329.03" cy="64.31" r="14.70"/>
<circle cx="1360.32" cy="64.31" r="14.70"/>
<circle cx="1391.61" cy="64.31" r="14.70"/>
<circle cx="1422.90" cy="64.31" r="14.70"/>
<circle cx="1454.19" cy="64.31" r="14.70"/>
<circle cx="1485.48" cy="64.31" r="14.70"/>
<circle cx="1516.77" cy="64.31" r="14.70"/>
<circle cx="1548.06" cy="64.31" r="14.70"/>
<circle cx="1579.35" cy="64.31" r="14.70"/>
<circle cx="1266.45" cy="95.58" r="14.70"/>
<circle cx="1297.74" cy="95.58" r="14.70"/>
<circle cx="1329.03" cy="95.58" r="14.70"/>
<circle cx="1360.32" cy="95.58" r="14.70"/>
<circle cx="1391.61" cy="95.58" r="14.70"/>
<circle cx="1422.90" cy="95.58" r="14.70"/>
<circle cx="1454.19" cy="95.58" r="14.70"/>
<circle cx="1485.48" cy="95.58" r="14.70"/>
<circle cx="1516.77" cy="95.58" r="14.70"/>
<circle cx="1548.06" cy="95.58" r="14.70"/>
<circle cx="1579.35" cy="95.58" r="14.70"/>
<circle cx="1266.45" cy="126.85" r="14.70"/>
<circle cx="1297.74" cy="126.85" r="14.70"/>
<circle cx="1329.03" cy="126.85" r="14.70"/>
<circle cx="1360.32" cy="126.85" r="14.70"/>
<circle cx="1391.61" cy="126.85" r="14.70"/>
<circle cx="1422.90" cy="126.85" r="14.70"/>
<circle cx="1454.19" cy="126.85" r="14.70"/>
<circle cx="1485.48" cy="126.85" r="14.70"/>
<circle cx="1516.77" cy="126.85" r="14.70"/>
<circle cx="1548.06" cy="126.85" r="14.70"/>
<circle cx="1579.35" cy="126.85" r="14.70"/>
<circle cx="1266.45" cy="158.13" r="14.70"/>
<circle cx="1297.74" cy="158.13" r="14.70"/>
<circle cx="1329.03" cy="158.13" r="14.70"/>
<circle cx="1360.32" cy="158.13" r="14.70"/>
<circle cx="1391.61" cy="158.13" r="14.70"/>
<circle cx="1422.90" cy="158.13" r="14.70"/>
<circle cx="1454.19" cy="158.13" r="14.70"/>
<circle cx="1485.48" cy="158.13" r="14.70"/>
<circle cx="1516.77" cy="158.13" r="14.70"/>
<circle cx="1548.06" cy="158.13" r="14.70"/>
<circle cx="1579.35" cy="158.13" r="14.70"/>
<circle cx="1266.45" cy="189.40" r="14.70"/>
<circle cx="1297.74" cy="189.40" r="14.70"/>
<circle cx="1329.03" cy="189.40" r="14.70"/>
<circle cx="1360.32" cy="189.40" r="14.70"/>
<circle cx="1391.61" cy="189.40" r="14.70"/>
<circle cx="1422.90" cy="189.40" r="14.70"/>
<circle cx="1454.19" cy="189.40" r="14.70"/>
<circle cx="1485.48" cy="189.40" r="14.70"/>
<circle cx="1516.77" cy="189.40" r="14.70"/>
<circle cx="1548.06" cy="189.40" r="14.70"/>
<circle cx="1579.35" cy="189.40" r="14.70"/>
<circle cx="1266.45" cy="220.67" r="14.70"/>
<circle cx="1297.74" cy="220.67" r="14.70"/>
<circle cx="1329.03" cy="220.67" r="14.70"/>
<circle cx="1360.32" cy="220.67" r="14.70"/>
<circle cx="1391.61" cy="220.67" r="14.70"/>
<circle cx="1422.90" cy="220.67" r="14.70"/>
<circle cx="1454.19" cy="220.67" r="14.70"/>
<circle cx="1485.48" cy="220.67" r="14.70"/>
<circle cx="1516.77" cy="220.67" r="14.70"/>
<circle cx="1548.06" cy="220.67" r="14.70"/>
<circle cx="1579.35" cy="220.67" r="14.70"/>
<circle cx="1266.45" cy="251.95" r="14.70"/>
<circle cx="1297.74" cy="251.95" r="14.70"/>
<circle cx="1329.03" cy="251.95" r="14.70"/>
<circle cx="1360.32" cy="251.95" r="14.70"/>
<circle cx="1391.61" cy="251.95" r="14.70"/>
<circle cx="1422.90" cy="251.95" r="14.70"/>
<circle cx="1454.19" cy="251.95" r="14.70"/>
<circle cx="1485.48" cy="251.95" r="14.70"/>
<circle cx="1516.77" cy="251.95" r="14.70"/>
<circle cx="1548.06" cy="251.95" r="14.70"/>
<circle cx="1579.35" cy="251.95" r="14.70"/>
<circle cx="1266.45" cy="283.22" r="14.70"/>
<circle cx="1297.74" cy="283.22" r="14.70"/>
<circle cx="1329.03" cy="283.22" r="14.70"/>
<circle cx="1360.32" cy="283.22" r="14.70"/>
<circle cx="1391.61" cy="283.22" r="14.70"/>
<circle cx="1422.90" cy="283.22" r="14.70"/>
<circle cx="1454.19" cy="283.22" r="14.70"/>
<circle cx="1485.48" cy="283.22" r="14.70"/>
<circle cx="1516.77" cy="283.22" r="14.70"/>
<circle cx="1548.06" cy="283.22" r="14.70"/>
<circle cx="1579.35" cy="283.22" r="14.70"/>
<circle cx="1266.45" cy="314.49" r="14.70"/>
<circle cx="1297.74" cy="314.49" r="14.70"/>
<circle cx="1329.03" cy="314.49" r="14.70"/>
<circle cx="1360.32" cy="314.49" r="14.70"/>
<circle cx="1391.61" cy="314.49" r="14.70"/>
<circle cx="1422.90" cy="314.49" r="14.70"/>
<circle cx="1454.19" cy="314.49" r="14.70"/>
<circle cx="1485.48" cy="314.49" r="14.70"/>
<circle cx="1516.77" cy="314.49" r="14.70"/>
<circle cx="1548.06" cy="314.49" r="14.70"/>
<circle cx="1579.35" cy="314.49" r="14.70"/>
<circle cx="1266.45" cy="345.76" r="14.70"/>
<circle cx="1297.74" cy="345.76" r="14.70"/>
<circle cx="1329.03" cy="345.76" r="14.70"/>
<circle cx="1360.32" cy="345.76" r="14.70"/>
<circle cx="1391.61" cy="345.76" r="14.70"/>
<circle cx="1422.90" cy="345.76" r="14.70"/>
<circle cx="1454.19" cy="345.76" r="14.70"/>
<circle cx="1485.48" cy="345.76" r="14.70"/>
<circle cx="1516.77" cy="345.76" r="14.70"/>
<circle cx="1548.06" cy="345.76" r="14.70"/>
<circle cx="1579.35" cy="345.76" r="14.70"/>
</g>
<g fill="none" stroke="#002c60" stroke-width="1.1" stroke-opacity="0.48">
<circle cx="1270.85" cy="33.04" r="9.10"/>
<circle cx="1302.14" cy="33.04" r="9.10"/>
<circle cx="1333.43" cy="33.04" r="9.10"/>
<circle cx="1364.72" cy="33.04" r="9.10"/>
<circle cx="1396.01" cy="33.04" r="9.10"/>
<circle cx="1427.30" cy="33.04" r="9.10"/>
<circle cx="1458.59" cy="33.04" r="9.10"/>
<circle cx="1489.88" cy="33.04" r="9.10"/>
<circle cx="1521.17" cy="33.04" r="9.10"/>
<circle cx="1552.46" cy="33.04" r="9.10"/>
<circle cx="1583.75" cy="33.04" r="9.10"/>
<circle cx="1270.85" cy="64.31" r="9.10"/>
<circle cx="1302.14" cy="64.31" r="9.10"/>
<circle cx="1333.43" cy="64.31" r="9.10"/>
<circle cx="1364.72" cy="64.31" r="9.10"/>
<circle cx="1396.01" cy="64.31" r="9.10"/>
<circle cx="1427.30" cy="64.31" r="9.10"/>
<circle cx="1458.59" cy="64.31" r="9.10"/>
<circle cx="1489.88" cy="64.31" r="9.10"/>
<circle cx="1521.17" cy="64.31" r="9.10"/>
<circle cx="1552.46" cy="64.31" r="9.10"/>
<circle cx="1583.75" cy="64.31" r="9.10"/>
<circle cx="1270.85" cy="95.58" r="9.10"/>
<circle cx="1302.14" cy="95.58" r="9.10"/>
<circle cx="1333.43" cy="95.58" r="9.10"/>
<circle cx="1364.72" cy="95.58" r="9.10"/>
<circle cx="1396.01" cy="95.58" r="9.10"/>
<circle cx="1427.30" cy="95.58" r="9.10"/>
<circle cx="1458.59" cy="95.58" r="9.10"/>
<circle cx="1489.88" cy="95.58" r="9.10"/>
<circle cx="1521.17" cy="95.58" r="9.10"/>
<circle cx="1552.46" cy="95.58" r="9.10"/>
<circle cx="1583.75" cy="95.58" r="9.10"/>
<circle cx="1270.85" cy="126.85" r="9.10"/>
<circle cx="1302.14" cy="126.85" r="9.10"/>
<circle cx="1333.43" cy="126.85" r="9.10"/>
<circle cx="1364.72" cy="126.85" r="9.10"/>
<circle cx="1396.01" cy="126.85" r="9.10"/>
<circle cx="1427.30" cy="126.85" r="9.10"/>
<circle cx="1458.59" cy="126.85" r="9.10"/>
<circle cx="1489.88" cy="126.85" r="9.10"/>
<circle cx="1521.17" cy="126.85" r="9.10"/>
<circle cx="1552.46" cy="126.85" r="9.10"/>
<circle cx="1583.75" cy="126.85" r="9.10"/>
<circle cx="1270.85" cy="158.13" r="9.10"/>
<circle cx="1302.14" cy="158.13" r="9.10"/>
<circle cx="1333.43" cy="158.13" r="9.10"/>
<circle cx="1364.72" cy="158.13" r="9.10"/>
<circle cx="1396.01" cy="158.13" r="9.10"/>
<circle cx="1427.30" cy="158.13" r="9.10"/>
<circle cx="1458.59" cy="158.13" r="9.10"/>
<circle cx="1489.88" cy="158.13" r="9.10"/>
<circle cx="1521.17" cy="158.13" r="9.10"/>
<circle cx="1552.46" cy="158.13" r="9.10"/>
<circle cx="1583.75" cy="158.13" r="9.10"/>
<circle cx="1270.85" cy="189.40" r="9.10"/>
<circle cx="1302.14" cy="189.40" r="9.10"/>
<circle cx="1333.43" cy="189.40" r="9.10"/>
<circle cx="1364.72" cy="189.40" r="9.10"/>
<circle cx="1396.01" cy="189.40" r="9.10"/>
<circle cx="1427.30" cy="189.40" r="9.10"/>
<circle cx="1458.59" cy="189.40" r="9.10"/>
<circle cx="1489.88" cy="189.40" r="9.10"/>
<circle cx="1521.17" cy="189.40" r="9.10"/>
<circle cx="1552.46" cy="189.40" r="9.10"/>
<circle cx="1583.75" cy="189.40" r="9.10"/>
<circle cx="1270.85" cy="220.67" r="9.10"/>
<circle cx="1302.14" cy="220.67" r="9.10"/>
<circle cx="1333.43" cy="220.67" r="9.10"/>
<circle cx="1364.72" cy="220.67" r="9.10"/>
<circle cx="1396.01" cy="220.67" r="9.10"/>
<circle cx="1427.30" cy="220.67" r="9.10"/>
<circle cx="1458.59" cy="220.67" r="9.10"/>
<circle cx="1489.88" cy="220.67" r="9.10"/>
<circle cx="1521.17" cy="220.67" r="9.10"/>
<circle cx="1552.46" cy="220.67" r="9.10"/>
<circle cx="1583.75" cy="220.67" r="9.10"/>
<circle cx="1270.85" cy="251.95" r="9.10"/>
<circle cx="1302.14" cy="251.95" r="9.10"/>
<circle cx="1333.43" cy="251.95" r="9.10"/>
<circle cx="1364.72" cy="251.95" r="9.10"/>
<circle cx="1396.01" cy="251.95" r="9.10"/>
<circle cx="1427.30" cy="251.95" r="9.10"/>
<circle cx="1458.59" cy="251.95" r="9.10"/>
<circle cx="1489.88" cy="251.95" r="9.10"/>
<circle cx="1521.17" cy="251.95" r="9.10"/>
<circle cx="1552.46" cy="251.95" r="9.10"/>
<circle cx="1583.75" cy="251.95" r="9.10"/>
<circle cx="1270.85" cy="283.22" r="9.10"/>
<circle cx="1302.14" cy="283.22" r="9.10"/>
<circle cx="1333.43" cy="283.22" r="9.10"/>
<circle cx="1364.72" cy="283.22" r="9.10"/>
<circle cx="1396.01" cy="283.22" r="9.10"/>
<circle cx="1427.30" cy="283.22" r="9.10"/>
<circle cx="1458.59" cy="283.22" r="9.10"/>
<circle cx="1489.88" cy="283.22" r="9.10"/>
<circle cx="1521.17" cy="283.22" r="9.10"/>
<circle cx="1552.46" cy="283.22" r="9.10"/>
<circle cx="1583.75" cy="283.22" r="9.10"/>
<circle cx="1270.85" cy="314.49" r="9.10"/>
<circle cx="1302.14" cy="314.49" r="9.10"/>
<circle cx="1333.43" cy="314.49" r="9.10"/>
<circle cx="1364.72" cy="314.49" r="9.10"/>
<circle cx="1396.01" cy="314.49" r="9.10"/>
<circle cx="1427.30" cy="314.49" r="9.10"/>
<circle cx="1458.59" cy="314.49" r="9.10"/>
<circle cx="1489.88" cy="314.49" r="9.10"/>
<circle cx="1521.17" cy="314.49" r="9.10"/>
<circle cx="1552.46" cy="314.49" r="9.10"/>
<circle cx="1583.75" cy="314.49" r="9.10"/>
<circle cx="1270.85" cy="345.76" r="9.10"/>
<circle cx="1302.14" cy="345.76" r="9.10"/>
<circle cx="1333.43" cy="345.76" r="9.10"/>
<circle cx="1364.72" cy="345.76" r="9.10"/>
<circle cx="1396.01" cy="345.76" r="9.10"/>
<circle cx="1427.30" cy="345.76" r="9.10"/>
<circle cx="1458.59" cy="345.76" r="9.10"/>
<circle cx="1489.88" cy="345.76" r="9.10"/>
<circle cx="1521.17" cy="345.76" r="9.10"/>
<circle cx="1552.46" cy="345.76" r="9.10"/>
<circle cx="1583.75" cy="345.76" r="9.10"/>
</g>
<rect x="1250.80" y="17.40" width="344.20" height="344.00" fill="none" stroke="#000" stroke-opacity="0.72" stroke-width="1.3"/>
<rect x="1248.40" y="15.00" width="349.00" height="349.40" fill="none" stroke="#d2d2d2" stroke-width="1.2"/>
</g>
</svg></body></html>
